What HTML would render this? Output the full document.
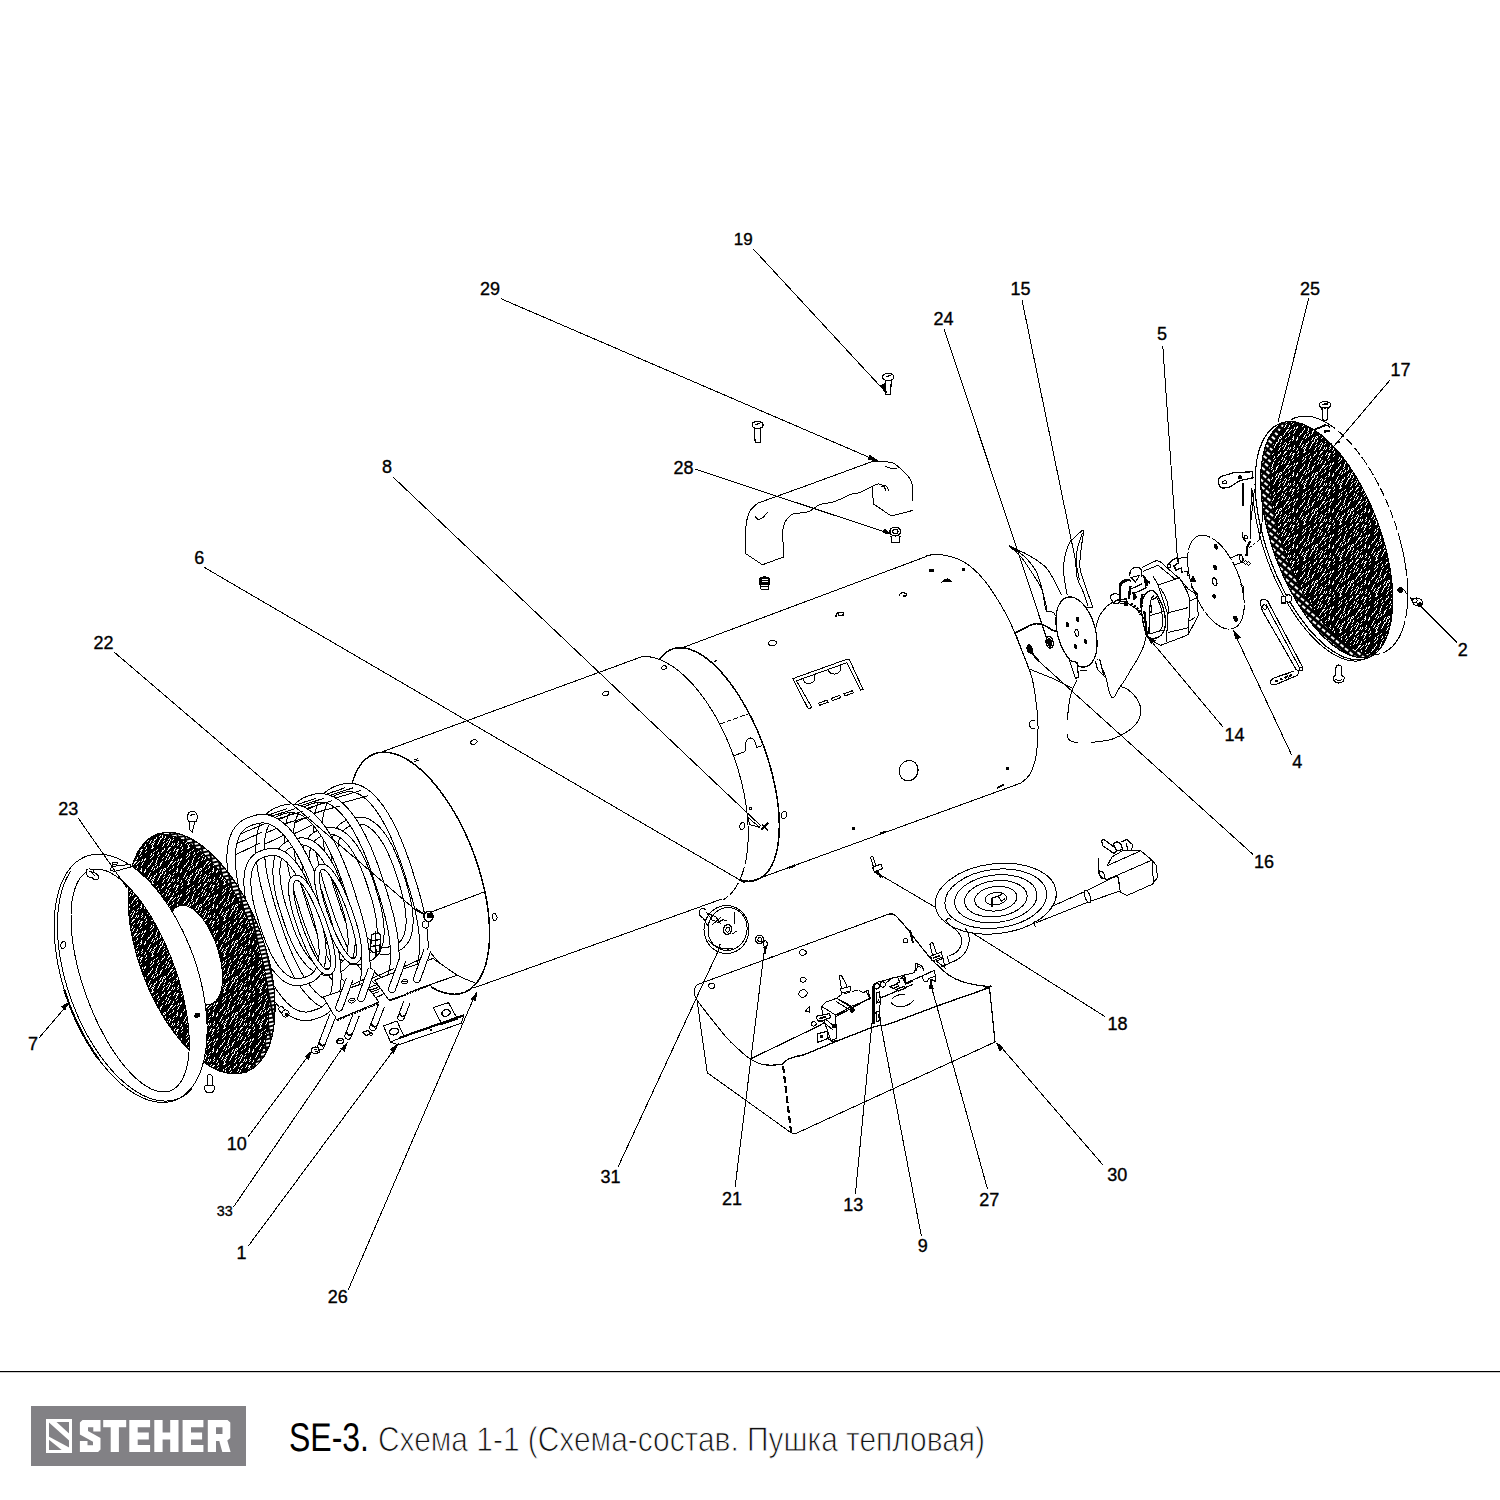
<!DOCTYPE html>
<html><head><meta charset="utf-8"><title>SE-3</title>
<style>
html,body{margin:0;padding:0;background:#fff;}
body{width:1500px;height:1500px;overflow:hidden;font-family:"Liberation Sans",sans-serif;}
svg{display:block;position:absolute;left:0;top:0;}
svg text{font-family:"Liberation Sans",sans-serif;}
</style></head><body>
<svg width="1500" height="1500" viewBox="0 0 1500 1500" shape-rendering="crispEdges">
<defs>

<pattern id="mesh" width="36" height="36" patternUnits="userSpaceOnUse"><rect width="36" height="36" fill="#000"/><g fill="#fff"><rect x="0" y="7" width="1" height="1"/><rect x="0" y="8" width="1" height="1"/><rect x="0" y="18" width="1" height="1"/><rect x="0" y="31" width="1" height="1"/><rect x="0" y="32" width="1" height="1"/><rect x="1" y="5" width="1" height="1"/><rect x="1" y="6" width="1" height="1"/><rect x="1" y="7" width="1" height="1"/><rect x="1" y="16" width="1" height="1"/><rect x="1" y="17" width="1" height="1"/><rect x="1" y="21" width="1" height="1"/><rect x="1" y="24" width="1" height="1"/><rect x="1" y="30" width="1" height="1"/><rect x="1" y="31" width="1" height="1"/><rect x="2" y="19" width="1" height="1"/><rect x="2" y="20" width="1" height="1"/><rect x="2" y="23" width="1" height="1"/><rect x="3" y="3" width="1" height="1"/><rect x="3" y="13" width="1" height="1"/><rect x="4" y="1" width="1" height="1"/><rect x="4" y="2" width="1" height="1"/><rect x="4" y="11" width="1" height="1"/><rect x="4" y="12" width="1" height="1"/><rect x="5" y="1" width="1" height="1"/><rect x="5" y="9" width="1" height="1"/><rect x="5" y="10" width="1" height="1"/><rect x="5" y="15" width="1" height="1"/><rect x="6" y="0" width="1" height="1"/><rect x="6" y="8" width="1" height="1"/><rect x="6" y="13" width="1" height="1"/><rect x="6" y="14" width="1" height="1"/><rect x="6" y="27" width="1" height="1"/><rect x="6" y="30" width="1" height="1"/><rect x="6" y="35" width="1" height="1"/><rect x="7" y="5" width="1" height="1"/><rect x="7" y="12" width="1" height="1"/><rect x="7" y="16" width="1" height="1"/><rect x="7" y="20" width="1" height="1"/><rect x="7" y="25" width="1" height="1"/><rect x="7" y="26" width="1" height="1"/><rect x="7" y="29" width="1" height="1"/><rect x="7" y="34" width="1" height="1"/><rect x="8" y="3" width="1" height="1"/><rect x="8" y="4" width="1" height="1"/><rect x="8" y="15" width="1" height="1"/><rect x="8" y="17" width="1" height="1"/><rect x="8" y="18" width="1" height="1"/><rect x="8" y="19" width="1" height="1"/><rect x="8" y="20" width="1" height="1"/><rect x="8" y="28" width="1" height="1"/><rect x="8" y="32" width="1" height="1"/><rect x="8" y="33" width="1" height="1"/><rect x="9" y="2" width="1" height="1"/><rect x="9" y="6" width="1" height="1"/><rect x="9" y="13" width="1" height="1"/><rect x="9" y="15" width="1" height="1"/><rect x="9" y="16" width="1" height="1"/><rect x="9" y="19" width="1" height="1"/><rect x="9" y="24" width="1" height="1"/><rect x="9" y="26" width="1" height="1"/><rect x="9" y="27" width="1" height="1"/><rect x="10" y="4" width="1" height="1"/><rect x="10" y="5" width="1" height="1"/><rect x="10" y="11" width="1" height="1"/><rect x="10" y="12" width="1" height="1"/><rect x="10" y="14" width="1" height="1"/><rect x="10" y="23" width="1" height="1"/><rect x="11" y="1" width="1" height="1"/><rect x="11" y="11" width="1" height="1"/><rect x="11" y="35" width="1" height="1"/><rect x="12" y="0" width="1" height="1"/><rect x="12" y="4" width="1" height="1"/><rect x="12" y="9" width="1" height="1"/><rect x="12" y="10" width="1" height="1"/><rect x="12" y="22" width="1" height="1"/><rect x="12" y="32" width="1" height="1"/><rect x="12" y="33" width="1" height="1"/><rect x="12" y="34" width="1" height="1"/><rect x="13" y="2" width="1" height="1"/><rect x="13" y="3" width="1" height="1"/><rect x="13" y="16" width="1" height="1"/><rect x="13" y="21" width="1" height="1"/><rect x="13" y="26" width="1" height="1"/><rect x="13" y="30" width="1" height="1"/><rect x="13" y="31" width="1" height="1"/><rect x="14" y="14" width="1" height="1"/><rect x="14" y="15" width="1" height="1"/><rect x="14" y="24" width="1" height="1"/><rect x="14" y="25" width="1" height="1"/><rect x="14" y="28" width="1" height="1"/><rect x="15" y="2" width="1" height="1"/><rect x="15" y="8" width="1" height="1"/><rect x="15" y="12" width="1" height="1"/><rect x="15" y="13" width="1" height="1"/><rect x="15" y="27" width="1" height="1"/><rect x="16" y="0" width="1" height="1"/><rect x="16" y="1" width="1" height="1"/><rect x="16" y="6" width="1" height="1"/><rect x="16" y="7" width="1" height="1"/><rect x="16" y="10" width="1" height="1"/><rect x="16" y="11" width="1" height="1"/><rect x="16" y="35" width="1" height="1"/><rect x="17" y="5" width="1" height="1"/><rect x="17" y="10" width="1" height="1"/><rect x="17" y="24" width="1" height="1"/><rect x="17" y="34" width="1" height="1"/><rect x="17" y="35" width="1" height="1"/><rect x="18" y="7" width="1" height="1"/><rect x="18" y="8" width="1" height="1"/><rect x="18" y="9" width="1" height="1"/><rect x="18" y="18" width="1" height="1"/><rect x="18" y="22" width="1" height="1"/><rect x="18" y="23" width="1" height="1"/><rect x="18" y="30" width="1" height="1"/><rect x="18" y="33" width="1" height="1"/><rect x="19" y="5" width="1" height="1"/><rect x="19" y="6" width="1" height="1"/><rect x="19" y="13" width="1" height="1"/><rect x="19" y="16" width="1" height="1"/><rect x="19" y="17" width="1" height="1"/><rect x="19" y="22" width="1" height="1"/><rect x="19" y="29" width="1" height="1"/><rect x="20" y="4" width="1" height="1"/><rect x="20" y="6" width="1" height="1"/><rect x="20" y="10" width="1" height="1"/><rect x="20" y="12" width="1" height="1"/><rect x="20" y="15" width="1" height="1"/><rect x="20" y="20" width="1" height="1"/><rect x="20" y="21" width="1" height="1"/><rect x="21" y="4" width="1" height="1"/><rect x="21" y="5" width="1" height="1"/><rect x="21" y="8" width="1" height="1"/><rect x="21" y="9" width="1" height="1"/><rect x="21" y="27" width="1" height="1"/><rect x="21" y="32" width="1" height="1"/><rect x="22" y="14" width="1" height="1"/><rect x="22" y="25" width="1" height="1"/><rect x="22" y="26" width="1" height="1"/><rect x="22" y="30" width="1" height="1"/><rect x="22" y="31" width="1" height="1"/><rect x="23" y="3" width="1" height="1"/><rect x="23" y="13" width="1" height="1"/><rect x="23" y="17" width="1" height="1"/><rect x="23" y="22" width="1" height="1"/><rect x="23" y="28" width="1" height="1"/><rect x="24" y="1" width="1" height="1"/><rect x="24" y="2" width="1" height="1"/><rect x="24" y="11" width="1" height="1"/><rect x="24" y="15" width="1" height="1"/><rect x="24" y="16" width="1" height="1"/><rect x="24" y="20" width="1" height="1"/><rect x="24" y="21" width="1" height="1"/><rect x="24" y="26" width="1" height="1"/><rect x="24" y="27" width="1" height="1"/><rect x="24" y="31" width="1" height="1"/><rect x="25" y="0" width="1" height="1"/><rect x="25" y="6" width="1" height="1"/><rect x="25" y="10" width="1" height="1"/><rect x="25" y="13" width="1" height="1"/><rect x="25" y="14" width="1" height="1"/><rect x="25" y="19" width="1" height="1"/><rect x="25" y="20" width="1" height="1"/><rect x="25" y="24" width="1" height="1"/><rect x="25" y="29" width="1" height="1"/><rect x="25" y="30" width="1" height="1"/><rect x="26" y="5" width="1" height="1"/><rect x="26" y="11" width="1" height="1"/><rect x="26" y="12" width="1" height="1"/><rect x="26" y="19" width="1" height="1"/><rect x="26" y="23" width="1" height="1"/><rect x="26" y="28" width="1" height="1"/><rect x="26" y="34" width="1" height="1"/><rect x="26" y="35" width="1" height="1"/><rect x="27" y="17" width="1" height="1"/><rect x="27" y="33" width="1" height="1"/><rect x="27" y="34" width="1" height="1"/><rect x="28" y="0" width="1" height="1"/><rect x="28" y="4" width="1" height="1"/><rect x="28" y="12" width="1" height="1"/><rect x="28" y="15" width="1" height="1"/><rect x="28" y="16" width="1" height="1"/><rect x="28" y="31" width="1" height="1"/><rect x="28" y="33" width="1" height="1"/><rect x="29" y="2" width="1" height="1"/><rect x="29" y="3" width="1" height="1"/><rect x="29" y="9" width="1" height="1"/><rect x="29" y="11" width="1" height="1"/><rect x="29" y="17" width="1" height="1"/><rect x="29" y="23" width="1" height="1"/><rect x="29" y="29" width="1" height="1"/><rect x="29" y="30" width="1" height="1"/><rect x="29" y="35" width="1" height="1"/><rect x="30" y="8" width="1" height="1"/><rect x="30" y="15" width="1" height="1"/><rect x="30" y="16" width="1" height="1"/><rect x="30" y="21" width="1" height="1"/><rect x="30" y="22" width="1" height="1"/><rect x="30" y="34" width="1" height="1"/><rect x="31" y="20" width="1" height="1"/><rect x="31" y="26" width="1" height="1"/><rect x="31" y="33" width="1" height="1"/><rect x="32" y="6" width="1" height="1"/><rect x="32" y="8" width="1" height="1"/><rect x="32" y="22" width="1" height="1"/><rect x="32" y="24" width="1" height="1"/><rect x="32" y="25" width="1" height="1"/><rect x="32" y="28" width="1" height="1"/><rect x="33" y="1" width="1" height="1"/><rect x="33" y="4" width="1" height="1"/><rect x="33" y="5" width="1" height="1"/><rect x="33" y="6" width="1" height="1"/><rect x="33" y="7" width="1" height="1"/><rect x="33" y="15" width="1" height="1"/><rect x="33" y="17" width="1" height="1"/><rect x="33" y="21" width="1" height="1"/><rect x="33" y="22" width="1" height="1"/><rect x="33" y="23" width="1" height="1"/><rect x="33" y="27" width="1" height="1"/><rect x="33" y="33" width="1" height="1"/><rect x="34" y="0" width="1" height="1"/><rect x="34" y="13" width="1" height="1"/><rect x="34" y="14" width="1" height="1"/><rect x="34" y="16" width="1" height="1"/><rect x="34" y="21" width="1" height="1"/><rect x="34" y="31" width="1" height="1"/><rect x="34" y="32" width="1" height="1"/><rect x="34" y="35" width="1" height="1"/><rect x="35" y="34" width="1" height="1"/></g></pattern>
<pattern id="rim" width="7" height="4" patternUnits="userSpaceOnUse" patternTransform="rotate(-12)">
  <rect width="7" height="4" fill="#000"/>
  <rect x="1" y="1" width="5" height="2" fill="#fff"/>
</pattern>
<pattern id="rim2" width="6" height="5" patternUnits="userSpaceOnUse" patternTransform="rotate(40)">
  <rect width="6" height="5" fill="#000"/>
  <rect x="1" y="1.2" width="3.8" height="2.2" fill="#fff"/>
</pattern>
<pattern id="hatch" width="4" height="4" patternUnits="userSpaceOnUse" patternTransform="rotate(-40)">
  <rect width="4" height="4" fill="#fff"/>
  <rect x="0" y="0" width="4" height="2" fill="#000"/>
</pattern>

</defs>
<rect x="0" y="0" width="1500" height="1500" fill="#fff"/>
<rect x="0" y="1371" width="1500" height="1" fill="#000"/>
<rect x="0" y="1372" width="1500" height="1" fill="#cfcfcf"/>
<rect x="31" y="1406" width="215" height="60" fill="#828185"/>
<rect x="46" y="1419.3" width="25.8" height="33.6" fill="#fff"/>
<rect x="48.7" y="1422" width="20.4" height="28.2" fill="#828185"/>
<clipPath id="icl"><rect x="48.7" y="1422" width="20.4" height="28.2"/></clipPath>
<g clip-path="url(#icl)" shape-rendering="geometricPrecision">
<polygon points="48.7,1422 56.5,1422 69.1,1433.5 69.1,1440.5 48.7,1422.2" fill="#fff"/>
<polygon points="48.7,1436.5 48.7,1439.5 62,1450.2 69.1,1450.2 69.1,1447.5 " fill="#fff"/>
</g>
<g shape-rendering="geometricPrecision" fill="#fff">
<polygon points="82.5,1420 100.5,1420 100.5,1431.5 93.3,1431.5 93.3,1427.3 88,1427.3 88,1431 100.5,1438 100.5,1449.5 98,1452 79.9,1452 79.9,1441 87.5,1441 87.5,1445.2 93,1445.2 93,1441.8 79.9,1434.5 79.9,1422.5"/>
<polygon points="103.2,1420 126.2,1420 126.2,1427.2 118.9,1427.2 118.9,1452 110.7,1452 110.7,1427.2 103.2,1427.2"/>
<polygon points="129.3,1420 150.1,1420 150.1,1427.2 137.7,1427.2 137.7,1432.5 148.8,1432.5 148.8,1439.5 137.7,1439.5 137.7,1445 150.1,1445 150.1,1452 129.3,1452"/>
<polygon points="154.3,1420 162.6,1420 162.6,1432.5 170.2,1432.5 170.2,1420 178.5,1420 178.5,1452 170.2,1452 170.2,1439.6 162.6,1439.6 162.6,1452 154.3,1452"/>
<polygon points="182.6,1420 203.4,1420 203.4,1427.2 191,1427.2 191,1432.5 202.1,1432.5 202.1,1439.5 191,1439.5 191,1445 203.4,1445 203.4,1452 182.6,1452"/>
<path fill-rule="evenodd" d="M207.8 1420 L227.5 1420 L230.3 1422.5 L230.3 1438 L227.3 1440.6 L230.6 1452 L222.3 1452 L219.3 1441 L216 1441 L216 1452 L207.8 1452 Z M216 1427.2 L222.5 1427.2 L222.5 1434 L216 1434 Z"/>
</g>
<g shape-rendering="geometricPrecision" text-rendering="geometricPrecision">
<text x="289" y="1451" font-size="40" textLength="80" lengthAdjust="spacingAndGlyphs" fill="#000">SE-3.</text>
<text x="378" y="1451" font-size="34.5" textLength="607" lengthAdjust="spacingAndGlyphs" fill="#111" stroke="#fff" stroke-width="0.9">Схема 1-1 (Схема-состав. Пушка тепловая)</text>
</g>
<line x1="380.0" y1="752.6" x2="641.0" y2="657.0" stroke="#000" stroke-width="1"/>
<line x1="473.5" y1="988.0" x2="722.5" y2="898.8" stroke="#000" stroke-width="1"/>
<path d="M640.7 656.7 L643.7 656.5 L646.8 656.6 L649.9 656.9 L653.0 657.5 L656.3 658.4 L659.5 659.5 L662.8 660.9 L666.1 662.6 L669.5 664.5 L672.8 666.6 L676.2 669.0 L679.6 671.7 L682.9 674.5 L686.3 677.7 L689.6 681.0 L692.9 684.5 L696.1 688.3 L699.3 692.2 L702.5 696.4 L705.6 700.7 L708.6 705.2 L711.6 709.8 L714.5 714.7 L717.3 719.6 L720.0 724.7 L722.6 729.9 L725.1 735.2 L727.5 740.6 L729.8 746.1 L732.0 751.7 L734.1 757.3 L736.0 763.0 L737.8 768.7 L739.5 774.5 L741.0 780.2 L742.4 786.0 L743.7 791.7 L744.8 797.5 L745.7 803.1 L746.5 808.8 L747.2 814.3 L747.7 819.8 L748.0 825.3 L748.2 830.6 L748.2 835.8 L748.1 840.9 L747.8 845.8 L747.3 850.6" fill="none" stroke="#000" stroke-width="1" />
<path d="M747.3 850.6 L747.2 852.1 L747.0 853.6 L746.8 855.0 L746.6 856.4 L746.3 857.9 L746.1 859.2 L745.8 860.6 L745.6 862.0 L745.3 863.3 L745.0 864.7 L744.6 866.0 L744.3 867.3 L744.0 868.5 L743.6 869.8 L743.2 871.0 L742.8 872.2 L742.4 873.4 L742.0 874.6 L741.6 875.8 L741.1 876.9 L740.7 878.0 L740.2 879.1 L739.7 880.2 L739.2 881.2 L738.7 882.3 L738.2 883.3 L737.6 884.3 L737.1 885.2 L736.5 886.2 L735.9 887.1 L735.3 888.0 L734.7 888.9 L734.1 889.7 L733.5 890.5 L732.8 891.4 L732.2 892.1 L731.5 892.9 L730.8 893.6 L730.1 894.3 L729.4 895.0 L728.7 895.7 L728.0 896.3 L727.3 896.9 L726.5 897.5 L725.8 898.1 L725.0 898.6 L724.2 899.2 L723.4 899.6" fill="none" stroke="#000" stroke-width="1" stroke-dasharray="14 3"/>
<path d="M350.8 788.7 L352.7 781.3 L355.1 774.6 L358.0 768.7 L361.3 763.7 L365.2 759.5 L369.5 756.2 L374.1 753.9 L379.2 752.5 L384.5 752.1 L390.1 752.7 L396.0 754.2 L402.0 756.7 L408.2 760.1 L414.5 764.4 L420.8 769.6 L427.1 775.6 L433.3 782.4 L439.4 789.9 L445.3 798.1 L451.1 806.9 L456.6 816.2 L461.8 825.9 L466.6 836.1 L471.1 846.5 L475.1 857.2 L478.7 868.0 L481.8 878.8 L484.5 889.6 L486.6 900.2 L488.1 910.7 L489.1 920.8 L489.6 930.6 L489.5 939.9 L488.8 948.6 L487.5 956.8 L485.8 964.3 L483.5 971.0 L480.6 977.0 L477.3 982.2 L473.5 986.5 L469.3 989.8 L464.7 992.3 L459.7 993.8 L454.4 994.3 L448.8 993.8 L442.9 992.4 L436.9 990.1 L430.8 986.8" fill="none" stroke="#000" stroke-width="1.5" />
<path d="M429.3 951.3 C431.2 953.4 436.3 960.0 441.0 964.0 C445.7 968.0 451.7 972.2 457.3 975.3 C462.9 978.4 471.8 981.5 474.7 982.7" fill="none" stroke="#000" stroke-width="1" />
<line x1="426.0" y1="914.0" x2="484.0" y2="892.0" stroke="#000" stroke-width="1"/>
<path d="M476.9 740.9 L477.0 741.2 L477.0 741.4 L477.0 741.7 L476.9 742.1 L476.7 742.4 L476.5 742.7 L476.3 743.0 L476.0 743.2 L475.7 743.5 L475.3 743.7 L475.0 743.9 L474.6 744.1 L474.1 744.2 L473.7 744.3 L473.3 744.3 L472.9 744.4 L472.5 744.3 L472.1 744.3 L471.8 744.2 L471.5 744.0 L471.2 743.8 L471.0 743.6 L470.8 743.4 L470.7 743.1 L470.6 742.8 L470.6 742.6 L470.6 742.3 L470.7 741.9 L470.9 741.6 L471.1 741.3 L471.3 741.0 L471.6 740.8 L471.9 740.5 L472.3 740.3 L472.6 740.1 L473.0 739.9 L473.5 739.8 L473.9 739.7 L474.3 739.7 L474.7 739.6 L475.1 739.7 L475.5 739.7 L475.8 739.8 L476.1 740.0 L476.4 740.2 L476.6 740.4 L476.8 740.6 L476.9 740.9Z" fill="#fff" stroke="#000" stroke-width="1" />
<path d="M608.9 692.4 L609.0 692.7 L609.0 692.9 L609.0 693.2 L608.9 693.6 L608.7 693.9 L608.5 694.2 L608.3 694.5 L608.0 694.7 L607.7 695.0 L607.3 695.2 L607.0 695.4 L606.6 695.6 L606.1 695.7 L605.7 695.8 L605.3 695.8 L604.9 695.9 L604.5 695.8 L604.1 695.8 L603.8 695.7 L603.5 695.5 L603.2 695.3 L603.0 695.1 L602.8 694.9 L602.7 694.6 L602.6 694.3 L602.6 694.1 L602.6 693.8 L602.7 693.4 L602.9 693.1 L603.1 692.8 L603.3 692.5 L603.6 692.3 L603.9 692.0 L604.3 691.8 L604.6 691.6 L605.0 691.4 L605.5 691.3 L605.9 691.2 L606.3 691.2 L606.7 691.1 L607.1 691.2 L607.5 691.2 L607.8 691.3 L608.1 691.5 L608.4 691.7 L608.6 691.9 L608.8 692.1 L608.9 692.4Z" fill="#fff" stroke="#000" stroke-width="1" />
<path d="M666.4 666.8 L666.5 667.0 L666.5 667.3 L666.5 667.5 L666.4 667.8 L666.3 668.0 L666.2 668.3 L666.0 668.5 L665.8 668.7 L665.5 668.9 L665.2 669.1 L664.9 669.3 L664.6 669.4 L664.3 669.5 L664.0 669.6 L663.6 669.6 L663.3 669.6 L663.0 669.6 L662.7 669.5 L662.4 669.4 L662.2 669.3 L662.0 669.2 L661.8 669.0 L661.7 668.8 L661.6 668.6 L661.5 668.4 L661.5 668.1 L661.5 667.9 L661.6 667.6 L661.7 667.4 L661.8 667.1 L662.0 666.9 L662.2 666.7 L662.5 666.5 L662.8 666.3 L663.1 666.1 L663.4 666.0 L663.7 665.9 L664.0 665.8 L664.4 665.8 L664.7 665.8 L665.0 665.8 L665.3 665.9 L665.6 666.0 L665.8 666.1 L666.0 666.2 L666.2 666.4 L666.3 666.6 L666.4 666.8Z" fill="#fff" stroke="#000" stroke-width="1" />
<path d="M496.8 916.4 L496.9 916.8 L497.0 917.3 L497.0 917.8 L497.0 918.2 L496.9 918.6 L496.8 919.0 L496.7 919.4 L496.5 919.7 L496.2 920.0 L496.0 920.2 L495.7 920.4 L495.4 920.5 L495.1 920.5 L494.8 920.5 L494.5 920.5 L494.1 920.3 L493.8 920.1 L493.5 919.9 L493.2 919.6 L493.0 919.3 L492.7 918.9 L492.5 918.5 L492.3 918.1 L492.2 917.6 L492.1 917.2 L492.0 916.7 L492.0 916.2 L492.0 915.8 L492.1 915.4 L492.2 915.0 L492.3 914.6 L492.5 914.3 L492.8 914.0 L493.0 913.8 L493.3 913.6 L493.6 913.5 L493.9 913.5 L494.2 913.5 L494.5 913.5 L494.9 913.7 L495.2 913.9 L495.5 914.1 L495.8 914.4 L496.0 914.7 L496.3 915.1 L496.5 915.5 L496.7 915.9 L496.8 916.4Z" fill="#fff" stroke="#000" stroke-width="1" />
<path d="M414 760 L418 758.5 M414.5 761.5 L418.5 760" fill="none" stroke="#000" stroke-width="1" />
<path d="M714 661.5 L717 660.5" fill="none" stroke="#000" stroke-width="1.5" />
<path d="M659.7 659.4 L662.6 655.7 L665.8 652.7 L669.3 650.4 L673.1 648.8 L677.1 647.9 L681.3 647.7 L685.8 648.2 L690.4 649.5 L695.2 651.4 L700.1 654.0 L705.1 657.3 L710.1 661.2 L715.2 665.8 L720.2 671.0 L725.3 676.8 L730.2 683.1 L735.1 689.8 L739.8 697.1 L744.4 704.8 L748.8 712.8 L753.0 721.1 L757.0 729.7 L760.7 738.5 L764.1 747.5 L767.2 756.6 L770.0 765.7 L772.4 774.8 L774.5 783.9 L776.3 792.8 L777.6 801.6 L778.6 810.1 L779.2 818.4 L779.3 826.3 L779.1 833.9 L778.5 841.0 L777.5 847.6 L776.1 853.8 L774.4 859.4 L772.3 864.4 L769.8 868.9 L767.0 872.6 L763.8 875.8 L760.4 878.2 L756.7 879.9 L752.7 881.0 L748.5 881.3 L744.1 880.9 L739.5 879.8" fill="none" stroke="#000" stroke-width="1.5" />
<line x1="679.0" y1="649.0" x2="927.0" y2="556.2" stroke="#000" stroke-width="1"/>
<line x1="749.0" y1="882.0" x2="1021.0" y2="783.0" stroke="#000" stroke-width="1"/>
<path d="M926.0 556.0 C928.3 555.7 933.7 553.4 940.0 554.4 C946.3 555.4 956.7 557.7 964.0 562.0 C971.3 566.3 977.0 571.3 984.0 580.0 C991.0 588.7 1000.0 603.0 1006.0 614.0 C1012.0 625.0 1015.7 635.3 1020.0 646.0 C1024.3 656.7 1029.2 667.3 1032.0 678.0 C1034.8 688.7 1036.0 701.3 1037.0 710.0 C1038.0 718.7 1038.2 722.3 1038.0 730.0 C1037.8 737.7 1037.3 748.7 1036.0 756.0 C1034.7 763.3 1032.5 769.5 1030.0 774.0 C1027.5 778.5 1022.5 781.5 1021.0 783.0" fill="none" stroke="#000" stroke-width="1" />
<path d="M720 724 L748 714" fill="none" stroke="#000" stroke-width="1" stroke-dasharray="5 2"/>
<path d="M733 756 L745 751.7 L745.3 745.5 Q746 738.5 750.5 738 Q755.5 738.5 756.5 747.6 L762 745.6" fill="none" stroke="#000" stroke-width="1" />
<path d="M786.4 816.1 L786.1 816.5 L785.9 817.0 L785.6 817.3 L785.2 817.7 L784.9 818.0 L784.5 818.2 L784.2 818.4 L783.8 818.5 L783.4 818.6 L783.1 818.6 L782.7 818.6 L782.4 818.4 L782.1 818.3 L781.8 818.0 L781.6 817.8 L781.4 817.4 L781.3 817.1 L781.2 816.7 L781.2 816.2 L781.2 815.8 L781.2 815.3 L781.3 814.8 L781.5 814.4 L781.6 813.9 L781.9 813.5 L782.1 813.0 L782.4 812.7 L782.8 812.3 L783.1 812.0 L783.5 811.8 L783.8 811.6 L784.2 811.5 L784.6 811.4 L784.9 811.4 L785.3 811.4 L785.6 811.6 L785.9 811.7 L786.2 812.0 L786.4 812.2 L786.6 812.6 L786.7 812.9 L786.8 813.3 L786.8 813.8 L786.8 814.2 L786.8 814.7 L786.7 815.2 L786.5 815.6 L786.4 816.1Z" fill="#fff" stroke="#000" stroke-width="1" />
<path d="M744.7 826.4 L744.6 826.9 L744.4 827.3 L744.2 827.7 L744.0 828.1 L743.8 828.5 L743.5 828.8 L743.2 829.1 L742.9 829.3 L742.6 829.4 L742.3 829.5 L742.0 829.6 L741.7 829.5 L741.4 829.5 L741.1 829.3 L740.8 829.1 L740.6 828.9 L740.4 828.6 L740.2 828.2 L740.0 827.8 L739.9 827.4 L739.9 827.0 L739.9 826.5 L739.9 826.0 L739.9 825.6 L740.0 825.1 L740.2 824.7 L740.4 824.3 L740.6 823.9 L740.8 823.5 L741.1 823.2 L741.4 822.9 L741.7 822.7 L742.0 822.6 L742.3 822.5 L742.6 822.4 L742.9 822.5 L743.2 822.5 L743.5 822.7 L743.8 822.9 L744.0 823.1 L744.2 823.4 L744.4 823.8 L744.6 824.2 L744.7 824.6 L744.7 825.0 L744.7 825.5 L744.7 826.0 L744.7 826.4Z" fill="#fff" stroke="#000" stroke-width="1" />
<rect x="749" y="807" width="2" height="2" fill="none" stroke="#000" stroke-width="1"/>
<path d="M748 817 L749.5 824.5 L760 827.5 L752 821 Z" fill="none" stroke="#000" stroke-width="1" />
<path d="M761 830 L768 823 M762 825 L768 830" fill="none" stroke="#000" stroke-width="1.6" />
<path d="M776.4 642.4 L776.4 642.8 L776.3 643.1 L776.2 643.5 L776.0 643.8 L775.8 644.1 L775.5 644.4 L775.1 644.7 L774.7 645.0 L774.3 645.2 L773.8 645.3 L773.3 645.5 L772.8 645.6 L772.2 645.6 L771.7 645.6 L771.2 645.6 L770.7 645.5 L770.3 645.4 L769.9 645.2 L769.5 645.0 L769.2 644.8 L768.9 644.5 L768.7 644.2 L768.5 643.9 L768.4 643.6 L768.4 643.2 L768.5 642.9 L768.6 642.5 L768.8 642.2 L769.0 641.9 L769.3 641.6 L769.7 641.3 L770.1 641.0 L770.5 640.8 L771.0 640.7 L771.5 640.5 L772.0 640.4 L772.6 640.4 L773.1 640.4 L773.6 640.4 L774.1 640.5 L774.5 640.6 L774.9 640.8 L775.3 641.0 L775.6 641.2 L775.9 641.5 L776.1 641.8 L776.3 642.1 L776.4 642.4Z" fill="#fff" stroke="#000" stroke-width="1" />
<path d="M836 616.5 Q836 612.5 840 612.5 Q844 612.8 843.5 616.5" fill="none" stroke="#000" stroke-width="1.3" />
<path d="M899.5 596.5 Q899 592.5 903.5 592.8 Q907 593 906.5 596.5 M903 596 L906 596" fill="none" stroke="#000" stroke-width="1.3" />
<rect x="929" y="569" width="5" height="3" fill="#000"/>
<rect x="962" y="568" width="3" height="3" fill="#000"/>
<path d="M942.5 582 Q947 576 951.5 581.5 Z" fill="#000" stroke="#000" stroke-width="1" />
<path d="M843.3 613.1 L843.4 613.4 L843.4 613.6 L843.4 613.9 L843.3 614.1 L843.2 614.4 L843.1 614.6 L842.9 614.8 L842.7 615.0 L842.5 615.2 L842.2 615.4 L841.9 615.6 L841.6 615.7 L841.3 615.8 L841.0 615.9 L840.7 615.9 L840.4 615.9 L840.1 615.9 L839.8 615.8 L839.5 615.7 L839.3 615.6 L839.1 615.4 L838.9 615.3 L838.8 615.1 L838.7 614.9 L838.6 614.6 L838.6 614.4 L838.6 614.1 L838.7 613.9 L838.8 613.6 L838.9 613.4 L839.1 613.2 L839.3 613.0 L839.5 612.8 L839.8 612.6 L840.1 612.4 L840.4 612.3 L840.7 612.2 L841.0 612.1 L841.3 612.1 L841.6 612.1 L841.9 612.1 L842.2 612.2 L842.5 612.3 L842.7 612.4 L842.9 612.6 L843.1 612.7 L843.2 612.9 L843.3 613.1Z" fill="#fff" stroke="#000" stroke-width="1" />
<path d="M917.3 773.8 L916.8 775.0 L916.1 776.2 L915.3 777.2 L914.4 778.1 L913.4 779.0 L912.3 779.6 L911.2 780.1 L909.9 780.5 L908.7 780.7 L907.5 780.7 L906.3 780.5 L905.1 780.2 L904.0 779.7 L903.0 779.0 L902.0 778.2 L901.2 777.3 L900.5 776.3 L900.0 775.1 L899.5 773.9 L899.3 772.6 L899.2 771.3 L899.3 770.0 L899.5 768.7 L899.9 767.4 L900.4 766.2 L901.1 765.0 L901.9 764.0 L902.8 763.1 L903.8 762.2 L904.9 761.6 L906.0 761.1 L907.3 760.7 L908.5 760.5 L909.7 760.5 L910.9 760.7 L912.1 761.0 L913.2 761.5 L914.2 762.2 L915.2 763.0 L916.0 763.9 L916.7 764.9 L917.2 766.1 L917.7 767.3 L917.9 768.6 L918.0 769.9 L917.9 771.2 L917.7 772.5 L917.3 773.8Z" fill="none" stroke="#000" stroke-width="1.2" />
<path d="M1035.5 720.5 Q1030 719 1029.5 724.5 Q1030 729.5 1035 728.5" fill="none" stroke="#000" stroke-width="1" />
<rect x="1006" y="766.5" width="3" height="3" fill="#000"/>
<path d="M997 788 L1004 784.5" fill="none" stroke="#000" stroke-width="2.2" />
<rect x="852" y="827" width="2.5" height="2.5" fill="#000"/>
<path d="M880 833.8 L886 831.6" fill="none" stroke="#000" stroke-width="2.2" />
<path d="M789 867.7 L795 865.5" fill="none" stroke="#000" stroke-width="2.2" />
<path d="M792.7 678.7 L846.7 659.3 Q849 658.5 850 661 L863 689.3 L860.5 690.3 L847 662.7 L796.5 680.8 L811.5 706.8 L810 709 L807.8 708 Z" fill="none" stroke="#000" stroke-width="1" />
<path d="M799.5 680 L803 678.8 Q804.5 684.5 810.5 683.3 Q816.5 681.5 814 674.5 L817.5 673.5" fill="none" stroke="#000" stroke-width="1" />
<path d="M828 670 Q830.5 675 836.5 673.8 Q842 672 840 664.5" fill="none" stroke="#000" stroke-width="1" />
<rect x="818.8" y="701.5" width="9" height="2.4" fill="none" stroke="#000" stroke-width="1" transform="rotate(-20 823.3 702.7)"/>
<rect x="831.5" y="696.8" width="9" height="2.4" fill="none" stroke="#000" stroke-width="1" transform="rotate(-20 836.0 698.0)"/>
<rect x="844.2" y="692.1" width="9" height="2.4" fill="none" stroke="#000" stroke-width="1" transform="rotate(-20 848.7 693.3)"/>
<path d="M400.5 876.5 L403.4 885.6 L405.3 892.3 L406.8 898.4 L407.9 904.0 L408.8 909.2 L409.3 914.1 L409.6 918.7 L409.6 923.1 L409.3 927.1 L408.8 930.8 L407.9 934.2 L406.8 937.3 L405.5 940.0 L403.8 942.5 L401.8 944.6 L399.5 946.5 L396.7 948.0 L392.7 949.5 L388.6 950.6 L385.4 951.0 L382.5 950.9 L379.6 950.4 L376.8 949.4 L374.1 947.9 L371.4 946.1 L368.7 943.8 L366.1 941.1 L363.5 938.0 L360.9 934.5 L358.5 930.7 L356.0 926.4 L353.6 921.6 L351.3 916.4 L348.9 910.7 L346.5 904.1 L343.5 895.1 L340.6 886.0 L338.7 879.3 L337.2 873.2 L336.1 867.6 L335.2 862.4 L334.7 857.5 L334.4 852.9 L334.4 848.5 L334.7 844.5 L335.2 840.8 L336.1 837.4 L337.2 834.3 L338.5 831.6 L340.2 829.1 L342.2 827.0 L344.5 825.1 L347.3 823.6 L351.3 822.1 L355.4 821.0 L358.6 820.6 L361.5 820.7 L364.4 821.2 L367.2 822.2 L369.9 823.7 L372.6 825.5 L375.3 827.8 L377.9 830.5 L380.5 833.6 L383.1 837.1 L385.5 840.9 L388.0 845.2 L390.4 850.0 L392.7 855.2 L395.1 860.9 L397.5 867.5 L400.5 876.5Z" fill="none" stroke="#000" stroke-width="8" stroke-linejoin="round"/>
<path d="M400.5 876.5 L403.4 885.6 L405.3 892.3 L406.8 898.4 L407.9 904.0 L408.8 909.2 L409.3 914.1 L409.6 918.7 L409.6 923.1 L409.3 927.1 L408.8 930.8 L407.9 934.2 L406.8 937.3 L405.5 940.0 L403.8 942.5 L401.8 944.6 L399.5 946.5 L396.7 948.0 L392.7 949.5 L388.6 950.6 L385.4 951.0 L382.5 950.9 L379.6 950.4 L376.8 949.4 L374.1 947.9 L371.4 946.1 L368.7 943.8 L366.1 941.1 L363.5 938.0 L360.9 934.5 L358.5 930.7 L356.0 926.4 L353.6 921.6 L351.3 916.4 L348.9 910.7 L346.5 904.1 L343.5 895.1 L340.6 886.0 L338.7 879.3 L337.2 873.2 L336.1 867.6 L335.2 862.4 L334.7 857.5 L334.4 852.9 L334.4 848.5 L334.7 844.5 L335.2 840.8 L336.1 837.4 L337.2 834.3 L338.5 831.6 L340.2 829.1 L342.2 827.0 L344.5 825.1 L347.3 823.6 L351.3 822.1 L355.4 821.0 L358.6 820.6 L361.5 820.7 L364.4 821.2 L367.2 822.2 L369.9 823.7 L372.6 825.5 L375.3 827.8 L377.9 830.5 L380.5 833.6 L383.1 837.1 L385.5 840.9 L388.0 845.2 L390.4 850.0 L392.7 855.2 L395.1 860.9 L397.5 867.5 L400.5 876.5Z" fill="none" stroke="#fff" stroke-width="6" stroke-linejoin="round"/>
<path d="M409.0 873.9 L413.4 887.8 L416.3 898.0 L418.7 907.2 L420.6 915.7 L422.0 923.6 L423.0 931.0 L423.6 937.9 L423.9 944.4 L423.7 950.5 L423.2 956.0 L422.3 961.1 L420.9 965.7 L419.2 969.8 L417.1 973.4 L414.6 976.5 L411.5 979.1 L407.8 981.3 L402.5 983.3 L397.0 984.8 L392.8 985.2 L388.8 984.8 L384.9 983.8 L381.0 982.2 L377.2 979.9 L373.5 976.9 L369.8 973.4 L366.1 969.2 L362.4 964.4 L358.8 959.0 L355.2 953.0 L351.7 946.4 L348.2 939.2 L344.7 931.2 L341.2 922.4 L337.5 912.4 L333.0 898.7 L328.6 884.8 L325.7 874.6 L323.3 865.4 L321.4 856.9 L320.0 849.0 L319.0 841.6 L318.4 834.7 L318.1 828.2 L318.3 822.1 L318.8 816.6 L319.7 811.5 L321.1 806.9 L322.8 802.8 L324.9 799.2 L327.4 796.1 L330.5 793.5 L334.2 791.3 L339.5 789.3 L345.0 787.8 L349.2 787.4 L353.2 787.8 L357.1 788.8 L361.0 790.4 L364.8 792.7 L368.5 795.7 L372.2 799.2 L375.9 803.4 L379.6 808.2 L383.2 813.6 L386.8 819.6 L390.3 826.2 L393.8 833.4 L397.3 841.4 L400.8 850.2 L404.5 860.2 L409.0 873.9Z" fill="none" stroke="#000" stroke-width="9.5" stroke-linejoin="round"/>
<path d="M409.0 873.9 L413.4 887.8 L416.3 898.0 L418.7 907.2 L420.6 915.7 L422.0 923.6 L423.0 931.0 L423.6 937.9 L423.9 944.4 L423.7 950.5 L423.2 956.0 L422.3 961.1 L420.9 965.7 L419.2 969.8 L417.1 973.4 L414.6 976.5 L411.5 979.1 L407.8 981.3 L402.5 983.3 L397.0 984.8 L392.8 985.2 L388.8 984.8 L384.9 983.8 L381.0 982.2 L377.2 979.9 L373.5 976.9 L369.8 973.4 L366.1 969.2 L362.4 964.4 L358.8 959.0 L355.2 953.0 L351.7 946.4 L348.2 939.2 L344.7 931.2 L341.2 922.4 L337.5 912.4 L333.0 898.7 L328.6 884.8 L325.7 874.6 L323.3 865.4 L321.4 856.9 L320.0 849.0 L319.0 841.6 L318.4 834.7 L318.1 828.2 L318.3 822.1 L318.8 816.6 L319.7 811.5 L321.1 806.9 L322.8 802.8 L324.9 799.2 L327.4 796.1 L330.5 793.5 L334.2 791.3 L339.5 789.3 L345.0 787.8 L349.2 787.4 L353.2 787.8 L357.1 788.8 L361.0 790.4 L364.8 792.7 L368.5 795.7 L372.2 799.2 L375.9 803.4 L379.6 808.2 L383.2 813.6 L386.8 819.6 L390.3 826.2 L393.8 833.4 L397.3 841.4 L400.8 850.2 L404.5 860.2 L409.0 873.9Z" fill="none" stroke="#fff" stroke-width="7.5" stroke-linejoin="round"/>
<line x1="289.1" y1="836.1" x2="318.3" y2="822.1" stroke="#000" stroke-width="1"/>
<line x1="290.1" y1="824.9" x2="319.7" y2="811.5" stroke="#000" stroke-width="1"/>
<line x1="292.7" y1="815.6" x2="322.8" y2="802.8" stroke="#000" stroke-width="1"/>
<line x1="296.9" y1="808.3" x2="327.4" y2="796.1" stroke="#000" stroke-width="1"/>
<line x1="302.9" y1="803.0" x2="334.2" y2="791.3" stroke="#000" stroke-width="1"/>
<line x1="313.1" y1="798.9" x2="345.0" y2="787.8" stroke="#000" stroke-width="1"/>
<line x1="321.9" y1="797.9" x2="353.2" y2="787.8" stroke="#000" stroke-width="1"/>
<line x1="329.7" y1="799.8" x2="361.0" y2="790.4" stroke="#000" stroke-width="1"/>
<line x1="337.3" y1="804.2" x2="368.5" y2="795.7" stroke="#000" stroke-width="1"/>
<line x1="393.3" y1="971.5" x2="422.9" y2="958.1" stroke="#000" stroke-width="1"/>
<line x1="389.8" y1="980.9" x2="420.0" y2="968.2" stroke="#000" stroke-width="1"/>
<line x1="384.4" y1="988.0" x2="415.1" y2="975.9" stroke="#000" stroke-width="1"/>
<line x1="376.1" y1="992.8" x2="407.8" y2="981.3" stroke="#000" stroke-width="1"/>
<line x1="364.6" y1="995.6" x2="396.1" y2="984.9" stroke="#000" stroke-width="1"/>
<line x1="355.9" y1="994.2" x2="387.2" y2="984.5" stroke="#000" stroke-width="1"/>
<path d="M371.5 886.9 L374.4 896.0 L376.3 902.7 L377.8 908.8 L378.9 914.4 L379.8 919.6 L380.3 924.5 L380.6 929.1 L380.6 933.5 L380.3 937.5 L379.8 941.2 L378.9 944.6 L377.8 947.7 L376.5 950.4 L374.8 952.9 L372.8 955.0 L370.5 956.9 L367.7 958.4 L363.7 959.9 L359.6 961.0 L356.4 961.4 L353.5 961.3 L350.6 960.8 L347.8 959.8 L345.1 958.3 L342.4 956.5 L339.7 954.2 L337.1 951.5 L334.5 948.4 L331.9 944.9 L329.5 941.1 L327.0 936.8 L324.6 932.0 L322.3 926.8 L319.9 921.1 L317.5 914.5 L314.5 905.5 L311.6 896.4 L309.7 889.7 L308.2 883.6 L307.1 878.0 L306.2 872.8 L305.7 867.9 L305.4 863.3 L305.4 858.9 L305.7 854.9 L306.2 851.2 L307.1 847.8 L308.2 844.7 L309.5 842.0 L311.2 839.5 L313.2 837.4 L315.5 835.5 L318.3 834.0 L322.3 832.5 L326.4 831.4 L329.6 831.0 L332.5 831.1 L335.4 831.6 L338.2 832.6 L340.9 834.1 L343.6 835.9 L346.3 838.2 L348.9 840.9 L351.5 844.0 L354.1 847.5 L356.5 851.3 L359.0 855.6 L361.4 860.4 L363.7 865.6 L366.1 871.3 L368.5 877.9 L371.5 886.9Z" fill="none" stroke="#000" stroke-width="8" stroke-linejoin="round"/>
<path d="M371.5 886.9 L374.4 896.0 L376.3 902.7 L377.8 908.8 L378.9 914.4 L379.8 919.6 L380.3 924.5 L380.6 929.1 L380.6 933.5 L380.3 937.5 L379.8 941.2 L378.9 944.6 L377.8 947.7 L376.5 950.4 L374.8 952.9 L372.8 955.0 L370.5 956.9 L367.7 958.4 L363.7 959.9 L359.6 961.0 L356.4 961.4 L353.5 961.3 L350.6 960.8 L347.8 959.8 L345.1 958.3 L342.4 956.5 L339.7 954.2 L337.1 951.5 L334.5 948.4 L331.9 944.9 L329.5 941.1 L327.0 936.8 L324.6 932.0 L322.3 926.8 L319.9 921.1 L317.5 914.5 L314.5 905.5 L311.6 896.4 L309.7 889.7 L308.2 883.6 L307.1 878.0 L306.2 872.8 L305.7 867.9 L305.4 863.3 L305.4 858.9 L305.7 854.9 L306.2 851.2 L307.1 847.8 L308.2 844.7 L309.5 842.0 L311.2 839.5 L313.2 837.4 L315.5 835.5 L318.3 834.0 L322.3 832.5 L326.4 831.4 L329.6 831.0 L332.5 831.1 L335.4 831.6 L338.2 832.6 L340.9 834.1 L343.6 835.9 L346.3 838.2 L348.9 840.9 L351.5 844.0 L354.1 847.5 L356.5 851.3 L359.0 855.6 L361.4 860.4 L363.7 865.6 L366.1 871.3 L368.5 877.9 L371.5 886.9Z" fill="none" stroke="#fff" stroke-width="6" stroke-linejoin="round"/>
<path d="M380.0 884.3 L384.4 898.2 L387.3 908.4 L389.7 917.6 L391.6 926.1 L393.0 934.0 L394.0 941.4 L394.6 948.3 L394.9 954.8 L394.7 960.9 L394.2 966.4 L393.3 971.5 L391.9 976.1 L390.2 980.2 L388.1 983.8 L385.6 986.9 L382.5 989.5 L378.8 991.7 L373.5 993.7 L368.0 995.2 L363.8 995.6 L359.8 995.2 L355.9 994.2 L352.0 992.6 L348.2 990.3 L344.5 987.3 L340.8 983.8 L337.1 979.6 L333.4 974.8 L329.8 969.4 L326.2 963.4 L322.7 956.8 L319.2 949.6 L315.7 941.6 L312.2 932.8 L308.5 922.8 L304.0 909.1 L299.6 895.2 L296.7 885.0 L294.3 875.8 L292.4 867.3 L291.0 859.4 L290.0 852.0 L289.4 845.1 L289.1 838.6 L289.3 832.5 L289.8 827.0 L290.7 821.9 L292.1 817.3 L293.8 813.2 L295.9 809.6 L298.4 806.5 L301.5 803.9 L305.2 801.7 L310.5 799.7 L316.0 798.2 L320.2 797.8 L324.2 798.2 L328.1 799.2 L332.0 800.8 L335.8 803.1 L339.5 806.1 L343.2 809.6 L346.9 813.8 L350.6 818.6 L354.2 824.0 L357.8 830.0 L361.3 836.6 L364.8 843.8 L368.3 851.8 L371.8 860.6 L375.5 870.6 L380.0 884.3Z" fill="none" stroke="#000" stroke-width="9.5" stroke-linejoin="round"/>
<path d="M380.0 884.3 L384.4 898.2 L387.3 908.4 L389.7 917.6 L391.6 926.1 L393.0 934.0 L394.0 941.4 L394.6 948.3 L394.9 954.8 L394.7 960.9 L394.2 966.4 L393.3 971.5 L391.9 976.1 L390.2 980.2 L388.1 983.8 L385.6 986.9 L382.5 989.5 L378.8 991.7 L373.5 993.7 L368.0 995.2 L363.8 995.6 L359.8 995.2 L355.9 994.2 L352.0 992.6 L348.2 990.3 L344.5 987.3 L340.8 983.8 L337.1 979.6 L333.4 974.8 L329.8 969.4 L326.2 963.4 L322.7 956.8 L319.2 949.6 L315.7 941.6 L312.2 932.8 L308.5 922.8 L304.0 909.1 L299.6 895.2 L296.7 885.0 L294.3 875.8 L292.4 867.3 L291.0 859.4 L290.0 852.0 L289.4 845.1 L289.1 838.6 L289.3 832.5 L289.8 827.0 L290.7 821.9 L292.1 817.3 L293.8 813.2 L295.9 809.6 L298.4 806.5 L301.5 803.9 L305.2 801.7 L310.5 799.7 L316.0 798.2 L320.2 797.8 L324.2 798.2 L328.1 799.2 L332.0 800.8 L335.8 803.1 L339.5 806.1 L343.2 809.6 L346.9 813.8 L350.6 818.6 L354.2 824.0 L357.8 830.0 L361.3 836.6 L364.8 843.8 L368.3 851.8 L371.8 860.6 L375.5 870.6 L380.0 884.3Z" fill="none" stroke="#fff" stroke-width="7.5" stroke-linejoin="round"/>
<line x1="260.1" y1="846.5" x2="289.3" y2="832.5" stroke="#000" stroke-width="1"/>
<line x1="261.1" y1="835.3" x2="290.7" y2="821.9" stroke="#000" stroke-width="1"/>
<line x1="263.7" y1="826.0" x2="293.8" y2="813.2" stroke="#000" stroke-width="1"/>
<line x1="267.9" y1="818.7" x2="298.4" y2="806.5" stroke="#000" stroke-width="1"/>
<line x1="273.9" y1="813.4" x2="305.2" y2="801.7" stroke="#000" stroke-width="1"/>
<line x1="284.1" y1="809.3" x2="316.0" y2="798.2" stroke="#000" stroke-width="1"/>
<line x1="292.9" y1="808.3" x2="324.2" y2="798.2" stroke="#000" stroke-width="1"/>
<line x1="300.7" y1="810.2" x2="332.0" y2="800.8" stroke="#000" stroke-width="1"/>
<line x1="308.3" y1="814.6" x2="339.5" y2="806.1" stroke="#000" stroke-width="1"/>
<line x1="364.3" y1="981.9" x2="393.9" y2="968.5" stroke="#000" stroke-width="1"/>
<line x1="360.8" y1="991.3" x2="391.0" y2="978.6" stroke="#000" stroke-width="1"/>
<line x1="355.4" y1="998.4" x2="386.1" y2="986.3" stroke="#000" stroke-width="1"/>
<line x1="347.1" y1="1003.2" x2="378.8" y2="991.7" stroke="#000" stroke-width="1"/>
<line x1="335.6" y1="1006.0" x2="367.1" y2="995.3" stroke="#000" stroke-width="1"/>
<line x1="326.9" y1="1004.6" x2="358.2" y2="994.9" stroke="#000" stroke-width="1"/>
<path d="M342.5 897.3 L345.4 906.4 L347.3 913.1 L348.8 919.2 L349.9 924.8 L350.8 930.0 L351.3 934.9 L351.6 939.5 L351.6 943.9 L351.3 947.9 L350.8 951.6 L349.9 955.0 L348.8 958.1 L347.5 960.8 L345.8 963.3 L343.8 965.4 L341.5 967.3 L338.7 968.8 L334.7 970.3 L330.6 971.4 L327.4 971.8 L324.5 971.7 L321.6 971.2 L318.8 970.2 L316.1 968.7 L313.4 966.9 L310.7 964.6 L308.1 961.9 L305.5 958.8 L302.9 955.3 L300.5 951.5 L298.0 947.2 L295.6 942.4 L293.3 937.2 L290.9 931.5 L288.5 924.9 L285.5 915.9 L282.6 906.8 L280.7 900.1 L279.2 894.0 L278.1 888.4 L277.2 883.2 L276.7 878.3 L276.4 873.7 L276.4 869.3 L276.7 865.3 L277.2 861.6 L278.1 858.2 L279.2 855.1 L280.5 852.4 L282.2 849.9 L284.2 847.8 L286.5 845.9 L289.3 844.4 L293.3 842.9 L297.4 841.8 L300.6 841.4 L303.5 841.5 L306.4 842.0 L309.2 843.0 L311.9 844.5 L314.6 846.3 L317.3 848.6 L319.9 851.3 L322.5 854.4 L325.1 857.9 L327.5 861.7 L330.0 866.0 L332.4 870.8 L334.7 876.0 L337.1 881.7 L339.5 888.3 L342.5 897.3Z" fill="none" stroke="#000" stroke-width="8" stroke-linejoin="round"/>
<path d="M342.5 897.3 L345.4 906.4 L347.3 913.1 L348.8 919.2 L349.9 924.8 L350.8 930.0 L351.3 934.9 L351.6 939.5 L351.6 943.9 L351.3 947.9 L350.8 951.6 L349.9 955.0 L348.8 958.1 L347.5 960.8 L345.8 963.3 L343.8 965.4 L341.5 967.3 L338.7 968.8 L334.7 970.3 L330.6 971.4 L327.4 971.8 L324.5 971.7 L321.6 971.2 L318.8 970.2 L316.1 968.7 L313.4 966.9 L310.7 964.6 L308.1 961.9 L305.5 958.8 L302.9 955.3 L300.5 951.5 L298.0 947.2 L295.6 942.4 L293.3 937.2 L290.9 931.5 L288.5 924.9 L285.5 915.9 L282.6 906.8 L280.7 900.1 L279.2 894.0 L278.1 888.4 L277.2 883.2 L276.7 878.3 L276.4 873.7 L276.4 869.3 L276.7 865.3 L277.2 861.6 L278.1 858.2 L279.2 855.1 L280.5 852.4 L282.2 849.9 L284.2 847.8 L286.5 845.9 L289.3 844.4 L293.3 842.9 L297.4 841.8 L300.6 841.4 L303.5 841.5 L306.4 842.0 L309.2 843.0 L311.9 844.5 L314.6 846.3 L317.3 848.6 L319.9 851.3 L322.5 854.4 L325.1 857.9 L327.5 861.7 L330.0 866.0 L332.4 870.8 L334.7 876.0 L337.1 881.7 L339.5 888.3 L342.5 897.3Z" fill="none" stroke="#fff" stroke-width="6" stroke-linejoin="round"/>
<path d="M351.0 894.7 L355.4 908.6 L358.3 918.8 L360.7 928.0 L362.6 936.5 L364.0 944.4 L365.0 951.8 L365.6 958.7 L365.9 965.2 L365.7 971.3 L365.2 976.8 L364.3 981.9 L362.9 986.5 L361.2 990.6 L359.1 994.2 L356.6 997.3 L353.5 999.9 L349.8 1002.1 L344.5 1004.1 L339.0 1005.6 L334.8 1006.0 L330.8 1005.6 L326.9 1004.6 L323.0 1003.0 L319.2 1000.7 L315.5 997.7 L311.8 994.2 L308.1 990.0 L304.4 985.2 L300.8 979.8 L297.2 973.8 L293.7 967.2 L290.2 960.0 L286.7 952.0 L283.2 943.2 L279.5 933.2 L275.0 919.5 L270.6 905.6 L267.7 895.4 L265.3 886.2 L263.4 877.7 L262.0 869.8 L261.0 862.4 L260.4 855.5 L260.1 849.0 L260.3 842.9 L260.8 837.4 L261.7 832.3 L263.1 827.7 L264.8 823.6 L266.9 820.0 L269.4 816.9 L272.5 814.3 L276.2 812.1 L281.5 810.1 L287.0 808.6 L291.2 808.2 L295.2 808.6 L299.1 809.6 L303.0 811.2 L306.8 813.5 L310.5 816.5 L314.2 820.0 L317.9 824.2 L321.6 829.0 L325.2 834.4 L328.8 840.4 L332.3 847.0 L335.8 854.2 L339.3 862.2 L342.8 871.0 L346.5 881.0 L351.0 894.7Z" fill="none" stroke="#000" stroke-width="9.5" stroke-linejoin="round"/>
<path d="M351.0 894.7 L355.4 908.6 L358.3 918.8 L360.7 928.0 L362.6 936.5 L364.0 944.4 L365.0 951.8 L365.6 958.7 L365.9 965.2 L365.7 971.3 L365.2 976.8 L364.3 981.9 L362.9 986.5 L361.2 990.6 L359.1 994.2 L356.6 997.3 L353.5 999.9 L349.8 1002.1 L344.5 1004.1 L339.0 1005.6 L334.8 1006.0 L330.8 1005.6 L326.9 1004.6 L323.0 1003.0 L319.2 1000.7 L315.5 997.7 L311.8 994.2 L308.1 990.0 L304.4 985.2 L300.8 979.8 L297.2 973.8 L293.7 967.2 L290.2 960.0 L286.7 952.0 L283.2 943.2 L279.5 933.2 L275.0 919.5 L270.6 905.6 L267.7 895.4 L265.3 886.2 L263.4 877.7 L262.0 869.8 L261.0 862.4 L260.4 855.5 L260.1 849.0 L260.3 842.9 L260.8 837.4 L261.7 832.3 L263.1 827.7 L264.8 823.6 L266.9 820.0 L269.4 816.9 L272.5 814.3 L276.2 812.1 L281.5 810.1 L287.0 808.6 L291.2 808.2 L295.2 808.6 L299.1 809.6 L303.0 811.2 L306.8 813.5 L310.5 816.5 L314.2 820.0 L317.9 824.2 L321.6 829.0 L325.2 834.4 L328.8 840.4 L332.3 847.0 L335.8 854.2 L339.3 862.2 L342.8 871.0 L346.5 881.0 L351.0 894.7Z" fill="none" stroke="#fff" stroke-width="7.5" stroke-linejoin="round"/>
<line x1="231.1" y1="856.9" x2="260.3" y2="842.9" stroke="#000" stroke-width="1"/>
<line x1="232.1" y1="845.7" x2="261.7" y2="832.3" stroke="#000" stroke-width="1"/>
<line x1="234.7" y1="836.4" x2="264.8" y2="823.6" stroke="#000" stroke-width="1"/>
<line x1="238.9" y1="829.1" x2="269.4" y2="816.9" stroke="#000" stroke-width="1"/>
<line x1="244.9" y1="823.8" x2="276.2" y2="812.1" stroke="#000" stroke-width="1"/>
<line x1="255.1" y1="819.7" x2="287.0" y2="808.6" stroke="#000" stroke-width="1"/>
<line x1="263.9" y1="818.7" x2="295.2" y2="808.6" stroke="#000" stroke-width="1"/>
<line x1="271.7" y1="820.6" x2="303.0" y2="811.2" stroke="#000" stroke-width="1"/>
<line x1="279.3" y1="825.0" x2="310.5" y2="816.5" stroke="#000" stroke-width="1"/>
<line x1="335.3" y1="992.3" x2="364.9" y2="978.9" stroke="#000" stroke-width="1"/>
<line x1="331.8" y1="1001.7" x2="362.0" y2="989.0" stroke="#000" stroke-width="1"/>
<line x1="326.4" y1="1008.8" x2="357.1" y2="996.7" stroke="#000" stroke-width="1"/>
<line x1="318.1" y1="1013.6" x2="349.8" y2="1002.1" stroke="#000" stroke-width="1"/>
<line x1="306.6" y1="1016.4" x2="338.1" y2="1005.7" stroke="#000" stroke-width="1"/>
<line x1="297.9" y1="1015.0" x2="329.2" y2="1005.3" stroke="#000" stroke-width="1"/>
<path d="M313.5 907.7 L316.4 916.8 L318.3 923.5 L319.8 929.6 L320.9 935.2 L321.8 940.4 L322.3 945.3 L322.6 949.9 L322.6 954.3 L322.3 958.3 L321.8 962.0 L320.9 965.4 L319.8 968.5 L318.5 971.2 L316.8 973.7 L314.8 975.8 L312.5 977.7 L309.7 979.2 L305.7 980.7 L301.6 981.8 L298.4 982.2 L295.5 982.1 L292.6 981.6 L289.8 980.6 L287.1 979.1 L284.4 977.3 L281.7 975.0 L279.1 972.3 L276.5 969.2 L273.9 965.7 L271.5 961.9 L269.0 957.6 L266.6 952.8 L264.3 947.6 L261.9 941.9 L259.5 935.3 L256.5 926.3 L253.6 917.2 L251.7 910.5 L250.2 904.4 L249.1 898.8 L248.2 893.6 L247.7 888.7 L247.4 884.1 L247.4 879.7 L247.7 875.7 L248.2 872.0 L249.1 868.6 L250.2 865.5 L251.5 862.8 L253.2 860.3 L255.2 858.2 L257.5 856.3 L260.3 854.8 L264.3 853.3 L268.4 852.2 L271.6 851.8 L274.5 851.9 L277.4 852.4 L280.2 853.4 L282.9 854.9 L285.6 856.7 L288.3 859.0 L290.9 861.7 L293.5 864.8 L296.1 868.3 L298.5 872.1 L301.0 876.4 L303.4 881.2 L305.7 886.4 L308.1 892.1 L310.5 898.7 L313.5 907.7Z" fill="none" stroke="#000" stroke-width="8" stroke-linejoin="round"/>
<path d="M313.5 907.7 L316.4 916.8 L318.3 923.5 L319.8 929.6 L320.9 935.2 L321.8 940.4 L322.3 945.3 L322.6 949.9 L322.6 954.3 L322.3 958.3 L321.8 962.0 L320.9 965.4 L319.8 968.5 L318.5 971.2 L316.8 973.7 L314.8 975.8 L312.5 977.7 L309.7 979.2 L305.7 980.7 L301.6 981.8 L298.4 982.2 L295.5 982.1 L292.6 981.6 L289.8 980.6 L287.1 979.1 L284.4 977.3 L281.7 975.0 L279.1 972.3 L276.5 969.2 L273.9 965.7 L271.5 961.9 L269.0 957.6 L266.6 952.8 L264.3 947.6 L261.9 941.9 L259.5 935.3 L256.5 926.3 L253.6 917.2 L251.7 910.5 L250.2 904.4 L249.1 898.8 L248.2 893.6 L247.7 888.7 L247.4 884.1 L247.4 879.7 L247.7 875.7 L248.2 872.0 L249.1 868.6 L250.2 865.5 L251.5 862.8 L253.2 860.3 L255.2 858.2 L257.5 856.3 L260.3 854.8 L264.3 853.3 L268.4 852.2 L271.6 851.8 L274.5 851.9 L277.4 852.4 L280.2 853.4 L282.9 854.9 L285.6 856.7 L288.3 859.0 L290.9 861.7 L293.5 864.8 L296.1 868.3 L298.5 872.1 L301.0 876.4 L303.4 881.2 L305.7 886.4 L308.1 892.1 L310.5 898.7 L313.5 907.7Z" fill="none" stroke="#fff" stroke-width="6" stroke-linejoin="round"/>
<path d="M322.0 905.1 L326.4 919.0 L329.3 929.2 L331.7 938.4 L333.6 946.9 L335.0 954.8 L336.0 962.2 L336.6 969.1 L336.9 975.6 L336.7 981.7 L336.2 987.2 L335.3 992.3 L333.9 996.9 L332.2 1001.0 L330.1 1004.6 L327.6 1007.7 L324.5 1010.3 L320.8 1012.5 L315.5 1014.5 L310.0 1016.0 L305.8 1016.4 L301.8 1016.0 L297.9 1015.0 L294.0 1013.4 L290.2 1011.1 L286.5 1008.1 L282.8 1004.6 L279.1 1000.4 L275.4 995.6 L271.8 990.2 L268.2 984.2 L264.7 977.6 L261.2 970.4 L257.7 962.4 L254.2 953.6 L250.5 943.6 L246.0 929.9 L241.6 916.0 L238.7 905.8 L236.3 896.6 L234.4 888.1 L233.0 880.2 L232.0 872.8 L231.4 865.9 L231.1 859.4 L231.3 853.3 L231.8 847.8 L232.7 842.7 L234.1 838.1 L235.8 834.0 L237.9 830.4 L240.4 827.3 L243.5 824.7 L247.2 822.5 L252.5 820.5 L258.0 819.0 L262.2 818.6 L266.2 819.0 L270.1 820.0 L274.0 821.6 L277.8 823.9 L281.5 826.9 L285.2 830.4 L288.9 834.6 L292.6 839.4 L296.2 844.8 L299.8 850.8 L303.3 857.4 L306.8 864.6 L310.3 872.6 L313.8 881.4 L317.5 891.4 L322.0 905.1Z" fill="none" stroke="#000" stroke-width="9.5" stroke-linejoin="round"/>
<path d="M322.0 905.1 L326.4 919.0 L329.3 929.2 L331.7 938.4 L333.6 946.9 L335.0 954.8 L336.0 962.2 L336.6 969.1 L336.9 975.6 L336.7 981.7 L336.2 987.2 L335.3 992.3 L333.9 996.9 L332.2 1001.0 L330.1 1004.6 L327.6 1007.7 L324.5 1010.3 L320.8 1012.5 L315.5 1014.5 L310.0 1016.0 L305.8 1016.4 L301.8 1016.0 L297.9 1015.0 L294.0 1013.4 L290.2 1011.1 L286.5 1008.1 L282.8 1004.6 L279.1 1000.4 L275.4 995.6 L271.8 990.2 L268.2 984.2 L264.7 977.6 L261.2 970.4 L257.7 962.4 L254.2 953.6 L250.5 943.6 L246.0 929.9 L241.6 916.0 L238.7 905.8 L236.3 896.6 L234.4 888.1 L233.0 880.2 L232.0 872.8 L231.4 865.9 L231.1 859.4 L231.3 853.3 L231.8 847.8 L232.7 842.7 L234.1 838.1 L235.8 834.0 L237.9 830.4 L240.4 827.3 L243.5 824.7 L247.2 822.5 L252.5 820.5 L258.0 819.0 L262.2 818.6 L266.2 819.0 L270.1 820.0 L274.0 821.6 L277.8 823.9 L281.5 826.9 L285.2 830.4 L288.9 834.6 L292.6 839.4 L296.2 844.8 L299.8 850.8 L303.3 857.4 L306.8 864.6 L310.3 872.6 L313.8 881.4 L317.5 891.4 L322.0 905.1Z" fill="none" stroke="#fff" stroke-width="7.5" stroke-linejoin="round"/>
<path d="M349.3 909.9 L351.1 915.0 L352.6 919.5 L353.9 923.8 L355.1 927.8 L356.1 931.7 L357.0 935.4 L357.7 938.9 L358.3 942.2 L358.7 945.3 L359.0 948.1 L359.1 950.7 L359.0 953.0 L358.8 955.1 L358.4 956.9 L357.9 958.3 L357.2 959.5 L356.3 960.4 L355.1 961.0 L353.8 961.3 L352.6 961.2 L351.3 960.7 L349.9 959.9 L348.5 958.8 L347.0 957.4 L345.5 955.7 L343.9 953.6 L342.3 951.3 L340.6 948.7 L338.9 945.8 L337.2 942.6 L335.5 939.2 L333.8 935.6 L332.1 931.7 L330.4 927.6 L328.6 923.2 L326.7 918.1 L324.9 913.0 L323.4 908.5 L322.1 904.2 L320.9 900.2 L319.9 896.3 L319.0 892.6 L318.3 889.1 L317.7 885.8 L317.3 882.7 L317.0 879.9 L316.9 877.3 L317.0 875.0 L317.2 872.9 L317.6 871.1 L318.1 869.7 L318.8 868.5 L319.7 867.6 L320.9 867.0 L322.2 866.7 L323.4 866.8 L324.7 867.3 L326.1 868.1 L327.5 869.2 L329.0 870.6 L330.5 872.3 L332.1 874.4 L333.7 876.7 L335.4 879.3 L337.1 882.2 L338.8 885.4 L340.5 888.8 L342.2 892.4 L343.9 896.3 L345.6 900.4 L347.4 904.8 L349.3 909.9Z" fill="none" stroke="#000" stroke-width="6" stroke-linejoin="round"/>
<path d="M349.3 909.9 L351.1 915.0 L352.6 919.5 L353.9 923.8 L355.1 927.8 L356.1 931.7 L357.0 935.4 L357.7 938.9 L358.3 942.2 L358.7 945.3 L359.0 948.1 L359.1 950.7 L359.0 953.0 L358.8 955.1 L358.4 956.9 L357.9 958.3 L357.2 959.5 L356.3 960.4 L355.1 961.0 L353.8 961.3 L352.6 961.2 L351.3 960.7 L349.9 959.9 L348.5 958.8 L347.0 957.4 L345.5 955.7 L343.9 953.6 L342.3 951.3 L340.6 948.7 L338.9 945.8 L337.2 942.6 L335.5 939.2 L333.8 935.6 L332.1 931.7 L330.4 927.6 L328.6 923.2 L326.7 918.1 L324.9 913.0 L323.4 908.5 L322.1 904.2 L320.9 900.2 L319.9 896.3 L319.0 892.6 L318.3 889.1 L317.7 885.8 L317.3 882.7 L317.0 879.9 L316.9 877.3 L317.0 875.0 L317.2 872.9 L317.6 871.1 L318.1 869.7 L318.8 868.5 L319.7 867.6 L320.9 867.0 L322.2 866.7 L323.4 866.8 L324.7 867.3 L326.1 868.1 L327.5 869.2 L329.0 870.6 L330.5 872.3 L332.1 874.4 L333.7 876.7 L335.4 879.3 L337.1 882.2 L338.8 885.4 L340.5 888.8 L342.2 892.4 L343.9 896.3 L345.6 900.4 L347.4 904.8 L349.3 909.9Z" fill="none" stroke="#fff" stroke-width="4" stroke-linejoin="round"/>
<path d="M323.3 920.9 L325.1 926.0 L326.6 930.5 L327.9 934.8 L329.1 938.8 L330.1 942.7 L331.0 946.4 L331.7 949.9 L332.3 953.2 L332.7 956.3 L333.0 959.1 L333.1 961.7 L333.0 964.0 L332.8 966.1 L332.4 967.9 L331.9 969.3 L331.2 970.5 L330.3 971.4 L329.1 972.0 L327.8 972.3 L326.6 972.2 L325.3 971.7 L323.9 970.9 L322.5 969.8 L321.0 968.4 L319.5 966.7 L317.9 964.6 L316.3 962.3 L314.6 959.7 L312.9 956.8 L311.2 953.6 L309.5 950.2 L307.8 946.6 L306.1 942.7 L304.4 938.6 L302.6 934.2 L300.7 929.1 L298.9 924.0 L297.4 919.5 L296.1 915.2 L294.9 911.2 L293.9 907.3 L293.0 903.6 L292.3 900.1 L291.7 896.8 L291.3 893.7 L291.0 890.9 L290.9 888.3 L291.0 886.0 L291.2 883.9 L291.6 882.1 L292.1 880.7 L292.8 879.5 L293.7 878.6 L294.9 878.0 L296.2 877.7 L297.4 877.8 L298.7 878.3 L300.1 879.1 L301.5 880.2 L303.0 881.6 L304.5 883.3 L306.1 885.4 L307.7 887.7 L309.4 890.3 L311.1 893.2 L312.8 896.4 L314.5 899.8 L316.2 903.4 L317.9 907.3 L319.6 911.4 L321.4 915.8 L323.3 920.9Z" fill="none" stroke="#000" stroke-width="6" stroke-linejoin="round"/>
<path d="M323.3 920.9 L325.1 926.0 L326.6 930.5 L327.9 934.8 L329.1 938.8 L330.1 942.7 L331.0 946.4 L331.7 949.9 L332.3 953.2 L332.7 956.3 L333.0 959.1 L333.1 961.7 L333.0 964.0 L332.8 966.1 L332.4 967.9 L331.9 969.3 L331.2 970.5 L330.3 971.4 L329.1 972.0 L327.8 972.3 L326.6 972.2 L325.3 971.7 L323.9 970.9 L322.5 969.8 L321.0 968.4 L319.5 966.7 L317.9 964.6 L316.3 962.3 L314.6 959.7 L312.9 956.8 L311.2 953.6 L309.5 950.2 L307.8 946.6 L306.1 942.7 L304.4 938.6 L302.6 934.2 L300.7 929.1 L298.9 924.0 L297.4 919.5 L296.1 915.2 L294.9 911.2 L293.9 907.3 L293.0 903.6 L292.3 900.1 L291.7 896.8 L291.3 893.7 L291.0 890.9 L290.9 888.3 L291.0 886.0 L291.2 883.9 L291.6 882.1 L292.1 880.7 L292.8 879.5 L293.7 878.6 L294.9 878.0 L296.2 877.7 L297.4 877.8 L298.7 878.3 L300.1 879.1 L301.5 880.2 L303.0 881.6 L304.5 883.3 L306.1 885.4 L307.7 887.7 L309.4 890.3 L311.1 893.2 L312.8 896.4 L314.5 899.8 L316.2 903.4 L317.9 907.3 L319.6 911.4 L321.4 915.8 L323.3 920.9Z" fill="none" stroke="#fff" stroke-width="4" stroke-linejoin="round"/>
<path d="M371.5 934.5 L378 933 Q380.5 933.5 380.5 936.5 L380 951 L373 952.5 Q370.5 951.5 370.5 949 Z" fill="#fff" stroke="#000" stroke-width="1.3" />
<path d="M371.5 941 L380 939.5 M375.5 931 L376 956 M371.5 946.5 L380 945" fill="none" stroke="#000" stroke-width="1.3" />
<path d="M433.0 916.5 L433.0 917.2 L432.8 917.8 L432.7 918.4 L432.4 919.0 L432.1 919.5 L431.7 920.0 L431.2 920.5 L430.8 920.8 L430.2 921.1 L429.7 921.3 L429.1 921.5 L428.5 921.5 L427.9 921.5 L427.3 921.3 L426.8 921.1 L426.2 920.8 L425.8 920.5 L425.3 920.0 L424.9 919.5 L424.6 919.0 L424.3 918.4 L424.2 917.8 L424.0 917.2 L424.0 916.5 L424.0 915.8 L424.2 915.2 L424.3 914.6 L424.6 914.0 L424.9 913.5 L425.3 913.0 L425.8 912.5 L426.2 912.2 L426.8 911.9 L427.3 911.7 L427.9 911.5 L428.5 911.5 L429.1 911.5 L429.7 911.7 L430.2 911.9 L430.8 912.2 L431.2 912.5 L431.7 913.0 L432.1 913.5 L432.4 914.0 L432.7 914.6 L432.8 915.2 L433.0 915.8 L433.0 916.5Z" fill="#fff" stroke="#000" stroke-width="1.3" />
<path d="M431.7 915.5 L431.7 915.8 L431.6 916.1 L431.5 916.4 L431.4 916.7 L431.2 917.0 L431.1 917.2 L430.8 917.4 L430.6 917.6 L430.3 917.7 L430.1 917.8 L429.8 917.9 L429.5 917.9 L429.2 917.9 L428.9 917.8 L428.7 917.7 L428.4 917.6 L428.2 917.4 L427.9 917.2 L427.8 917.0 L427.6 916.7 L427.5 916.4 L427.4 916.1 L427.3 915.8 L427.3 915.5 L427.3 915.2 L427.4 914.9 L427.5 914.6 L427.6 914.3 L427.8 914.0 L427.9 913.8 L428.2 913.6 L428.4 913.4 L428.7 913.3 L428.9 913.2 L429.2 913.1 L429.5 913.1 L429.8 913.1 L430.1 913.2 L430.3 913.3 L430.6 913.4 L430.8 913.6 L431.1 913.8 L431.2 914.0 L431.4 914.3 L431.5 914.6 L431.6 914.9 L431.7 915.2 L431.7 915.5Z" fill="#000" stroke="#000" stroke-width="1" />
<path d="M428.7 924.5 L428.7 925.0 L428.6 925.4 L428.5 925.9 L428.3 926.3 L428.0 926.7 L427.8 927.0 L427.4 927.4 L427.1 927.6 L426.7 927.8 L426.3 928.0 L425.9 928.1 L425.5 928.1 L425.1 928.1 L424.7 928.0 L424.3 927.8 L423.9 927.6 L423.6 927.4 L423.2 927.0 L423.0 926.7 L422.7 926.3 L422.5 925.9 L422.4 925.4 L422.3 925.0 L422.3 924.5 L422.3 924.0 L422.4 923.6 L422.5 923.1 L422.7 922.7 L423.0 922.3 L423.2 922.0 L423.6 921.6 L423.9 921.4 L424.3 921.2 L424.7 921.0 L425.1 920.9 L425.5 920.9 L425.9 920.9 L426.3 921.0 L426.7 921.2 L427.1 921.4 L427.4 921.6 L427.8 922.0 L428.0 922.3 L428.3 922.7 L428.5 923.1 L428.6 923.6 L428.7 924.0 L428.7 924.5Z" fill="#fff" stroke="#000" stroke-width="1" />
<path d="M416 909 L420 912 L424 914" fill="none" stroke="#000" stroke-width="2" />
<path d="M323.3 997 L364.3 983 L379 1002 L336.5 1019.7 Z" fill="#fff" stroke="#000" stroke-width="1" />
<path d="M337 1020 L379 1003" fill="none" stroke="#000" stroke-width="2.2" stroke-dasharray="2 1"/>
<path d="M374.6 980.1 L402 969.5 L433 958.5 L457.3 975.3 L430.3 984.5 L389.3 1000.7 Z" fill="#fff" stroke="#000" stroke-width="1" />
<path d="M389.8 1000.5 L430.3 984.8" fill="none" stroke="#000" stroke-width="2.2" stroke-dasharray="2 1"/>
<path d="M355.1 1000.1 L355.1 1000.4 L355.0 1000.7 L355.0 1001.1 L354.8 1001.4 L354.6 1001.6 L354.4 1001.9 L354.1 1002.2 L353.8 1002.4 L353.5 1002.6 L353.1 1002.7 L352.7 1002.9 L352.3 1003.0 L351.9 1003.0 L351.5 1003.0 L351.1 1003.0 L350.7 1002.9 L350.3 1002.8 L350.0 1002.7 L349.6 1002.5 L349.4 1002.3 L349.1 1002.1 L349.0 1001.8 L348.8 1001.5 L348.7 1001.3 L348.7 1001.0 L348.8 1000.7 L348.8 1000.3 L349.0 1000.0 L349.2 999.8 L349.4 999.5 L349.7 999.2 L350.0 999.0 L350.3 998.8 L350.7 998.7 L351.1 998.5 L351.5 998.4 L351.9 998.4 L352.3 998.4 L352.7 998.4 L353.1 998.5 L353.5 998.6 L353.8 998.7 L354.2 998.9 L354.4 999.1 L354.7 999.3 L354.8 999.6 L355.0 999.9 L355.1 1000.1Z" fill="#fff" stroke="#000" stroke-width="1" />
<path d="M407.7 981.1 L407.7 981.4 L407.7 981.7 L407.6 981.9 L407.4 982.2 L407.3 982.5 L407.1 982.8 L406.8 983.0 L406.5 983.2 L406.2 983.4 L405.8 983.6 L405.5 983.7 L405.1 983.8 L404.7 983.8 L404.3 983.8 L403.9 983.8 L403.6 983.7 L403.2 983.6 L402.9 983.5 L402.6 983.3 L402.3 983.1 L402.1 982.9 L401.9 982.7 L401.8 982.4 L401.7 982.1 L401.7 981.8 L401.7 981.5 L401.8 981.3 L402.0 981.0 L402.1 980.7 L402.3 980.4 L402.6 980.2 L402.9 980.0 L403.2 979.8 L403.6 979.6 L403.9 979.5 L404.3 979.4 L404.7 979.4 L405.1 979.4 L405.5 979.4 L405.8 979.5 L406.2 979.6 L406.5 979.7 L406.8 979.9 L407.1 980.1 L407.3 980.3 L407.5 980.5 L407.6 980.8 L407.7 981.1Z" fill="#fff" stroke="#000" stroke-width="1" />
<path d="M349.5 1000.3 L354.3 1000.3 M402.4 981.2 L407 981.2" fill="none" stroke="#000" stroke-width="1" />
<path d="M352.9 980.0 L342.7 1008.2 Q341.3 1012.1 338.0 1010.9 Q334.7 1009.7 336.1 1005.8 L346.4 977.6" fill="#fff" stroke="#000" stroke-width="1" />
<path d="M374.9 970.5 L364.7 998.7 Q363.3 1002.6 360.0 1001.4 Q356.7 1000.2 358.1 996.3 L368.4 968.1" fill="#fff" stroke="#000" stroke-width="1" />
<path d="M405.7 961.5 L395.5 989.7 Q394.1 993.6 390.8 992.4 Q387.5 991.2 388.9 987.3 L399.2 959.1" fill="#fff" stroke="#000" stroke-width="1" />
<path d="M430.6 951.5 L420.4 979.7 Q419.0 983.6 415.7 982.4 Q412.4 981.2 413.8 977.3 L424.1 949.1" fill="#fff" stroke="#000" stroke-width="1" />
<path d="M335.9 1016.4 L324.0 1047.2 Q322.6 1050.8 319.6 1049.6 Q316.6 1048.5 318.0 1044.8 L329.8 1014.0" fill="#fff" stroke="#000" stroke-width="1" />
<path d="M325.1 1044.4 Q321.2 1048.0 319.0 1042.0" fill="none" stroke="#000" stroke-width="1.8" />
<path d="M359.2 1016.1 L351.3 1036.7 Q349.9 1040.3 346.9 1039.1 Q343.9 1038.0 345.3 1034.3 L353.1 1013.8" fill="#fff" stroke="#000" stroke-width="1" />
<path d="M352.4 1033.9 Q348.5 1037.5 346.3 1031.5" fill="none" stroke="#000" stroke-width="1.8" />
<path d="M384.5 1006.7 L376.2 1028.2 Q374.8 1031.8 371.8 1030.6 Q368.8 1029.5 370.2 1025.8 L378.4 1004.4" fill="#fff" stroke="#000" stroke-width="1" />
<path d="M377.3 1025.4 Q373.4 1029.0 371.2 1023.0" fill="none" stroke="#000" stroke-width="1.8" />
<path d="M410.1 1003.0 L404.3 1018.0 Q402.9 1021.6 399.9 1020.4 Q396.9 1019.3 398.3 1015.6 L404.0 1000.7" fill="#fff" stroke="#000" stroke-width="1" />
<path d="M405.4 1015.2 Q401.5 1018.8 399.3 1012.8" fill="none" stroke="#000" stroke-width="1.8" />
<path d="M311.5 1049 Q314.5 1045.5 318.5 1048 L319.5 1052 Q315 1054.5 312 1052.5 Z" fill="#fff" stroke="#000" stroke-width="1.2" />
<path d="M314 1050 L317.5 1049.5 M315 1052 L318 1051" fill="none" stroke="#000" stroke-width="1" />
<path d="M343.5 1040.3 L343.5 1040.7 L343.5 1041.0 L343.5 1041.3 L343.4 1041.7 L343.2 1042.0 L343.0 1042.4 L342.7 1042.7 L342.4 1042.9 L342.1 1043.2 L341.7 1043.4 L341.3 1043.6 L340.9 1043.7 L340.4 1043.8 L340.0 1043.9 L339.6 1043.9 L339.1 1043.8 L338.7 1043.7 L338.4 1043.6 L338.0 1043.4 L337.7 1043.2 L337.4 1043.0 L337.2 1042.7 L337.0 1042.4 L336.9 1042.1 L336.9 1041.7 L336.9 1041.4 L336.9 1041.1 L337.0 1040.7 L337.2 1040.4 L337.4 1040.0 L337.7 1039.7 L338.0 1039.5 L338.3 1039.2 L338.7 1039.0 L339.1 1038.8 L339.5 1038.7 L340.0 1038.6 L340.4 1038.5 L340.8 1038.5 L341.3 1038.6 L341.7 1038.7 L342.0 1038.8 L342.4 1039.0 L342.7 1039.2 L343.0 1039.4 L343.2 1039.7 L343.4 1040.0 L343.5 1040.3Z" fill="#fff" stroke="#000" stroke-width="1.2" />
<path d="M338 1041 L342 1040.5" fill="none" stroke="#000" stroke-width="1" />
<path d="M362.5 1032.5 L368 1030.5 L371.5 1033.5 L366 1035.5 Z" fill="#fff" stroke="#000" stroke-width="1.2" />
<path d="M372.3 1034.0 L372.3 1034.2 L372.3 1034.3 L372.2 1034.5 L372.1 1034.7 L372.0 1034.8 L371.9 1034.9 L371.8 1035.0 L371.6 1035.1 L371.5 1035.2 L371.3 1035.3 L371.2 1035.3 L371.0 1035.3 L370.8 1035.3 L370.7 1035.3 L370.5 1035.2 L370.4 1035.1 L370.2 1035.0 L370.1 1034.9 L370.0 1034.8 L369.9 1034.7 L369.8 1034.5 L369.7 1034.3 L369.7 1034.2 L369.7 1034.0 L369.7 1033.8 L369.7 1033.7 L369.8 1033.5 L369.9 1033.3 L370.0 1033.2 L370.1 1033.1 L370.2 1033.0 L370.4 1032.9 L370.5 1032.8 L370.7 1032.7 L370.8 1032.7 L371.0 1032.7 L371.2 1032.7 L371.3 1032.7 L371.5 1032.8 L371.6 1032.9 L371.8 1033.0 L371.9 1033.1 L372.0 1033.2 L372.1 1033.3 L372.2 1033.5 L372.3 1033.7 L372.3 1033.8 L372.3 1034.0Z" fill="none" stroke="#000" stroke-width="1" />
<path d="M433.3 1007.5 L448.5 1002.7 L457.5 1019 L442 1024.5 Z" fill="#fff" stroke="#000" stroke-width="1" />
<path d="M450.1 1011.9 L450.1 1012.3 L450.1 1012.8 L450.1 1013.2 L449.9 1013.6 L449.7 1014.0 L449.5 1014.4 L449.1 1014.8 L448.7 1015.1 L448.3 1015.4 L447.9 1015.7 L447.4 1015.9 L446.8 1016.1 L446.3 1016.2 L445.8 1016.3 L445.2 1016.3 L444.7 1016.2 L444.2 1016.1 L443.7 1016.0 L443.3 1015.7 L442.9 1015.5 L442.6 1015.2 L442.3 1014.8 L442.1 1014.5 L441.9 1014.1 L441.9 1013.7 L441.9 1013.2 L441.9 1012.8 L442.1 1012.4 L442.3 1012.0 L442.5 1011.6 L442.9 1011.2 L443.3 1010.9 L443.7 1010.6 L444.1 1010.3 L444.6 1010.1 L445.2 1009.9 L445.7 1009.8 L446.2 1009.7 L446.8 1009.7 L447.3 1009.8 L447.8 1009.9 L448.3 1010.0 L448.7 1010.3 L449.1 1010.5 L449.4 1010.8 L449.7 1011.2 L449.9 1011.5 L450.1 1011.9Z" fill="none" stroke="#000" stroke-width="1.2" />
<path d="M383.5 1026 L397 1021 L404 1036.5 L390.5 1042 Z" fill="#fff" stroke="#000" stroke-width="1" />
<path d="M398.3 1030.4 L398.3 1030.8 L398.3 1031.2 L398.3 1031.7 L398.1 1032.1 L397.9 1032.5 L397.6 1032.9 L397.3 1033.3 L396.9 1033.7 L396.4 1034.0 L395.9 1034.3 L395.4 1034.5 L394.9 1034.7 L394.3 1034.8 L393.7 1034.9 L393.2 1034.9 L392.6 1034.8 L392.1 1034.7 L391.6 1034.6 L391.1 1034.3 L390.7 1034.1 L390.4 1033.8 L390.1 1033.4 L389.9 1033.0 L389.7 1032.6 L389.7 1032.2 L389.7 1031.8 L389.7 1031.3 L389.9 1030.9 L390.1 1030.5 L390.4 1030.1 L390.7 1029.7 L391.1 1029.3 L391.6 1029.0 L392.1 1028.7 L392.6 1028.5 L393.1 1028.3 L393.7 1028.2 L394.3 1028.1 L394.8 1028.1 L395.4 1028.2 L395.9 1028.3 L396.4 1028.4 L396.9 1028.7 L397.3 1028.9 L397.6 1029.2 L397.9 1029.6 L398.1 1030.0 L398.3 1030.4Z" fill="none" stroke="#000" stroke-width="1.2" />
<path d="M399 1038 L464 1015.3" fill="none" stroke="#000" stroke-width="2.2" />
<path d="M398.5 1044.8 L461.3 1023.3 L464 1015.3" fill="none" stroke="#000" stroke-width="1" />
<path d="M390.5 1042 L398.5 1044.8" fill="none" stroke="#000" stroke-width="1" />
<rect x="429.5" y="1029" width="2.2" height="2.2" fill="#000"/>
<path d="M397.5 1044.5 L390.5 1049.5 L393.5 1053 Z" fill="#000" stroke="#000" stroke-width="1" />
<path d="M476.5 993 L471.5 999 L475.5 1000.5 Z" fill="#000" stroke="#000" stroke-width="1" />
<path d="M311 1051.8 L305.5 1056.5 L308.5 1059 Z" fill="#000" stroke="#000" stroke-width="1" />
<path d="M346.7 1043.7 L341.2 1048.5 L344.2 1051 Z" fill="#000" stroke="#000" stroke-width="1" />
<clipPath id="cM"><path d="M260.0 931.1 L263.0 939.5 L265.7 947.9 L268.0 956.3 L270.1 964.8 L271.8 973.1 L273.1 981.4 L274.2 989.5 L274.8 997.5 L275.1 1005.2 L275.1 1012.7 L274.7 1019.9 L273.9 1026.8 L272.8 1033.3 L271.3 1039.4 L269.5 1045.1 L267.4 1050.3 L264.9 1055.1 L262.1 1059.4 L259.1 1063.1 L255.7 1066.4 L252.1 1069.0 L248.3 1071.1 L244.2 1072.7 L239.9 1073.6 L235.5 1074.0 L230.8 1073.8 L226.0 1072.9 L221.1 1071.5 L216.2 1069.6 L211.1 1067.0 L206.0 1063.9 L200.9 1060.3 L195.7 1056.1 L190.6 1051.5 L185.6 1046.3 L180.6 1040.7 L175.7 1034.7 L171.0 1028.3 L166.4 1021.5 L162.0 1014.4 L157.8 1007.0 L153.8 999.3 L150.0 991.4 L146.4 983.3 L143.2 975.1 L140.2 966.7 L137.5 958.3 L135.2 949.9 L133.1 941.4 L131.4 933.1 L130.1 924.8 L129.0 916.7 L128.4 908.7 L128.1 901.0 L128.1 893.5 L128.5 886.3 L129.3 879.4 L130.4 872.9 L131.9 866.8 L133.7 861.1 L135.8 855.9 L138.3 851.1 L141.1 846.8 L144.1 843.1 L147.5 839.8 L151.1 837.2 L154.9 835.1 L159.0 833.5 L163.3 832.6 L167.7 832.2 L172.4 832.4 L177.2 833.3 L182.1 834.7 L187.0 836.6 L192.1 839.2 L197.2 842.3 L202.3 845.9 L207.5 850.1 L212.6 854.7 L217.6 859.9 L222.6 865.5 L227.5 871.5 L232.2 877.9 L236.8 884.7 L241.2 891.8 L245.4 899.2 L249.4 906.9 L253.2 914.8 L256.8 922.9 L260.0 931.1Z"/></clipPath>
<path d="M260.0 931.1 L265.3 946.8 L269.6 962.7 L272.7 978.3 L274.5 993.5 L275.1 1008.1 L274.5 1021.6 L272.6 1034.0 L269.5 1045.1 L265.2 1054.5 L259.9 1062.2 L253.5 1068.1 L246.3 1072.0 L238.3 1073.8 L229.6 1073.6 L220.5 1071.3 L211.1 1067.0 L201.5 1060.8 L191.9 1052.7 L182.5 1042.9 L173.4 1031.6 L164.7 1018.9 L156.7 1005.1 L149.5 990.4 L143.2 975.1 L137.9 959.4 L133.6 943.5 L130.5 927.9 L128.7 912.7 L128.1 898.1 L128.7 884.6 L130.6 872.2 L133.7 861.1 L138.0 851.7 L143.3 844.0 L149.7 838.1 L156.9 834.2 L164.9 832.4 L173.6 832.6 L182.7 834.9 L192.1 839.2 L201.7 845.4 L211.3 853.5 L220.7 863.3 L229.8 874.6 L238.5 887.3 L246.5 901.1 L253.7 915.8 L260.0 931.1Z" fill="url(#rim)" stroke="#000" stroke-width="1" />
<g clip-path="url(#cM)">
<path d="M254.0 933.3 L259.3 949.0 L263.6 964.9 L266.7 980.5 L268.5 995.7 L269.1 1010.3 L268.5 1023.8 L266.6 1036.2 L263.5 1047.3 L259.2 1056.7 L253.9 1064.4 L247.5 1070.3 L240.3 1074.2 L232.3 1076.0 L223.6 1075.8 L214.5 1073.5 L205.1 1069.2 L195.5 1063.0 L185.9 1054.9 L176.5 1045.1 L167.4 1033.8 L158.7 1021.1 L150.7 1007.3 L143.5 992.6 L137.2 977.3 L131.9 961.6 L127.6 945.7 L124.5 930.1 L122.7 914.9 L122.1 900.3 L122.7 886.8 L124.6 874.4 L127.7 863.3 L132.0 853.9 L137.3 846.2 L143.7 840.3 L150.9 836.4 L158.9 834.6 L167.6 834.8 L176.7 837.1 L186.1 841.4 L195.7 847.6 L205.3 855.7 L214.7 865.5 L223.8 876.8 L232.5 889.5 L240.5 903.3 L247.7 918.0 L254.0 933.3Z" fill="url(#mesh)" stroke="#000" stroke-width="1" />
</g>
<path d="M260.0 931.1 L265.3 946.8 L269.6 962.7 L272.7 978.3 L274.5 993.5 L275.1 1008.1 L274.5 1021.6 L272.6 1034.0 L269.5 1045.1 L265.2 1054.5 L259.9 1062.2 L253.5 1068.1 L246.3 1072.0 L238.3 1073.8 L229.6 1073.6 L220.5 1071.3 L211.1 1067.0 L201.5 1060.8 L191.9 1052.7 L182.5 1042.9 L173.4 1031.6 L164.7 1018.9 L156.7 1005.1 L149.5 990.4 L143.2 975.1 L137.9 959.4 L133.6 943.5 L130.5 927.9 L128.7 912.7 L128.1 898.1 L128.7 884.6 L130.6 872.2 L133.7 861.1 L138.0 851.7 L143.3 844.0 L149.7 838.1 L156.9 834.2 L164.9 832.4 L173.6 832.6 L182.7 834.9 L192.1 839.2 L201.7 845.4 L211.3 853.5 L220.7 863.3 L229.8 874.6 L238.5 887.3 L246.5 901.1 L253.7 915.8 L260.0 931.1Z" fill="none" stroke="#000" stroke-width="1.2" />
<path d="M217.3 947.6 L219.2 954.1 L220.7 960.6 L221.8 967.0 L222.4 973.2 L222.5 979.0 L222.2 984.5 L221.4 989.5 L220.1 993.8 L218.5 997.5 L216.4 1000.5 L213.9 1002.7 L211.2 1004.0 L208.1 1004.6 L204.9 1004.2 L201.4 1003.1 L197.9 1001.1 L194.3 998.3 L190.7 994.8 L187.2 990.6 L183.9 985.8 L180.7 980.4 L177.8 974.6 L175.1 968.5 L172.9 962.2 L171.0 955.7 L169.5 949.2 L168.4 942.8 L167.8 936.6 L167.7 930.8 L168.0 925.3 L168.8 920.3 L170.1 916.0 L171.7 912.3 L173.8 909.3 L176.3 907.1 L179.0 905.8 L182.1 905.2 L185.3 905.6 L188.8 906.7 L192.3 908.7 L195.9 911.5 L199.5 915.0 L203.0 919.2 L206.3 924.0 L209.5 929.4 L212.4 935.2 L215.1 941.3 L217.3 947.6Z" fill="#fff" stroke="#000" stroke-width="1" />
<path d="M193.2 955.8 L196.1 964.3 L198.7 973.0 L200.9 981.7 L202.9 990.3 L204.4 998.9 L205.6 1007.4 L206.5 1015.7 L207.0 1023.9 L207.1 1031.9 L206.8 1039.5 L206.2 1046.9 L205.1 1054.0 L203.8 1060.7 L202.0 1067.0 L200.0 1072.8 L197.5 1078.2 L194.8 1083.1 L191.8 1087.5 L188.4 1091.3 L184.8 1094.7 L180.9 1097.4 L176.7 1099.6 L172.4 1101.1 L167.8 1102.1 L163.0 1102.5 L158.1 1102.2 L153.1 1101.4 L147.9 1100.0 L142.7 1097.9 L137.4 1095.3 L132.1 1092.1 L126.7 1088.4 L121.4 1084.1 L116.1 1079.3 L110.9 1074.1 L105.8 1068.3 L100.8 1062.1 L96.0 1055.5 L91.3 1048.6 L86.8 1041.2 L82.6 1033.6 L78.5 1025.7 L74.8 1017.6 L71.3 1009.3 L68.0 1000.8 L65.1 992.3 L62.5 983.6 L60.3 974.9 L58.3 966.3 L56.8 957.7 L55.6 949.2 L54.7 940.9 L54.2 932.7 L54.1 924.7 L54.4 917.1 L55.0 909.7 L56.1 902.6 L57.4 895.9 L59.2 889.6 L61.2 883.8 L63.7 878.4 L66.4 873.5 L69.4 869.1 L72.8 865.3 L76.4 861.9 L80.3 859.2 L84.5 857.0 L88.8 855.5 L93.4 854.5 L98.2 854.1 L103.1 854.4 L108.1 855.2 L113.3 856.6 L118.5 858.7 L123.8 861.3 L129.1 864.5 L134.5 868.2 L139.8 872.5 L145.1 877.3 L150.3 882.5 L155.4 888.3 L160.4 894.5 L165.2 901.1 L169.9 908.0 L174.4 915.4 L178.6 923.0 L182.7 930.9 L186.4 939.0 L189.9 947.3 L193.2 955.8Z M173.7 964.7 L176.4 972.4 L178.9 980.2 L181.1 988.0 L183.1 995.7 L184.8 1003.4 L186.2 1011.0 L187.4 1018.4 L188.3 1025.6 L188.9 1032.6 L189.2 1039.4 L189.2 1045.8 L189.0 1052.0 L188.5 1057.8 L187.6 1063.2 L186.5 1068.2 L185.1 1072.8 L183.5 1076.9 L181.6 1080.6 L179.4 1083.8 L177.0 1086.5 L174.4 1088.6 L171.6 1090.3 L168.5 1091.4 L165.3 1091.9 L161.9 1092.0 L158.3 1091.4 L154.6 1090.4 L150.8 1088.8 L146.9 1086.6 L142.9 1084.0 L138.8 1080.8 L134.7 1077.2 L130.6 1073.1 L126.5 1068.5 L122.4 1063.6 L118.3 1058.2 L114.3 1052.4 L110.3 1046.3 L106.5 1039.8 L102.8 1033.1 L99.2 1026.1 L95.7 1018.9 L92.5 1011.5 L89.4 1004.0 L86.5 996.3 L83.8 988.6 L81.3 980.8 L79.1 973.0 L77.1 965.3 L75.4 957.6 L74.0 950.0 L72.8 942.6 L71.9 935.4 L71.3 928.4 L71.0 921.6 L71.0 915.2 L71.2 909.0 L71.7 903.2 L72.6 897.8 L73.7 892.8 L75.1 888.2 L76.7 884.1 L78.6 880.4 L80.8 877.2 L83.2 874.5 L85.8 872.4 L88.6 870.7 L91.7 869.6 L94.9 869.1 L98.3 869.0 L101.9 869.6 L105.6 870.6 L109.4 872.2 L113.3 874.4 L117.3 877.0 L121.4 880.2 L125.5 883.8 L129.6 887.9 L133.7 892.5 L137.8 897.4 L141.9 902.8 L145.9 908.6 L149.9 914.7 L153.7 921.2 L157.4 927.9 L161.0 934.9 L164.5 942.1 L167.7 949.5 L170.8 957.0 L173.7 964.7Z" fill="#fff" stroke="#000" stroke-width="1" fill-rule="evenodd"/>
<path d="M191.8 1089.1 L188.6 1092.3 L185.1 1095.0 L181.5 1097.2 L177.6 1098.9 L173.6 1100.1 L169.5 1100.9 L165.1 1101.1 L160.7 1100.8 L156.1 1100.1 L151.4 1098.8 L146.7 1097.0 L141.9 1094.8 L137.1 1092.1 L132.3 1088.9 L127.4 1085.3 L122.6 1081.2 L117.9 1076.7 L113.2 1071.9 L108.6 1066.6 L104.0 1061.0 L99.7 1055.0 L95.4 1048.7 L91.3 1042.1 L87.3 1035.3 L83.6 1028.2 L80.0 1021.0 L76.7 1013.5 L73.6 1005.9 L70.7 998.2 L68.1 990.4 L65.8 982.6 L63.7 974.7 L61.9 966.8 L60.4 959.0 L59.2 951.3 L58.3 943.6 L57.7 936.1 L57.4 928.8 L57.5 921.7 L57.8 914.8 L58.4 908.1 L59.3 901.7 L60.6 895.7 L62.1 889.9 L63.9 884.5 L66.0 879.5 L68.4 874.9 L71.0 870.7" fill="none" stroke="#000" stroke-width="1" />
<path d="M98.4 1058.9 L97.5 1057.7 L96.6 1056.4 L95.8 1055.2 L94.9 1054.0 L94.1 1052.7 L93.2 1051.4 L92.4 1050.1 L91.5 1048.8 L90.7 1047.5 L89.9 1046.2 L89.0 1044.9 L88.2 1043.6 L87.4 1042.2 L86.6 1040.8 L85.8 1039.5 L85.0 1038.1 L84.3 1036.7 L83.5 1035.3 L82.7 1033.9 L82.0 1032.5 L81.2 1031.1 L80.5 1029.6 L79.8 1028.2 L79.0 1026.7 L78.3 1025.3 L77.6 1023.8 L76.9 1022.3 L76.2 1020.8 L75.5 1019.4 L74.9 1017.9 L74.2 1016.4 L73.6 1014.9 L72.9 1013.3 L72.3 1011.8 L71.7 1010.3 L71.0 1008.8 L70.4 1007.2 L69.8 1005.7 L69.3 1004.1 L68.7 1002.6 L68.1 1001.0 L67.6 999.5 L67.0 997.9 L66.5 996.4 L65.9 994.8 L65.4 993.2 L64.9 991.7 L64.4 990.1" fill="none" stroke="#000" stroke-width="2" />
<path d="M110 870 L112 866.5 L130 864.5 L131 867 L114 871.5 Z" fill="#fff" stroke="#000" stroke-width="1" />
<path d="M112 863 L117 862 L117.5 864 L112.5 865 Z" fill="#fff" stroke="#000" stroke-width="1" />
<path d="M86 872 Q86 868.5 90 869 Q93.5 869 94 872.5 L97.5 874.5 Q99.5 876.5 98 879 L94 879.5 L92 877.5 Q87 878.5 86 872 Z" fill="#fff" stroke="#000" stroke-width="1" />
<path d="M89 872 Q91 870.5 92.5 873 L94.5 876" fill="none" stroke="#000" stroke-width="1" />
<path d="M65.5 945.6 L65.4 946.1 L65.2 946.5 L65.0 946.9 L64.7 947.3 L64.5 947.6 L64.2 947.9 L63.9 948.1 L63.6 948.3 L63.2 948.5 L62.9 948.5 L62.6 948.5 L62.3 948.5 L62.0 948.4 L61.7 948.2 L61.5 948.0 L61.2 947.7 L61.0 947.4 L60.9 947.0 L60.8 946.6 L60.7 946.2 L60.7 945.8 L60.7 945.3 L60.8 944.8 L60.9 944.4 L61.0 943.9 L61.2 943.5 L61.4 943.1 L61.7 942.7 L61.9 942.4 L62.2 942.1 L62.5 941.9 L62.8 941.7 L63.2 941.5 L63.5 941.5 L63.8 941.5 L64.1 941.5 L64.4 941.6 L64.7 941.8 L64.9 942.0 L65.2 942.3 L65.4 942.6 L65.5 943.0 L65.6 943.4 L65.7 943.8 L65.7 944.2 L65.7 944.7 L65.6 945.2 L65.5 945.6Z" fill="#fff" stroke="#000" stroke-width="1" />
<path d="M199.7 1014.4 L199.8 1014.7 L199.8 1014.9 L199.8 1015.2 L199.8 1015.5 L199.7 1015.7 L199.5 1016.0 L199.3 1016.2 L199.1 1016.5 L198.9 1016.7 L198.6 1016.9 L198.3 1017.0 L198.0 1017.2 L197.7 1017.3 L197.3 1017.3 L197.0 1017.4 L196.7 1017.4 L196.4 1017.3 L196.1 1017.3 L195.8 1017.1 L195.5 1017.0 L195.3 1016.8 L195.1 1016.6 L195.0 1016.4 L194.9 1016.2 L194.8 1015.9 L194.8 1015.7 L194.8 1015.4 L194.8 1015.1 L194.9 1014.9 L195.1 1014.6 L195.3 1014.4 L195.5 1014.1 L195.7 1013.9 L196.0 1013.7 L196.3 1013.6 L196.6 1013.4 L196.9 1013.3 L197.3 1013.3 L197.6 1013.2 L197.9 1013.2 L198.2 1013.3 L198.5 1013.3 L198.8 1013.5 L199.1 1013.6 L199.3 1013.8 L199.5 1014.0 L199.6 1014.2 L199.7 1014.4Z" fill="#000" stroke="#000" stroke-width="1" />
<path d="M187.4 818.2 Q187.4 811.2 192.4 811.2 Q197.4 811.2 197.4 818.2 L196.4 821.0 L188.4 821.0 Z" fill="#fff" stroke="#000" stroke-width="1" />
<path d="M189.9 821.0 L189.9 830.0 L192.4 832.0 L194.9 821.0" fill="none" stroke="#000" stroke-width="1" />
<path d="M189.9 815.5 L194.9 814.0" fill="none" stroke="#000" stroke-width="1" />
<path d="M204.5 1087.4 Q204.5 1092.8 209.5 1092.8 Q214.5 1092.8 214.5 1087.4 L213.5 1085.0 L205.5 1085.0 Z" fill="#fff" stroke="#000" stroke-width="1" />
<path d="M207.0 1085.0 L207.0 1076.0 Q209.5 1073.0 212.0 1076.0 L212.0 1085.0" fill="none" stroke="#000" stroke-width="1" />
<path d="M283.7 1008.2 L283.8 1008.6 L284.0 1009.0 L284.1 1009.3 L284.1 1009.7 L284.1 1010.1 L284.1 1010.5 L284.0 1010.8 L283.9 1011.1 L283.7 1011.4 L283.5 1011.7 L283.3 1011.9 L283.0 1012.1 L282.7 1012.2 L282.4 1012.3 L282.1 1012.4 L281.7 1012.4 L281.4 1012.3 L281.0 1012.2 L280.7 1012.1 L280.4 1011.9 L280.1 1011.6 L279.8 1011.4 L279.5 1011.1 L279.3 1010.8 L279.2 1010.4 L279.0 1010.0 L278.9 1009.7 L278.9 1009.3 L278.9 1008.9 L278.9 1008.5 L279.0 1008.2 L279.1 1007.9 L279.3 1007.6 L279.5 1007.3 L279.7 1007.1 L280.0 1006.9 L280.3 1006.8 L280.6 1006.7 L280.9 1006.6 L281.3 1006.6 L281.6 1006.7 L282.0 1006.8 L282.3 1006.9 L282.6 1007.1 L282.9 1007.4 L283.2 1007.6 L283.5 1007.9 L283.7 1008.2Z" fill="#fff" stroke="#000" stroke-width="1" />
<path d="M289.1 1013.5 L289.1 1014.0 L289.0 1014.4 L288.8 1014.9 L288.6 1015.3 L288.4 1015.7 L288.0 1016.0 L287.7 1016.4 L287.3 1016.6 L286.9 1016.8 L286.4 1017.0 L286.0 1017.1 L285.5 1017.1 L285.0 1017.1 L284.6 1017.0 L284.1 1016.8 L283.7 1016.6 L283.3 1016.4 L283.0 1016.0 L282.6 1015.7 L282.4 1015.3 L282.2 1014.9 L282.0 1014.4 L281.9 1014.0 L281.9 1013.5 L281.9 1013.0 L282.0 1012.6 L282.2 1012.1 L282.4 1011.7 L282.6 1011.3 L283.0 1011.0 L283.3 1010.6 L283.7 1010.4 L284.1 1010.2 L284.6 1010.0 L285.0 1009.9 L285.5 1009.9 L286.0 1009.9 L286.4 1010.0 L286.9 1010.2 L287.3 1010.4 L287.7 1010.6 L288.0 1011.0 L288.4 1011.3 L288.6 1011.7 L288.8 1012.1 L289.0 1012.6 L289.1 1013.0 L289.1 1013.5Z" fill="#fff" stroke="#000" stroke-width="1" />
<path d="M287.8 1014.5 L287.8 1014.7 L287.8 1014.8 L287.7 1015.0 L287.6 1015.1 L287.5 1015.3 L287.4 1015.4 L287.3 1015.5 L287.1 1015.6 L287.0 1015.7 L286.8 1015.8 L286.7 1015.8 L286.5 1015.8 L286.3 1015.8 L286.2 1015.8 L286.0 1015.7 L285.9 1015.6 L285.7 1015.5 L285.6 1015.4 L285.5 1015.3 L285.4 1015.1 L285.3 1015.0 L285.2 1014.8 L285.2 1014.7 L285.2 1014.5 L285.2 1014.3 L285.2 1014.2 L285.3 1014.0 L285.4 1013.9 L285.5 1013.7 L285.6 1013.6 L285.7 1013.5 L285.9 1013.4 L286.0 1013.3 L286.2 1013.2 L286.3 1013.2 L286.5 1013.2 L286.7 1013.2 L286.8 1013.2 L287.0 1013.3 L287.1 1013.4 L287.3 1013.5 L287.4 1013.6 L287.5 1013.7 L287.6 1013.9 L287.7 1014.0 L287.8 1014.2 L287.8 1014.3 L287.8 1014.5Z" fill="#000" stroke="#000" stroke-width="1" />
<path d="M68 1003 L62 1006.5 L65 1009.5 Z" fill="#000" stroke="#000" stroke-width="1" />
<path d="M745.6 553.6 C745.6 550.5 745.5 540.3 745.6 535.0 C745.8 529.7 745.8 526.0 746.5 522.0 C747.2 518.0 748.1 514.1 750.0 511.0 C751.9 507.9 756.3 504.5 757.6 503.2" fill="none" stroke="#000" stroke-width="1" />
<path d="M757.6 503.2 L800 488 L872 461.6 L886 461.8" fill="none" stroke="#000" stroke-width="1" />
<path d="M886.0 461.8 C887.2 462.0 890.5 461.8 893.0 463.0 C895.5 464.2 898.6 467.0 900.8 468.8 C903.0 470.6 904.5 472.4 906.0 474.0 C907.5 475.6 908.6 476.7 909.6 478.4 C910.6 480.1 911.5 482.1 912.0 484.0 C912.5 485.9 912.7 487.2 912.8 490.0 C912.9 492.8 912.8 499.0 912.8 500.8" fill="none" stroke="#000" stroke-width="1" />
<path d="M912.8 510.4 L891.2 516 L873.6 504 L872 486.4" fill="none" stroke="#000" stroke-width="1" />
<path d="M886.0 490.0 C885.5 489.2 884.3 486.5 883.0 485.5 C881.7 484.5 879.8 483.9 878.0 484.0 C876.2 484.1 874.0 485.5 872.0 486.4 C870.0 487.3 868.1 488.4 866.0 489.5 C863.9 490.6 861.9 492.0 859.2 492.8 C856.5 493.6 852.7 493.6 850.0 494.5 C847.3 495.4 846.0 496.7 843.0 498.0 C840.0 499.3 835.8 501.3 832.0 502.4 C828.2 503.5 823.7 503.0 820.0 504.5 C816.3 506.0 812.9 509.8 809.6 511.2 C806.3 512.6 802.9 512.5 800.0 513.0 C797.1 513.5 794.2 513.4 792.0 514.4 C789.8 515.4 788.3 517.3 787.0 519.0 C785.7 520.7 784.8 522.0 784.0 524.8 C783.2 527.6 782.5 532.5 782.4 536.0 C782.3 539.5 783.2 542.5 783.5 546.0 C783.8 549.5 783.9 555.0 784.0 556.8" fill="none" stroke="#000" stroke-width="1" />
<path d="M784 556.8 L762.4 564.8 L745.6 553.6" fill="none" stroke="#000" stroke-width="1" />
<path d="M755 516 L758 520 L763 517.5 L767.5 512.5" fill="none" stroke="#000" stroke-width="1" />
<path d="M881 486 Q885 486 886 491 M884 485 Q888 486 888.5 491" fill="none" stroke="#000" stroke-width="1" />
<path d="M885 466 Q892 470 897 468" fill="none" stroke="#000" stroke-width="1" />
<path d="M752.1 425.0 Q752.1 421.5 757.6 421.5 Q763.1 421.5 763.1 425.0 Q763.1 428.5 757.6 428.5 Q752.1 428.5 752.1 425.0 Z" fill="#fff" stroke="#000" stroke-width="1.2" />
<path d="M755.1 424.5 L760.1 423.5" fill="none" stroke="#000" stroke-width="1.2" />
<path d="M754.6 428.5 L755.1 442.5 L760.1 442.5 L760.6 428.5" fill="none" stroke="#000" stroke-width="1.1" />
<path d="M882.7 377.0 Q882.7 373.5 888.2 373.5 Q893.7 373.5 893.7 377.0 Q893.7 380.5 888.2 380.5 Q882.7 380.5 882.7 377.0 Z" fill="#fff" stroke="#000" stroke-width="1.2" />
<path d="M885.7 376.5 L890.7 375.5" fill="none" stroke="#000" stroke-width="1.2" />
<path d="M885.2 380.5 L885.7 394.5 L890.7 394.5 L891.2 380.5" fill="none" stroke="#000" stroke-width="1.1" />
<path d="M886.5 393 L881 385.5 L884.5 384 Z" fill="#000" stroke="#000" stroke-width="1" />
<path d="M878 461 L868.5 459.5 L870 455.5 Z" fill="#000" stroke="#000" stroke-width="1" />
<path d="M900.7 531.5 L900.7 532.1 L900.5 532.6 L900.3 533.2 L900.0 533.7 L899.6 534.2 L899.1 534.6 L898.6 535.0 L898.0 535.3 L897.4 535.6 L896.7 535.8 L896.0 535.9 L895.3 535.9 L894.6 535.9 L893.9 535.8 L893.2 535.6 L892.6 535.3 L892.0 535.0 L891.5 534.6 L891.0 534.2 L890.6 533.7 L890.3 533.2 L890.1 532.6 L889.9 532.1 L889.9 531.5 L889.9 530.9 L890.1 530.4 L890.3 529.8 L890.6 529.3 L891.0 528.8 L891.5 528.4 L892.0 528.0 L892.6 527.7 L893.2 527.4 L893.9 527.2 L894.6 527.1 L895.3 527.1 L896.0 527.1 L896.7 527.2 L897.4 527.4 L898.0 527.7 L898.6 528.0 L899.1 528.4 L899.6 528.8 L900.0 529.3 L900.3 529.8 L900.5 530.4 L900.7 530.9 L900.7 531.5Z" fill="#fff" stroke="#000" stroke-width="1.2" />
<path d="M897.9 531.5 L897.9 531.8 L897.8 532.1 L897.7 532.3 L897.6 532.6 L897.4 532.8 L897.1 533.1 L896.9 533.2 L896.6 533.4 L896.3 533.5 L896.0 533.6 L895.6 533.7 L895.3 533.7 L895.0 533.7 L894.6 533.6 L894.3 533.5 L894.0 533.4 L893.7 533.2 L893.5 533.1 L893.2 532.8 L893.0 532.6 L892.9 532.3 L892.8 532.1 L892.7 531.8 L892.7 531.5 L892.7 531.2 L892.8 530.9 L892.9 530.7 L893.0 530.4 L893.2 530.2 L893.5 529.9 L893.7 529.8 L894.0 529.6 L894.3 529.5 L894.6 529.4 L895.0 529.3 L895.3 529.3 L895.6 529.3 L896.0 529.4 L896.3 529.5 L896.6 529.6 L896.9 529.8 L897.1 529.9 L897.4 530.2 L897.6 530.4 L897.7 530.7 L897.8 530.9 L897.9 531.2 L897.9 531.5Z" fill="none" stroke="#000" stroke-width="1.2" />
<path d="M891 536 L891.5 542 Q895.5 543.5 899.5 542 L900 536" fill="none" stroke="#000" stroke-width="1.1" />
<path d="M890 533.7 L883 532.8 L884.5 529.3 Z" fill="#000" stroke="#000" stroke-width="1" />
<path d="M759.5 578.5 Q764.5 575 769.8 578.5 L769.8 584 L759.5 584 Z" fill="#000" stroke="#000" stroke-width="1" />
<path d="M762 579 L767.5 579 M762 581.5 L767.5 581.5" fill="none" stroke="#fff" stroke-width="1" />
<path d="M760.5 584 L761 589 Q764.8 590.5 768.5 589 L769 584" fill="none" stroke="#000" stroke-width="1.1" />
<path d="M761 586.5 L768.5 586.5" fill="none" stroke="#000" stroke-width="1" />
<path d="M1015.2 632.8 C1016.7 632.1 1020.9 630.0 1024.0 628.5 C1027.1 627.0 1030.4 624.6 1033.6 624.0 C1036.8 623.4 1040.0 623.7 1043.2 624.8 C1046.4 625.9 1050.5 629.4 1052.8 630.4 C1055.1 631.4 1056.3 630.6 1057.0 630.6" fill="none" stroke="#000" stroke-width="1.6" />
<path d="M1015.2 632.8 L1028.8 668.8 L1052.8 678.4 L1072 688" fill="none" stroke="#000" stroke-width="1" />
<path d="M1053.1 641.8 L1053.2 642.5 L1053.3 643.3 L1053.3 644.0 L1053.2 644.7 L1053.0 645.4 L1052.8 646.0 L1052.6 646.6 L1052.2 647.0 L1051.9 647.4 L1051.5 647.8 L1051.1 648.0 L1050.6 648.1 L1050.1 648.1 L1049.7 648.1 L1049.2 647.9 L1048.7 647.7 L1048.2 647.3 L1047.8 646.9 L1047.4 646.4 L1047.0 645.8 L1046.7 645.2 L1046.4 644.5 L1046.2 643.8 L1046.1 643.0 L1046.0 642.3 L1045.9 641.5 L1045.9 640.8 L1046.0 640.1 L1046.2 639.4 L1046.4 638.8 L1046.6 638.2 L1047.0 637.8 L1047.3 637.4 L1047.7 637.0 L1048.1 636.8 L1048.6 636.7 L1049.1 636.7 L1049.5 636.7 L1050.0 636.9 L1050.5 637.1 L1051.0 637.5 L1051.4 637.9 L1051.8 638.4 L1052.2 639.0 L1052.5 639.6 L1052.8 640.3 L1053.0 641.0 L1053.1 641.8Z" fill="#fff" stroke="#000" stroke-width="1.2" />
<path d="M1051.8 642.3 L1051.8 642.8 L1051.9 643.3 L1051.9 643.8 L1051.9 644.3 L1051.8 644.7 L1051.7 645.1 L1051.6 645.5 L1051.4 645.8 L1051.2 646.1 L1051.0 646.3 L1050.7 646.5 L1050.5 646.5 L1050.2 646.6 L1050.0 646.5 L1049.7 646.4 L1049.4 646.2 L1049.2 645.9 L1048.9 645.6 L1048.7 645.3 L1048.4 644.9 L1048.2 644.4 L1048.1 644.0 L1047.9 643.5 L1047.8 642.9 L1047.8 642.4 L1047.7 641.9 L1047.7 641.4 L1047.7 640.9 L1047.8 640.5 L1047.9 640.1 L1048.0 639.7 L1048.2 639.4 L1048.4 639.1 L1048.6 638.9 L1048.9 638.7 L1049.1 638.7 L1049.4 638.6 L1049.6 638.7 L1049.9 638.8 L1050.2 639.0 L1050.4 639.3 L1050.7 639.6 L1050.9 639.9 L1051.2 640.3 L1051.4 640.8 L1051.5 641.2 L1051.7 641.7 L1051.8 642.3Z" fill="#000" stroke="#000" stroke-width="1" />
<path d="M1032.1 648.3 L1032.2 648.9 L1032.3 649.4 L1032.3 649.9 L1032.3 650.4 L1032.3 650.9 L1032.1 651.4 L1032.0 651.8 L1031.8 652.2 L1031.6 652.5 L1031.3 652.7 L1031.0 652.9 L1030.7 653.1 L1030.3 653.1 L1030.0 653.1 L1029.6 653.0 L1029.3 652.8 L1028.9 652.6 L1028.6 652.3 L1028.3 652.0 L1028.0 651.6 L1027.7 651.2 L1027.5 650.7 L1027.3 650.2 L1027.1 649.7 L1027.0 649.1 L1026.9 648.6 L1026.9 648.1 L1026.9 647.6 L1026.9 647.1 L1027.1 646.6 L1027.2 646.2 L1027.4 645.8 L1027.6 645.5 L1027.9 645.3 L1028.2 645.1 L1028.5 644.9 L1028.9 644.9 L1029.2 644.9 L1029.6 645.0 L1029.9 645.2 L1030.3 645.4 L1030.6 645.7 L1030.9 646.0 L1031.2 646.4 L1031.5 646.8 L1031.7 647.3 L1031.9 647.8 L1032.1 648.3Z" fill="#000" stroke="#000" stroke-width="1" />
<path d="M1031.5 652.5 L1038.4 660.8" fill="none" stroke="#000" stroke-width="2" />
<path d="M1076.8 680.0 C1075.7 682.7 1072.0 689.3 1070.4 696.0 C1068.8 702.7 1067.7 716.0 1067.2 720.0" fill="none" stroke="#000" stroke-width="1" />
<path d="M1067.2 734.4 C1067.4 735.2 1067.7 737.8 1068.5 739.0 C1069.3 740.2 1070.4 741.0 1072.0 741.6 C1073.6 742.2 1077.0 742.3 1078.0 742.4" fill="none" stroke="#000" stroke-width="1" />
<path d="M1091.2 742.4 C1094.7 741.9 1105.9 741.1 1112.0 739.2 C1118.1 737.3 1123.7 734.1 1128.0 731.2 C1132.3 728.3 1135.5 725.3 1137.6 721.6 C1139.7 717.9 1141.1 712.8 1140.8 708.8 C1140.5 704.8 1138.1 700.8 1136.0 697.6 C1133.9 694.4 1130.7 691.5 1128.0 689.6 C1125.3 687.7 1121.3 686.9 1120.0 686.4" fill="none" stroke="#000" stroke-width="1" />
<path d="M1008.8 545.6 C1012.3 547.3 1023.7 552.3 1030.0 556.0 C1036.3 559.7 1042.1 563.3 1046.4 568.0 C1050.7 572.7 1053.5 579.5 1056.0 584.0 C1058.5 588.5 1060.7 593.3 1061.6 595.2" fill="none" stroke="#000" stroke-width="1" />
<path d="M1008.8 545.6 C1010.8 547.5 1016.9 552.3 1020.8 556.8 C1024.7 561.3 1028.5 567.5 1032.0 572.8 C1035.5 578.1 1039.5 583.8 1041.6 588.8 C1043.7 593.8 1043.7 599.3 1044.5 603.0 C1045.3 606.7 1045.5 609.8 1046.4 611.2 C1047.3 612.6 1048.8 611.2 1050.0 611.5 C1051.2 611.8 1052.5 611.8 1053.6 612.8 C1054.7 613.8 1056.3 616.8 1056.8 617.6" fill="none" stroke="#000" stroke-width="1" />
<path d="M1014.0 549.0 C1016.0 550.5 1022.2 554.0 1026.0 558.0 C1029.8 562.0 1033.8 566.3 1036.8 572.8 C1039.8 579.3 1042.3 590.6 1044.0 596.8 C1045.7 603.0 1046.5 607.8 1047.0 610.0" fill="none" stroke="#000" stroke-width="1" />
<path d="M1008.8 545.6 L1016 551.5 L1021 552 Z" fill="#000" stroke="#000" stroke-width="1" />
<path d="M1083.2 529.6 C1082.0 530.7 1078.4 533.6 1076.0 536.0 C1073.6 538.4 1070.8 539.7 1068.8 544.0 C1066.8 548.3 1064.8 556.3 1064.0 561.6 C1063.2 566.9 1063.5 570.4 1064.0 576.0 C1064.5 581.6 1066.7 592.0 1067.2 595.2" fill="none" stroke="#000" stroke-width="1" />
<path d="M1084.0 530.4 C1083.6 532.9 1082.3 539.3 1081.6 545.6 C1080.9 551.9 1079.2 560.8 1080.0 568.0 C1080.8 575.2 1084.3 582.3 1086.4 588.8 C1088.5 595.3 1091.7 604.1 1092.8 607.2" fill="none" stroke="#000" stroke-width="1" />
<path d="M1082.4 532.8 C1081.5 536.0 1077.7 544.8 1076.8 552.0 C1075.9 559.2 1075.7 569.3 1076.8 576.0 C1077.9 582.7 1081.3 586.9 1083.2 592.0 C1085.1 597.1 1087.2 604.0 1088.0 606.4" fill="none" stroke="#000" stroke-width="1" />
<path d="M1087.2 607.2 L1092.8 607.2" fill="none" stroke="#000" stroke-width="1" />
<path d="M1096.0 627.2 C1096.5 625.5 1097.7 619.9 1099.0 617.0 C1100.3 614.1 1102.3 611.7 1104.0 609.6 C1105.7 607.5 1107.1 605.8 1109.0 604.5 C1110.9 603.2 1112.7 602.0 1115.2 601.6 C1117.7 601.2 1121.1 601.2 1124.0 602.0 C1126.9 602.8 1130.2 604.7 1132.8 606.4 C1135.4 608.1 1137.6 609.9 1139.5 612.0 C1141.4 614.1 1142.8 616.7 1144.0 619.2 C1145.2 621.7 1146.2 624.3 1146.6 627.0 C1147.0 629.7 1146.9 632.0 1146.4 635.2 C1145.9 638.4 1144.8 642.5 1143.6 646.0 C1142.4 649.5 1141.1 652.3 1139.2 656.0 C1137.3 659.7 1134.4 664.0 1132.0 668.0 C1129.6 672.0 1127.1 676.3 1124.8 680.0 C1122.5 683.7 1119.7 687.2 1118.0 690.0 C1116.3 692.8 1115.5 695.2 1114.5 696.5 C1113.5 697.8 1112.8 698.2 1112.0 697.6 C1111.2 697.0 1110.6 696.5 1109.5 693.0 C1108.4 689.5 1107.0 681.3 1105.6 676.8 C1104.2 672.3 1102.3 668.9 1101.0 666.0 C1099.7 663.1 1098.2 660.3 1097.6 659.2" fill="#fff" stroke="#000" stroke-width="1" />
<path d="M1094.9 627.1 L1095.9 631.7 L1096.6 636.2 L1097.0 640.8 L1097.1 645.1 L1096.7 649.3 L1096.1 653.1 L1095.1 656.6 L1093.7 659.7 L1092.1 662.2 L1090.2 664.3 L1088.1 665.8 L1085.8 666.8 L1083.3 667.1 L1080.8 666.9 L1078.1 666.0 L1075.4 664.6 L1072.7 662.6 L1070.1 660.1 L1067.6 657.1 L1065.3 653.6 L1063.1 649.9 L1061.2 645.8 L1059.5 641.4 L1058.1 636.9 L1057.1 632.3 L1056.4 627.8 L1056.0 623.2 L1055.9 618.9 L1056.3 614.7 L1056.9 610.9 L1057.9 607.4 L1059.3 604.3 L1060.9 601.8 L1062.8 599.7 L1064.9 598.2 L1067.2 597.2 L1069.7 596.9 L1072.2 597.1 L1074.9 598.0 L1077.6 599.4 L1080.3 601.4 L1082.9 603.9 L1085.4 606.9 L1087.7 610.4 L1089.9 614.1 L1091.8 618.2 L1093.5 622.6 L1094.9 627.1Z" fill="#fff" stroke="#000" stroke-width="1.2" />
<path d="M1078.6 632.5 L1078.6 633.0 L1078.7 633.4 L1078.7 633.9 L1078.6 634.3 L1078.6 634.7 L1078.5 635.1 L1078.4 635.4 L1078.2 635.7 L1078.1 636.0 L1077.9 636.1 L1077.7 636.3 L1077.4 636.3 L1077.2 636.4 L1076.9 636.3 L1076.7 636.2 L1076.5 636.0 L1076.2 635.8 L1076.0 635.5 L1075.8 635.2 L1075.6 634.8 L1075.4 634.4 L1075.2 634.0 L1075.1 633.6 L1075.0 633.1 L1075.0 632.6 L1074.9 632.2 L1074.9 631.7 L1075.0 631.3 L1075.0 630.9 L1075.1 630.5 L1075.2 630.2 L1075.4 629.9 L1075.5 629.6 L1075.7 629.5 L1075.9 629.3 L1076.2 629.3 L1076.4 629.2 L1076.7 629.3 L1076.9 629.4 L1077.1 629.6 L1077.4 629.8 L1077.6 630.1 L1077.8 630.4 L1078.0 630.8 L1078.2 631.2 L1078.4 631.6 L1078.5 632.0 L1078.6 632.5Z" fill="none" stroke="#000" stroke-width="1" />
<path d="M1068.4 624.3 L1068.4 624.6 L1068.4 624.9 L1068.4 625.2 L1068.4 625.4 L1068.4 625.7 L1068.3 625.9 L1068.3 626.1 L1068.2 626.3 L1068.1 626.4 L1067.9 626.5 L1067.8 626.6 L1067.7 626.7 L1067.5 626.7 L1067.4 626.6 L1067.2 626.6 L1067.1 626.5 L1066.9 626.3 L1066.8 626.2 L1066.7 626.0 L1066.6 625.7 L1066.4 625.5 L1066.4 625.2 L1066.3 625.0 L1066.2 624.7 L1066.2 624.4 L1066.2 624.1 L1066.2 623.8 L1066.2 623.6 L1066.2 623.3 L1066.3 623.1 L1066.3 622.9 L1066.4 622.7 L1066.5 622.6 L1066.7 622.5 L1066.8 622.4 L1066.9 622.3 L1067.1 622.3 L1067.2 622.4 L1067.4 622.4 L1067.5 622.5 L1067.7 622.7 L1067.8 622.8 L1067.9 623.0 L1068.0 623.3 L1068.2 623.5 L1068.2 623.8 L1068.3 624.0 L1068.4 624.3Z" fill="#000" stroke="#000" stroke-width="1" />
<path d="M1078.7 619.3 L1078.7 619.6 L1078.7 619.9 L1078.7 620.2 L1078.7 620.4 L1078.7 620.7 L1078.6 620.9 L1078.6 621.1 L1078.5 621.3 L1078.4 621.4 L1078.2 621.5 L1078.1 621.6 L1078.0 621.7 L1077.8 621.7 L1077.7 621.6 L1077.5 621.6 L1077.4 621.5 L1077.2 621.3 L1077.1 621.2 L1077.0 621.0 L1076.9 620.7 L1076.7 620.5 L1076.7 620.2 L1076.6 620.0 L1076.5 619.7 L1076.5 619.4 L1076.5 619.1 L1076.5 618.8 L1076.5 618.6 L1076.5 618.3 L1076.6 618.1 L1076.6 617.9 L1076.7 617.7 L1076.8 617.6 L1077.0 617.5 L1077.1 617.4 L1077.2 617.3 L1077.4 617.3 L1077.5 617.4 L1077.7 617.4 L1077.8 617.5 L1078.0 617.7 L1078.1 617.8 L1078.2 618.0 L1078.3 618.3 L1078.5 618.5 L1078.5 618.8 L1078.6 619.0 L1078.7 619.3Z" fill="#000" stroke="#000" stroke-width="1" />
<path d="M1086.7 641.4 L1086.7 641.7 L1086.7 642.0 L1086.7 642.3 L1086.7 642.5 L1086.7 642.8 L1086.6 643.0 L1086.6 643.2 L1086.5 643.4 L1086.4 643.5 L1086.2 643.6 L1086.1 643.7 L1086.0 643.8 L1085.8 643.8 L1085.7 643.7 L1085.5 643.7 L1085.4 643.6 L1085.2 643.4 L1085.1 643.3 L1085.0 643.1 L1084.9 642.8 L1084.7 642.6 L1084.7 642.3 L1084.6 642.1 L1084.5 641.8 L1084.5 641.5 L1084.5 641.2 L1084.5 640.9 L1084.5 640.7 L1084.5 640.4 L1084.6 640.2 L1084.6 640.0 L1084.7 639.8 L1084.8 639.7 L1085.0 639.6 L1085.1 639.5 L1085.2 639.4 L1085.4 639.4 L1085.5 639.5 L1085.7 639.5 L1085.8 639.6 L1086.0 639.8 L1086.1 639.9 L1086.2 640.1 L1086.3 640.4 L1086.5 640.6 L1086.5 640.9 L1086.6 641.1 L1086.7 641.4Z" fill="#000" stroke="#000" stroke-width="1" />
<path d="M1076.7 646.4 L1076.7 646.7 L1076.7 647.0 L1076.7 647.3 L1076.7 647.5 L1076.7 647.8 L1076.6 648.0 L1076.6 648.2 L1076.5 648.4 L1076.4 648.5 L1076.2 648.6 L1076.1 648.7 L1076.0 648.8 L1075.8 648.8 L1075.7 648.7 L1075.5 648.7 L1075.4 648.6 L1075.2 648.4 L1075.1 648.3 L1075.0 648.1 L1074.9 647.8 L1074.7 647.6 L1074.7 647.3 L1074.6 647.1 L1074.5 646.8 L1074.5 646.5 L1074.5 646.2 L1074.5 645.9 L1074.5 645.7 L1074.5 645.4 L1074.6 645.2 L1074.6 645.0 L1074.7 644.8 L1074.8 644.7 L1075.0 644.6 L1075.1 644.5 L1075.2 644.4 L1075.4 644.4 L1075.5 644.5 L1075.7 644.5 L1075.8 644.6 L1076.0 644.8 L1076.1 644.9 L1076.2 645.1 L1076.3 645.4 L1076.5 645.6 L1076.5 645.9 L1076.6 646.1 L1076.7 646.4Z" fill="#000" stroke="#000" stroke-width="1" />
<path d="M1069.5 660.5 L1075.5 678.5 L1078.5 677 L1077 662.5 Z" fill="#fff" stroke="#000" stroke-width="1.2" />
<path d="M1095.5 661 L1097.5 669.5 L1104 676 L1099.5 659" fill="#fff" stroke="#000" stroke-width="1.2" />
<path d="M1080.5 670.5 L1087.5 670" fill="none" stroke="#000" stroke-width="1" />
<path d="M1113 601.5 Q1108 597 1112 594.5 Q1118 592 1121.5 597.5" fill="none" stroke="#000" stroke-width="1" />
<path d="M1113.5 603 L1117 600 L1121 600 L1118.5 603.5 Z" fill="#fff" stroke="#000" stroke-width="1.2" />
<path d="M1120 603.5 L1126.5 603.5 L1126.5 599 L1122 599.5" fill="none" stroke="#000" stroke-width="1.6" />
<path d="M1120.0 597.5 C1119.9 595.6 1119.2 588.7 1119.5 586.0 C1119.8 583.3 1120.5 582.5 1122.0 581.5 C1123.5 580.5 1127.0 579.7 1128.5 579.8 C1130.0 579.9 1130.6 581.6 1131.0 582.0" fill="none" stroke="#000" stroke-width="1.8" />
<path d="M1129.5 576.0 C1129.8 575.0 1129.8 571.5 1131.0 570.0 C1132.2 568.5 1135.2 567.2 1137.0 567.3 C1138.8 567.4 1140.8 568.9 1141.5 570.5 C1142.2 572.1 1141.3 575.9 1141.3 577.0" fill="none" stroke="#000" stroke-width="1.2" />
<path d="M1131 577.5 L1139.5 575.5 L1135.5 582 Z" fill="none" stroke="#000" stroke-width="1" />
<path d="M1130 589.5 L1142.5 583.5 M1132.5 594 L1147 587.5" fill="none" stroke="#000" stroke-width="1.2" />
<path d="M1143 575 L1147 582 L1147.5 586 M1145 579.5 L1150 583" fill="none" stroke="#000" stroke-width="2" />
<path d="M1133.5 592 L1136 598.5" fill="none" stroke="#000" stroke-width="2.5" />
<path d="M1131 604 Q1137 606 1141 614.5" fill="none" stroke="#000" stroke-width="3" stroke-dasharray="2 1.5"/>
<path d="M1119.7 599 L1119.7 588 Q1120.5 581.5 1128.8 579.7" fill="none" stroke="#000" stroke-width="2.4" />
<path d="M1130.4 586 L1128.8 599" fill="none" stroke="#000" stroke-width="2.4" />
<rect x="1123.5" y="600.5" width="4.5" height="5.5" fill="#000"/>
<path d="M1134 594 L1135 599.5" fill="none" stroke="#000" stroke-width="3" />
<path d="M1145.5 580 L1146.5 586.5" fill="none" stroke="#000" stroke-width="3" />
<path d="M1142.7 593.6 Q1140.5 600 1141.6 607.5" fill="none" stroke="#000" stroke-width="2.2" />
<path d="M1144.3 610.7 L1146.9 635.2" fill="none" stroke="#000" stroke-width="2.2" />
<path d="M1146.5 636.0 C1145.9 633.7 1143.8 626.8 1143.0 622.0 C1142.2 617.2 1141.4 611.2 1141.5 607.0 C1141.6 602.8 1142.4 599.6 1143.5 597.0 C1144.6 594.4 1146.3 592.5 1148.0 591.5 C1149.7 590.5 1151.8 590.1 1153.5 591.0 C1155.2 591.9 1156.8 594.0 1158.5 597.0 C1160.2 600.0 1162.3 604.8 1163.5 609.0 C1164.7 613.2 1165.5 618.2 1165.5 622.0 C1165.5 625.8 1164.8 629.4 1163.5 632.0 C1162.2 634.6 1160.2 636.4 1158.0 637.5 C1155.8 638.6 1151.8 638.3 1150.5 638.5" fill="none" stroke="#000" stroke-width="1.3" />
<path d="M1149.0 634.0 C1149.1 630.3 1149.2 617.7 1149.5 612.0 C1149.8 606.3 1150.2 602.8 1151.0 600.0 C1151.8 597.2 1153.5 596.2 1154.0 595.5" fill="none" stroke="#000" stroke-width="1.2" />
<path d="M1156.5 596.5 C1157.3 598.8 1160.5 605.2 1161.5 610.0 C1162.5 614.8 1162.8 621.3 1162.5 625.0 C1162.2 628.7 1160.0 630.8 1159.5 632.0" fill="none" stroke="#000" stroke-width="1" />
<path d="M1152 600 L1156 597.5 M1151.5 605 L1151 613" fill="none" stroke="#000" stroke-width="1.2" />
<path d="M1142.1 567.5 L1156.5 560.5 L1160 561.5 L1180 579.2" fill="none" stroke="#000" stroke-width="1" />
<path d="M1142.8 571.5 L1158 565.2 L1176 580" fill="none" stroke="#000" stroke-width="1" />
<path d="M1158.1 585 L1180 577.5" fill="none" stroke="#000" stroke-width="1" />
<path d="M1153 576 L1158.1 585 L1167.5 613.9 L1166.7 641.6" fill="none" stroke="#000" stroke-width="1" />
<path d="M1160.5 588 Q1170 603 1168.5 614" fill="none" stroke="#000" stroke-width="1" />
<path d="M1180 579.2 L1188.5 589.3 L1197.6 594.7 L1198.1 616 L1188.5 634.1 L1184.3 636.3 L1160.8 645.3 L1151.2 640.5 L1146.9 636.3" fill="none" stroke="#000" stroke-width="1" />
<path d="M1181 580.5 Q1190 595 1189.6 601 L1188.5 633" fill="none" stroke="#000" stroke-width="1" />
<path d="M1150.1 615.5 L1164 611.5 M1169 612.5 L1188.5 607.5" fill="none" stroke="#000" stroke-width="1" />
<path d="M1149 634.1 L1163 630 M1168 632.5 L1188.5 627.7" fill="none" stroke="#000" stroke-width="1" />
<path d="M1189.6 601 L1197.6 597.5 M1189.5 621 L1195 617.5" fill="none" stroke="#000" stroke-width="1" />
<path d="M1167 565 L1172 560.5 L1177.5 557.5 L1178.5 563 L1174 566 L1176 570 L1181.5 568 L1182 573" fill="none" stroke="#000" stroke-width="1.4" />
<path d="M1178 559 L1184 557.2 L1188.3 557" fill="none" stroke="#000" stroke-width="1" />
<path d="M1184.5 572 L1187 571 L1187.5 575 L1189 575.5" fill="none" stroke="#000" stroke-width="1" />
<path d="M1170.5 566.0 L1170.5 566.3 L1170.4 566.5 L1170.4 566.8 L1170.3 567.0 L1170.2 567.2 L1170.1 567.4 L1169.9 567.6 L1169.8 567.7 L1169.6 567.8 L1169.4 567.9 L1169.2 568.0 L1169.0 568.0 L1168.8 568.0 L1168.6 567.9 L1168.4 567.8 L1168.2 567.7 L1168.1 567.6 L1167.9 567.4 L1167.8 567.2 L1167.7 567.0 L1167.6 566.8 L1167.6 566.5 L1167.5 566.3 L1167.5 566.0 L1167.5 565.7 L1167.6 565.5 L1167.6 565.2 L1167.7 565.0 L1167.8 564.8 L1167.9 564.6 L1168.1 564.4 L1168.2 564.3 L1168.4 564.2 L1168.6 564.1 L1168.8 564.0 L1169.0 564.0 L1169.2 564.0 L1169.4 564.1 L1169.6 564.2 L1169.8 564.3 L1169.9 564.4 L1170.1 564.6 L1170.2 564.8 L1170.3 565.0 L1170.4 565.2 L1170.4 565.5 L1170.5 565.7 L1170.5 566.0Z" fill="none" stroke="#000" stroke-width="1" />
<path d="M1190.5 581 L1193 576.5 L1195.5 581 Z" fill="#000" stroke="#000" stroke-width="1" />
<path d="M1191.0 583.0 C1191.2 583.8 1190.8 586.1 1192.0 588.0 C1193.2 589.9 1197.0 593.4 1198.0 594.5" fill="none" stroke="#000" stroke-width="1" />
<path d="M1238.0 573.7 L1240.2 579.8 L1241.9 586.0 L1243.1 592.0 L1243.9 598.0 L1244.3 603.6 L1244.1 608.9 L1243.4 613.7 L1242.3 618.0 L1240.8 621.6 L1238.8 624.6 L1236.4 626.9 L1233.6 628.4 L1230.6 629.1 L1227.3 629.0 L1223.8 628.1 L1220.2 626.5 L1216.5 624.0 L1212.8 620.9 L1209.1 617.1 L1205.6 612.7 L1202.2 607.7 L1199.1 602.4 L1196.3 596.7 L1193.8 590.7 L1191.6 584.6 L1189.9 578.4 L1188.7 572.4 L1187.9 566.4 L1187.5 560.8 L1187.7 555.5 L1188.4 550.7 L1189.5 546.4 L1191.0 542.8 L1193.0 539.8 L1195.4 537.5 L1198.2 536.0 L1201.2 535.3 L1204.5 535.4 L1208.0 536.3 L1211.6 537.9 L1215.3 540.4 L1219.0 543.5 L1222.7 547.3 L1226.2 551.7 L1229.6 556.7 L1232.7 562.0 L1235.5 567.7 L1238.0 573.7Z" fill="none" stroke="#000" stroke-width="1" stroke-dasharray="30 2"/>
<path d="M1217.0 546.2 L1217.1 546.5 L1217.2 546.8 L1217.2 547.1 L1217.2 547.4 L1217.2 547.7 L1217.2 548.0 L1217.2 548.2 L1217.1 548.4 L1217.0 548.6 L1216.8 548.8 L1216.7 548.9 L1216.5 549.0 L1216.3 549.0 L1216.2 549.0 L1216.0 549.0 L1215.8 548.9 L1215.6 548.8 L1215.4 548.6 L1215.2 548.5 L1215.0 548.2 L1214.8 548.0 L1214.6 547.7 L1214.5 547.5 L1214.4 547.2 L1214.3 546.9 L1214.2 546.6 L1214.2 546.3 L1214.2 546.0 L1214.2 545.7 L1214.2 545.4 L1214.2 545.2 L1214.3 545.0 L1214.4 544.8 L1214.6 544.6 L1214.7 544.5 L1214.9 544.4 L1215.1 544.4 L1215.2 544.4 L1215.4 544.4 L1215.6 544.5 L1215.8 544.6 L1216.0 544.8 L1216.2 544.9 L1216.4 545.2 L1216.6 545.4 L1216.8 545.7 L1216.9 545.9 L1217.0 546.2Z" fill="#000" stroke="#000" stroke-width="1" />
<path d="M1216.5 567.0 L1216.6 567.3 L1216.7 567.6 L1216.7 567.9 L1216.7 568.2 L1216.7 568.5 L1216.7 568.8 L1216.7 569.0 L1216.6 569.2 L1216.5 569.4 L1216.3 569.6 L1216.2 569.7 L1216.0 569.8 L1215.8 569.8 L1215.7 569.8 L1215.5 569.8 L1215.3 569.7 L1215.1 569.6 L1214.9 569.4 L1214.7 569.3 L1214.5 569.0 L1214.3 568.8 L1214.1 568.5 L1214.0 568.3 L1213.9 568.0 L1213.8 567.7 L1213.7 567.4 L1213.7 567.1 L1213.7 566.8 L1213.7 566.5 L1213.7 566.2 L1213.7 566.0 L1213.8 565.8 L1213.9 565.6 L1214.1 565.4 L1214.2 565.3 L1214.4 565.2 L1214.6 565.2 L1214.7 565.2 L1214.9 565.2 L1215.1 565.3 L1215.3 565.4 L1215.5 565.6 L1215.7 565.7 L1215.9 566.0 L1216.1 566.2 L1216.3 566.5 L1216.4 566.7 L1216.5 567.0Z" fill="#000" stroke="#000" stroke-width="1" />
<path d="M1215.3 595.9 L1215.4 596.1 L1215.5 596.4 L1215.5 596.6 L1215.5 596.9 L1215.5 597.1 L1215.4 597.3 L1215.4 597.5 L1215.3 597.7 L1215.2 597.9 L1215.1 598.0 L1214.9 598.1 L1214.8 598.2 L1214.6 598.2 L1214.4 598.2 L1214.3 598.2 L1214.1 598.1 L1213.9 598.1 L1213.7 597.9 L1213.5 597.8 L1213.4 597.6 L1213.2 597.4 L1213.1 597.2 L1213.0 597.0 L1212.9 596.7 L1212.8 596.5 L1212.7 596.2 L1212.7 596.0 L1212.7 595.7 L1212.7 595.5 L1212.8 595.3 L1212.8 595.1 L1212.9 594.9 L1213.0 594.7 L1213.1 594.6 L1213.3 594.5 L1213.4 594.4 L1213.6 594.4 L1213.8 594.4 L1213.9 594.4 L1214.1 594.5 L1214.3 594.5 L1214.5 594.7 L1214.7 594.8 L1214.8 595.0 L1215.0 595.2 L1215.1 595.4 L1215.2 595.6 L1215.3 595.9Z" fill="#000" stroke="#000" stroke-width="1" />
<path d="M1237.0 618.2 L1237.1 618.5 L1237.2 618.9 L1237.3 619.2 L1237.3 619.5 L1237.3 619.9 L1237.2 620.2 L1237.2 620.5 L1237.1 620.7 L1237.0 620.9 L1236.8 621.1 L1236.6 621.2 L1236.5 621.3 L1236.3 621.4 L1236.0 621.4 L1235.8 621.3 L1235.6 621.3 L1235.3 621.1 L1235.1 620.9 L1234.9 620.7 L1234.7 620.5 L1234.5 620.2 L1234.3 619.9 L1234.1 619.6 L1234.0 619.2 L1233.9 618.9 L1233.8 618.5 L1233.7 618.2 L1233.7 617.9 L1233.7 617.5 L1233.8 617.2 L1233.8 616.9 L1233.9 616.7 L1234.0 616.5 L1234.2 616.3 L1234.4 616.2 L1234.5 616.1 L1234.7 616.0 L1235.0 616.0 L1235.2 616.1 L1235.4 616.1 L1235.7 616.3 L1235.9 616.5 L1236.1 616.7 L1236.3 616.9 L1236.5 617.2 L1236.7 617.5 L1236.9 617.8 L1237.0 618.2Z" fill="#000" stroke="#000" stroke-width="1" />
<path d="M1216.6 581.4 L1216.8 581.9 L1216.8 582.4 L1216.9 582.9 L1216.9 583.4 L1216.9 583.8 L1216.8 584.3 L1216.7 584.7 L1216.6 585.0 L1216.4 585.3 L1216.2 585.5 L1216.0 585.7 L1215.7 585.8 L1215.5 585.8 L1215.2 585.8 L1214.9 585.7 L1214.6 585.5 L1214.3 585.3 L1214.1 585.0 L1213.8 584.7 L1213.5 584.3 L1213.3 583.9 L1213.1 583.4 L1212.9 582.9 L1212.8 582.4 L1212.6 581.9 L1212.6 581.4 L1212.5 580.9 L1212.5 580.4 L1212.5 580.0 L1212.6 579.5 L1212.7 579.1 L1212.8 578.8 L1213.0 578.5 L1213.2 578.3 L1213.4 578.1 L1213.7 578.0 L1213.9 578.0 L1214.2 578.0 L1214.5 578.1 L1214.8 578.3 L1215.1 578.5 L1215.3 578.8 L1215.6 579.1 L1215.9 579.5 L1216.1 579.9 L1216.3 580.4 L1216.5 580.9 L1216.6 581.4Z" fill="none" stroke="#000" stroke-width="1.2" />
<path d="M1240.5 584 L1243.5 586.5 L1244 591.5 L1242 592.5" fill="none" stroke="#000" stroke-width="1" />
<path d="M1230.1 558.5 L1238.5 554.5 Q1241 553.5 1242 556 L1243 560 Q1243.5 562 1241 562.8 L1233.5 565" fill="none" stroke="#000" stroke-width="1" />
<path d="M1242.9 558.0 L1243.0 558.5 L1243.1 558.9 L1243.2 559.4 L1243.2 559.8 L1243.1 560.2 L1243.1 560.6 L1243.0 561.0 L1242.9 561.3 L1242.7 561.5 L1242.6 561.7 L1242.4 561.9 L1242.1 562.0 L1241.9 562.0 L1241.7 562.0 L1241.4 561.9 L1241.1 561.7 L1240.9 561.5 L1240.6 561.3 L1240.4 561.0 L1240.2 560.6 L1240.0 560.3 L1239.8 559.9 L1239.6 559.4 L1239.5 559.0 L1239.4 558.5 L1239.3 558.1 L1239.2 557.6 L1239.2 557.2 L1239.3 556.8 L1239.3 556.4 L1239.4 556.0 L1239.5 555.7 L1239.7 555.5 L1239.8 555.3 L1240.0 555.1 L1240.3 555.0 L1240.5 555.0 L1240.8 555.0 L1241.0 555.1 L1241.3 555.3 L1241.5 555.5 L1241.8 555.7 L1242.0 556.0 L1242.2 556.4 L1242.4 556.7 L1242.6 557.1 L1242.8 557.6 L1242.9 558.0Z" fill="none" stroke="#000" stroke-width="1" />
<path d="M1247.1 562.5 L1247.1 562.7 L1247.0 562.9 L1247.0 563.1 L1246.9 563.3 L1246.8 563.5 L1246.6 563.6 L1246.5 563.8 L1246.3 563.9 L1246.1 564.0 L1245.9 564.0 L1245.7 564.1 L1245.5 564.1 L1245.3 564.1 L1245.1 564.0 L1244.9 564.0 L1244.7 563.9 L1244.5 563.8 L1244.4 563.6 L1244.2 563.5 L1244.1 563.3 L1244.0 563.1 L1244.0 562.9 L1243.9 562.7 L1243.9 562.5 L1243.9 562.3 L1244.0 562.1 L1244.0 561.9 L1244.1 561.7 L1244.2 561.5 L1244.4 561.4 L1244.5 561.2 L1244.7 561.1 L1244.9 561.0 L1245.1 561.0 L1245.3 560.9 L1245.5 560.9 L1245.7 560.9 L1245.9 561.0 L1246.1 561.0 L1246.3 561.1 L1246.5 561.2 L1246.6 561.4 L1246.8 561.5 L1246.9 561.7 L1247.0 561.9 L1247.0 562.1 L1247.1 562.3 L1247.1 562.5Z" fill="none" stroke="#000" stroke-width="1" />
<path d="M1250.1 563.5 L1250.1 563.7 L1250.0 563.9 L1250.0 564.1 L1249.9 564.3 L1249.8 564.5 L1249.6 564.6 L1249.5 564.8 L1249.3 564.9 L1249.1 565.0 L1248.9 565.0 L1248.7 565.1 L1248.5 565.1 L1248.3 565.1 L1248.1 565.0 L1247.9 565.0 L1247.7 564.9 L1247.5 564.8 L1247.4 564.6 L1247.2 564.5 L1247.1 564.3 L1247.0 564.1 L1247.0 563.9 L1246.9 563.7 L1246.9 563.5 L1246.9 563.3 L1247.0 563.1 L1247.0 562.9 L1247.1 562.7 L1247.2 562.5 L1247.4 562.4 L1247.5 562.2 L1247.7 562.1 L1247.9 562.0 L1248.1 562.0 L1248.3 561.9 L1248.5 561.9 L1248.7 561.9 L1248.9 562.0 L1249.1 562.0 L1249.3 562.1 L1249.5 562.2 L1249.6 562.4 L1249.8 562.5 L1249.9 562.7 L1250.0 562.9 L1250.0 563.1 L1250.1 563.3 L1250.1 563.5Z" fill="none" stroke="#000" stroke-width="1" />
<path d="M1148 636.3 L1155 640.5 L1151.5 643.5 Z" fill="#000" stroke="#000" stroke-width="1" />
<path d="M1233.3 629.9 L1240 637.5 L1236 639 Z" fill="#000" stroke="#000" stroke-width="1" />
<path d="M1290.9 419.9 L1291.5 419.5 L1292.2 419.1 L1292.8 418.8 L1293.5 418.5 L1294.1 418.2 L1294.8 417.9 L1295.5 417.7 L1296.2 417.4 L1296.9 417.2 L1297.6 417.0 L1298.3 416.8 L1299.0 416.6 L1299.7 416.5 L1300.4 416.4 L1301.1 416.3 L1301.9 416.2 L1302.6 416.1 L1303.4 416.1 L1304.1 416.1 L1304.9 416.0 L1305.7 416.1 L1306.4 416.1 L1307.2 416.1 L1308.0 416.2 L1308.8 416.3 L1309.6 416.4 L1310.3 416.5 L1311.1 416.7 L1312.0 416.8 L1312.8 417.0 L1313.6 417.2 L1314.4 417.4 L1315.2 417.7 L1316.0 418.0 L1316.9 418.2 L1317.7 418.5 L1318.5 418.8 L1319.4 419.2 L1320.2 419.5 L1321.1 419.9 L1321.9 420.3 L1322.8 420.7 L1323.6 421.1 L1324.5 421.6 L1325.3 422.1 L1326.2 422.6 L1327.0 423.1 L1327.9 423.6" fill="none" stroke="#000" stroke-width="1" />
<path d="M1327.9 423.6 L1329.6 424.7 L1331.4 425.8 L1333.1 427.1 L1334.9 428.4 L1336.6 429.8 L1338.4 431.2 L1340.1 432.7 L1341.9 434.3 L1343.6 436.0 L1345.4 437.7 L1347.1 439.5 L1348.9 441.3 L1350.6 443.2 L1352.3 445.1 L1354.0 447.2 L1355.7 449.2 L1357.4 451.4 L1359.1 453.5 L1360.8 455.8 L1362.4 458.1 L1364.1 460.4 L1365.7 462.8 L1367.3 465.2 L1368.9 467.7 L1370.4 470.2 L1372.0 472.8 L1373.5 475.4 L1375.0 478.0 L1376.5 480.7 L1378.0 483.4 L1379.4 486.2 L1380.8 489.0 L1382.2 491.8 L1383.5 494.6 L1384.8 497.5 L1386.1 500.4 L1387.4 503.3 L1388.6 506.2 L1389.8 509.2 L1391.0 512.1 L1392.1 515.1 L1393.2 518.1 L1394.3 521.1 L1395.3 524.2 L1396.3 527.2 L1397.2 530.2 L1398.1 533.2 L1399.0 536.3" fill="none" stroke="#000" stroke-width="1" stroke-dasharray="9 3"/>
<path d="M1399.0 536.3 L1400.1 540.2 L1401.1 544.1 L1402.0 548.0 L1402.9 551.8 L1403.7 555.7 L1404.4 559.5 L1405.1 563.3 L1405.7 567.1 L1406.2 570.9 L1406.6 574.6 L1407.0 578.2 L1407.3 581.8 L1407.5 585.4 L1407.7 588.9 L1407.7 592.4 L1407.7 595.8 L1407.7 599.1 L1407.5 602.4 L1407.3 605.6 L1407.0 608.7 L1406.7 611.7 L1406.2 614.7 L1405.7 617.5 L1405.1 620.3 L1404.5 623.0 L1403.8 625.6 L1403.0 628.1 L1402.1 630.5 L1401.2 632.8 L1400.2 635.0 L1399.2 637.1 L1398.0 639.1 L1396.8 640.9 L1395.6 642.7 L1394.3 644.3 L1392.9 645.9 L1391.5 647.3 L1390.0 648.5 L1388.5 649.7 L1386.9 650.7 L1385.3 651.7 L1383.6 652.5 L1381.8 653.1 L1380.0 653.7 L1378.2 654.1 L1376.3 654.4 L1374.4 654.5 L1372.5 654.6" fill="none" stroke="#000" stroke-width="1" stroke-dasharray="40 3"/>
<clipPath id="cF"><path d="M1377.3 521.1 L1380.2 529.3 L1382.8 537.6 L1385.1 545.9 L1387.2 554.2 L1388.9 562.5 L1390.3 570.6 L1391.4 578.6 L1392.2 586.4 L1392.6 594.0 L1392.7 601.3 L1392.5 608.3 L1391.9 615.0 L1391.0 621.3 L1389.8 627.3 L1388.3 632.8 L1386.4 637.9 L1384.2 642.5 L1381.8 646.6 L1379.0 650.1 L1376.0 653.2 L1372.7 655.7 L1369.2 657.7 L1365.5 659.0 L1361.6 659.8 L1357.5 660.1 L1353.2 659.7 L1348.8 658.8 L1344.2 657.2 L1339.6 655.2 L1334.9 652.5 L1330.1 649.3 L1325.3 645.6 L1320.5 641.4 L1315.7 636.7 L1311.0 631.5 L1306.3 625.9 L1301.7 619.9 L1297.2 613.4 L1292.8 606.7 L1288.6 599.6 L1284.6 592.2 L1280.7 584.6 L1277.1 576.7 L1273.7 568.7 L1270.5 560.5 L1267.6 552.3 L1265.0 544.0 L1262.7 535.7 L1260.6 527.4 L1258.9 519.1 L1257.5 511.0 L1256.4 503.0 L1255.6 495.2 L1255.2 487.6 L1255.1 480.3 L1255.3 473.3 L1255.9 466.6 L1256.8 460.3 L1258.0 454.3 L1259.5 448.8 L1261.4 443.7 L1263.6 439.1 L1266.0 435.0 L1268.8 431.5 L1271.8 428.4 L1275.1 425.9 L1278.6 423.9 L1282.3 422.6 L1286.2 421.8 L1290.3 421.5 L1294.6 421.9 L1299.0 422.8 L1303.6 424.4 L1308.2 426.4 L1312.9 429.1 L1317.7 432.3 L1322.5 436.0 L1327.3 440.2 L1332.1 444.9 L1336.8 450.1 L1341.5 455.7 L1346.1 461.7 L1350.6 468.2 L1355.0 474.9 L1359.2 482.0 L1363.2 489.4 L1367.1 497.0 L1370.7 504.9 L1374.1 512.9 L1377.3 521.1Z"/></clipPath>
<path d="M1377.3 521.1 L1382.5 536.6 L1386.7 552.2 L1389.9 567.6 L1391.9 582.5 L1392.7 596.7 L1392.4 610.0 L1390.9 622.1 L1388.3 632.8 L1384.5 641.9 L1379.7 649.3 L1374.0 654.8 L1367.4 658.4 L1360.1 660.0 L1352.1 659.5 L1343.7 657.0 L1334.9 652.5 L1325.9 646.1 L1316.9 637.9 L1308.0 628.1 L1299.4 616.7 L1291.2 604.0 L1283.6 590.3 L1276.7 575.7 L1270.5 560.5 L1265.3 545.0 L1261.1 529.4 L1257.9 514.0 L1255.9 499.1 L1255.1 484.9 L1255.4 471.6 L1256.9 459.5 L1259.5 448.8 L1263.3 439.7 L1268.1 432.3 L1273.8 426.8 L1280.4 423.2 L1287.7 421.6 L1295.7 422.1 L1304.1 424.6 L1312.9 429.1 L1321.9 435.5 L1330.9 443.7 L1339.8 453.5 L1348.4 464.9 L1356.6 477.6 L1364.2 491.3 L1371.1 505.9 L1377.3 521.1Z" fill="#fff" stroke="#000" stroke-width="1.2" />
<g clip-path="url(#cF)">
<path d="M1382.9 519.1 L1388.1 534.6 L1392.3 550.2 L1395.5 565.6 L1397.5 580.5 L1398.3 594.7 L1398.0 608.0 L1396.5 620.1 L1393.9 630.8 L1390.1 639.9 L1385.3 647.3 L1379.6 652.8 L1373.0 656.4 L1365.7 658.0 L1357.7 657.5 L1349.3 655.0 L1340.5 650.5 L1331.5 644.1 L1322.5 635.9 L1313.6 626.1 L1305.0 614.7 L1296.8 602.0 L1289.2 588.3 L1282.3 573.7 L1276.1 558.5 L1270.9 543.0 L1266.7 527.4 L1263.5 512.0 L1261.5 497.1 L1260.7 482.9 L1261.0 469.6 L1262.5 457.5 L1265.1 446.8 L1268.9 437.7 L1273.7 430.3 L1279.4 424.8 L1286.0 421.2 L1293.3 419.6 L1301.3 420.1 L1309.7 422.6 L1318.5 427.1 L1327.5 433.5 L1336.5 441.7 L1345.4 451.5 L1354.0 462.9 L1362.2 475.6 L1369.8 489.3 L1376.7 503.9 L1382.9 519.1Z" fill="url(#rim2)" stroke="#000" stroke-width="1.2" />
<path d="M1392.4 515.5 L1397.6 531.0 L1401.8 546.6 L1405.0 562.0 L1407.0 576.9 L1407.8 591.1 L1407.5 604.4 L1406.0 616.5 L1403.4 627.2 L1399.6 636.3 L1394.8 643.7 L1389.1 649.2 L1382.5 652.8 L1375.2 654.4 L1367.2 653.9 L1358.8 651.4 L1350.0 646.9 L1341.0 640.5 L1332.0 632.3 L1323.1 622.5 L1314.5 611.1 L1306.3 598.4 L1298.7 584.7 L1291.8 570.1 L1285.6 554.9 L1280.4 539.4 L1276.2 523.8 L1273.0 508.4 L1271.0 493.5 L1270.2 479.3 L1270.5 466.0 L1272.0 453.9 L1274.6 443.2 L1278.4 434.1 L1283.2 426.7 L1288.9 421.2 L1295.5 417.6 L1302.8 416.0 L1310.8 416.5 L1319.2 419.0 L1328.0 423.5 L1337.0 429.9 L1346.0 438.1 L1354.9 447.9 L1363.5 459.3 L1371.7 472.0 L1379.3 485.7 L1386.2 500.3 L1392.4 515.5Z" fill="url(#mesh)" stroke="#000" stroke-width="1" />
</g>
<path d="M1377.3 521.1 L1382.5 536.6 L1386.7 552.2 L1389.9 567.6 L1391.9 582.5 L1392.7 596.7 L1392.4 610.0 L1390.9 622.1 L1388.3 632.8 L1384.5 641.9 L1379.7 649.3 L1374.0 654.8 L1367.4 658.4 L1360.1 660.0 L1352.1 659.5 L1343.7 657.0 L1334.9 652.5 L1325.9 646.1 L1316.9 637.9 L1308.0 628.1 L1299.4 616.7 L1291.2 604.0 L1283.6 590.3 L1276.7 575.7 L1270.5 560.5 L1265.3 545.0 L1261.1 529.4 L1257.9 514.0 L1255.9 499.1 L1255.1 484.9 L1255.4 471.6 L1256.9 459.5 L1259.5 448.8 L1263.3 439.7 L1268.1 432.3 L1273.8 426.8 L1280.4 423.2 L1287.7 421.6 L1295.7 422.1 L1304.1 424.6 L1312.9 429.1 L1321.9 435.5 L1330.9 443.7 L1339.8 453.5 L1348.4 464.9 L1356.6 477.6 L1364.2 491.3 L1371.1 505.9 L1377.3 521.1Z" fill="none" stroke="#000" stroke-width="1.2" />
<path d="M1360.0 660.7 L1357.5 661.0 L1354.9 661.1 L1352.2 660.9 L1349.5 660.5 L1346.7 659.9 L1343.9 659.1 L1341.1 658.0 L1338.2 656.7 L1335.2 655.2 L1332.3 653.5 L1329.3 651.6 L1326.3 649.5 L1323.3 647.1 L1320.3 644.6 L1317.3 641.8 L1314.3 638.9 L1311.3 635.8 L1308.4 632.5 L1305.4 629.1 L1302.5 625.4 L1299.7 621.6 L1296.8 617.7 L1294.1 613.6 L1291.3 609.4 L1288.6 605.0 L1286.0 600.6 L1283.5 596.0 L1281.0 591.3 L1278.6 586.5 L1276.3 581.7 L1274.1 576.7 L1271.9 571.7 L1269.9 566.7 L1267.9 561.5 L1266.1 556.4 L1264.3 551.2 L1262.7 546.0 L1261.2 540.8 L1259.8 535.6 L1258.5 530.4 L1257.3 525.3 L1256.3 520.1 L1255.3 515.0 L1254.5 510.0 L1253.9 505.0 L1253.3 500.1 L1252.9 495.3 L1252.6 490.5" fill="none" stroke="#000" stroke-width="1" />
<path d="M1313.6 430 L1326.4 424.8" fill="none" stroke="#000" stroke-width="2" />
<path d="M1326.4 424.8 L1330 427" fill="none" stroke="#000" stroke-width="1.5" />
<rect x="1324" y="430" width="6" height="2.4" fill="#000" transform="rotate(-8 1327 431)"/>
<rect x="1338" y="441" width="2.4" height="2.4" fill="#000"/>
<path d="M1319.0 405.0 Q1319.0 402.0 1325.0 401.5 Q1331.0 402.0 1331.0 405.0 Q1331.0 408.0 1325.0 408.0 Q1319.0 408.0 1319.0 405.0 Z" fill="#fff" stroke="#000" stroke-width="1.2" />
<path d="M1322.0 404.5 L1328.0 404.0" fill="none" stroke="#000" stroke-width="1.6" />
<path d="M1322.0 408.0 L1322.5 419.0 Q1325.0 422.0 1327.5 419.0 L1328.0 408.0" fill="none" stroke="#000" stroke-width="1.1" />
<path d="M1333.3 677 Q1333 683 1338.8 683 Q1344.5 683 1344.2 677 L1342 675.5 L1335.5 675.5 Z" fill="#fff" stroke="#000" stroke-width="1.1" />
<path d="M1335.8 676 L1335.8 669 Q1336 665 1338.8 665 Q1341.8 665 1341.8 669 L1341.8 676" fill="#fff" stroke="#000" stroke-width="1.1" />
<path d="M1335 679.5 Q1338.8 681 1342.5 679.5" fill="none" stroke="#000" stroke-width="1" />
<rect x="1281.5" y="596.5" width="4" height="6.5" fill="#fff" stroke="#000" stroke-width="1.1"/>
<path d="M1291.7 598.5 L1291.7 599.0 L1291.6 599.5 L1291.5 600.0 L1291.3 600.4 L1291.0 600.8 L1290.8 601.2 L1290.4 601.5 L1290.1 601.8 L1289.7 602.0 L1289.3 602.2 L1288.9 602.3 L1288.5 602.3 L1288.1 602.3 L1287.7 602.2 L1287.3 602.0 L1286.9 601.8 L1286.6 601.5 L1286.2 601.2 L1286.0 600.8 L1285.7 600.4 L1285.5 600.0 L1285.4 599.5 L1285.3 599.0 L1285.3 598.5 L1285.3 598.0 L1285.4 597.5 L1285.5 597.0 L1285.7 596.6 L1286.0 596.2 L1286.2 595.8 L1286.6 595.5 L1286.9 595.2 L1287.3 595.0 L1287.7 594.8 L1288.1 594.7 L1288.5 594.7 L1288.9 594.7 L1289.3 594.8 L1289.7 595.0 L1290.1 595.2 L1290.4 595.5 L1290.8 595.8 L1291.0 596.2 L1291.3 596.6 L1291.5 597.0 L1291.6 597.5 L1291.7 598.0 L1291.7 598.5Z" fill="#fff" stroke="#000" stroke-width="1.1" />
<path d="M1402.6 590.0 L1402.6 590.3 L1402.5 590.6 L1402.4 590.9 L1402.3 591.2 L1402.1 591.5 L1401.9 591.7 L1401.7 591.9 L1401.4 592.1 L1401.1 592.2 L1400.8 592.3 L1400.5 592.4 L1400.2 592.4 L1399.9 592.4 L1399.6 592.3 L1399.3 592.2 L1399.0 592.1 L1398.7 591.9 L1398.5 591.7 L1398.3 591.5 L1398.1 591.2 L1398.0 590.9 L1397.9 590.6 L1397.8 590.3 L1397.8 590.0 L1397.8 589.7 L1397.9 589.4 L1398.0 589.1 L1398.1 588.8 L1398.3 588.5 L1398.5 588.3 L1398.7 588.1 L1399.0 587.9 L1399.3 587.8 L1399.6 587.7 L1399.9 587.6 L1400.2 587.6 L1400.5 587.6 L1400.8 587.7 L1401.1 587.8 L1401.4 587.9 L1401.7 588.1 L1401.9 588.3 L1402.1 588.5 L1402.3 588.8 L1402.4 589.1 L1402.5 589.4 L1402.6 589.7 L1402.6 590.0Z" fill="#000" stroke="#000" stroke-width="1" />
<path d="M1402 589.5 Q1405 589.5 1406 593 L1408.5 595.5" fill="none" stroke="#000" stroke-width="1.2" />
<path d="M1422.4 603.8 L1422.2 604.2 L1421.9 604.6 L1421.5 605.0 L1421.1 605.3 L1420.6 605.6 L1420.0 605.8 L1419.4 605.9 L1418.8 606.0 L1418.2 606.0 L1417.5 605.9 L1416.8 605.8 L1416.2 605.6 L1415.6 605.3 L1415.0 605.0 L1414.4 604.6 L1413.9 604.2 L1413.5 603.8 L1413.1 603.3 L1412.8 602.8 L1412.6 602.2 L1412.5 601.7 L1412.4 601.2 L1412.5 600.7 L1412.6 600.2 L1412.8 599.8 L1413.1 599.4 L1413.5 599.0 L1413.9 598.7 L1414.4 598.4 L1415.0 598.2 L1415.6 598.1 L1416.2 598.0 L1416.8 598.0 L1417.5 598.1 L1418.2 598.2 L1418.8 598.4 L1419.4 598.7 L1420.0 599.0 L1420.6 599.4 L1421.1 599.8 L1421.5 600.2 L1421.9 600.7 L1422.2 601.2 L1422.4 601.8 L1422.5 602.3 L1422.6 602.8 L1422.5 603.3 L1422.4 603.8Z" fill="#fff" stroke="#000" stroke-width="1.1" />
<path d="M1417.1 600.5 L1417.1 600.8 L1417.0 601.1 L1416.9 601.4 L1416.8 601.7 L1416.6 602.0 L1416.3 602.2 L1416.1 602.4 L1415.8 602.6 L1415.5 602.7 L1415.2 602.8 L1414.8 602.9 L1414.5 602.9 L1414.2 602.9 L1413.8 602.8 L1413.5 602.7 L1413.2 602.6 L1412.9 602.4 L1412.7 602.2 L1412.4 602.0 L1412.2 601.7 L1412.1 601.4 L1412.0 601.1 L1411.9 600.8 L1411.9 600.5 L1411.9 600.2 L1412.0 599.9 L1412.1 599.6 L1412.2 599.3 L1412.4 599.0 L1412.7 598.8 L1412.9 598.6 L1413.2 598.4 L1413.5 598.3 L1413.8 598.2 L1414.2 598.1 L1414.5 598.1 L1414.8 598.1 L1415.2 598.2 L1415.5 598.3 L1415.8 598.4 L1416.1 598.6 L1416.3 598.8 L1416.6 599.0 L1416.8 599.3 L1416.9 599.6 L1417.0 599.9 L1417.1 600.2 L1417.1 600.5Z" fill="none" stroke="#000" stroke-width="1" />
<path d="M1422.0 604.8 L1422.0 605.1 L1421.9 605.3 L1421.8 605.6 L1421.7 605.8 L1421.5 606.0 L1421.4 606.2 L1421.1 606.4 L1420.9 606.5 L1420.6 606.6 L1420.4 606.7 L1420.1 606.8 L1419.8 606.8 L1419.5 606.8 L1419.2 606.7 L1419.0 606.6 L1418.7 606.5 L1418.5 606.4 L1418.2 606.2 L1418.1 606.0 L1417.9 605.8 L1417.8 605.6 L1417.7 605.3 L1417.6 605.1 L1417.6 604.8 L1417.6 604.5 L1417.7 604.3 L1417.8 604.0 L1417.9 603.8 L1418.1 603.6 L1418.2 603.4 L1418.5 603.2 L1418.7 603.1 L1419.0 603.0 L1419.2 602.9 L1419.5 602.8 L1419.8 602.8 L1420.1 602.8 L1420.4 602.9 L1420.6 603.0 L1420.9 603.1 L1421.1 603.2 L1421.4 603.4 L1421.5 603.6 L1421.7 603.8 L1421.8 604.0 L1421.9 604.3 L1422.0 604.5 L1422.0 604.8Z" fill="#000" stroke="#000" stroke-width="1" />
<path d="M1410 597.5 L1413 600" fill="none" stroke="#000" stroke-width="1.5" />
<path d="M1218.5 482 Q1217.5 478 1222 476.2 L1234 472.6 L1252.5 471.8 L1253 477.8 L1240 480.5 L1228.5 487.8 L1222.5 488 Q1218.8 487 1218.5 482 Z" fill="#fff" stroke="#000" stroke-width="1.2" />
<path d="M1227.0 481.9 L1227.0 482.1 L1227.0 482.3 L1226.9 482.5 L1226.8 482.7 L1226.6 482.9 L1226.5 483.0 L1226.2 483.2 L1226.0 483.4 L1225.7 483.5 L1225.5 483.6 L1225.2 483.7 L1224.9 483.8 L1224.5 483.8 L1224.2 483.8 L1223.9 483.8 L1223.6 483.8 L1223.4 483.7 L1223.1 483.6 L1222.9 483.5 L1222.7 483.4 L1222.5 483.3 L1222.4 483.1 L1222.3 482.9 L1222.2 482.7 L1222.2 482.5 L1222.2 482.3 L1222.3 482.1 L1222.4 481.9 L1222.6 481.7 L1222.7 481.6 L1223.0 481.4 L1223.2 481.2 L1223.5 481.1 L1223.7 481.0 L1224.0 480.9 L1224.3 480.8 L1224.7 480.8 L1225.0 480.8 L1225.3 480.8 L1225.6 480.8 L1225.8 480.9 L1226.1 481.0 L1226.3 481.1 L1226.5 481.2 L1226.7 481.3 L1226.8 481.5 L1226.9 481.7 L1227.0 481.9Z" fill="none" stroke="#000" stroke-width="1" />
<path d="M1241.6 477.3 L1241.6 477.5 L1241.5 477.7 L1241.5 477.9 L1241.4 478.1 L1241.3 478.3 L1241.1 478.4 L1241.0 478.6 L1240.8 478.7 L1240.6 478.8 L1240.4 478.8 L1240.2 478.9 L1240.0 478.9 L1239.8 478.9 L1239.6 478.8 L1239.4 478.8 L1239.2 478.7 L1239.0 478.6 L1238.9 478.4 L1238.7 478.3 L1238.6 478.1 L1238.5 477.9 L1238.5 477.7 L1238.4 477.5 L1238.4 477.3 L1238.4 477.1 L1238.5 476.9 L1238.5 476.7 L1238.6 476.5 L1238.7 476.3 L1238.9 476.2 L1239.0 476.0 L1239.2 475.9 L1239.4 475.8 L1239.6 475.8 L1239.8 475.7 L1240.0 475.7 L1240.2 475.7 L1240.4 475.8 L1240.6 475.8 L1240.8 475.9 L1241.0 476.0 L1241.1 476.2 L1241.3 476.3 L1241.4 476.5 L1241.5 476.7 L1241.5 476.9 L1241.6 477.1 L1241.6 477.3Z" fill="#000" stroke="#000" stroke-width="1" />
<path d="M1243 483 L1243 506" fill="none" stroke="#000" stroke-width="1.1" />
<path d="M1251.5 488 L1250 540 M1254.5 489 L1251 520" fill="none" stroke="#000" stroke-width="1" />
<path d="M1242.5 532 Q1241.5 538 1246 541.5 M1245 535.5 Q1247.5 534.5 1247.5 538 Q1246 540 1244.5 538 Z" fill="none" stroke="#000" stroke-width="1" />
<path d="M1250.5 541 L1247 548 L1246.5 556" fill="none" stroke="#000" stroke-width="2.2" />
<path d="M1249 548 L1259 540" fill="none" stroke="#000" stroke-width="1" stroke-dasharray="3 2"/>
<path d="M1259 540 L1262 523 L1262.5 500" fill="none" stroke="#000" stroke-width="1" />
<path d="M1260.5 604 Q1260 599 1264 599.3 Q1268 599.8 1269 603.5 L1302.5 667 L1301.5 670.5 L1297 671 L1262.5 611 Z" fill="#fff" stroke="#000" stroke-width="1.1" />
<path d="M1266 604.5 L1299.5 668" fill="none" stroke="#000" stroke-width="1" />
<path d="M1266.3 606.4 L1266.4 606.7 L1266.4 607.0 L1266.5 607.3 L1266.5 607.6 L1266.4 607.9 L1266.4 608.2 L1266.3 608.4 L1266.2 608.6 L1266.0 608.8 L1265.8 609.0 L1265.6 609.2 L1265.4 609.3 L1265.2 609.3 L1265.0 609.3 L1264.7 609.3 L1264.5 609.3 L1264.2 609.2 L1264.0 609.0 L1263.8 608.9 L1263.5 608.7 L1263.4 608.4 L1263.2 608.2 L1263.0 607.9 L1262.9 607.6 L1262.8 607.3 L1262.8 607.0 L1262.7 606.7 L1262.7 606.4 L1262.8 606.1 L1262.8 605.8 L1262.9 605.6 L1263.0 605.4 L1263.2 605.2 L1263.4 605.0 L1263.6 604.8 L1263.8 604.7 L1264.0 604.7 L1264.2 604.7 L1264.5 604.7 L1264.7 604.7 L1265.0 604.8 L1265.2 605.0 L1265.4 605.1 L1265.7 605.3 L1265.8 605.6 L1266.0 605.8 L1266.2 606.1 L1266.3 606.4Z" fill="none" stroke="#000" stroke-width="1" />
<rect x="1299.5" y="667" width="3" height="3" fill="#fff" stroke="#000" stroke-width="1"/>
<path d="M1297.5 670 Q1300 674 1296 676 L1275 684.8 Q1270.5 685.5 1270.5 682.5 Q1270.5 679.5 1274 678 L1294 671" fill="#fff" stroke="#000" stroke-width="1.1" />
<path d="M1275 681.5 L1292 675" fill="none" stroke="#000" stroke-width="2" stroke-dasharray="3 2"/>
<path d="M1286 673 L1289 679" fill="none" stroke="#000" stroke-width="1" />
<path d="M697 1000 Q693.5 996 694.7 988.5 Q695.5 985 699 984 L889 914" fill="none" stroke="#000" stroke-width="1" />
<path d="M889.0 914.0 C889.8 914.0 892.2 913.7 893.5 914.2 C894.8 914.7 895.2 915.1 897.0 917.0 C898.8 918.9 901.9 922.3 904.4 925.3 C906.9 928.3 909.4 931.6 912.0 935.0 C914.6 938.4 917.3 942.0 920.3 945.7 C923.3 949.5 926.6 953.7 930.0 957.5 C933.4 961.3 937.2 965.2 940.7 968.4 C944.2 971.6 947.2 974.2 951.0 976.5 C954.8 978.8 959.1 980.6 963.3 982.0 C967.5 983.4 971.6 984.2 976.0 985.0 C980.4 985.8 987.2 986.2 989.4 986.5" fill="none" stroke="#000" stroke-width="1.2" />
<path d="M697.0 1000.1 C698.5 1002.1 702.8 1007.9 706.0 1012.0 C709.2 1016.1 713.0 1020.8 716.3 1025.0 C719.6 1029.2 722.6 1033.2 726.0 1037.0 C729.4 1040.8 732.7 1044.0 736.7 1047.7 C740.8 1051.4 745.8 1056.2 750.3 1059.0 C754.8 1061.8 758.6 1063.8 763.9 1064.7 C769.2 1065.7 779.0 1064.7 782.0 1064.7" fill="none" stroke="#000" stroke-width="1.1" />
<path d="M782.0 1064.7 C782.8 1063.9 784.7 1061.4 787.0 1060.0 C789.3 1058.6 793.0 1057.4 796.0 1056.5 C799.0 1055.6 799.0 1056.6 804.7 1054.5 C810.4 1052.4 818.7 1048.5 830.0 1044.0 C841.3 1039.5 863.7 1030.4 872.7 1027.3 C881.7 1024.2 880.2 1026.4 884.0 1025.5 C887.8 1024.6 886.0 1025.1 895.3 1021.7 C904.6 1018.3 924.3 1010.7 940.0 1005.0 C955.7 999.3 981.2 990.6 989.4 987.7" fill="none" stroke="#000" stroke-width="1.3" />
<path d="M750.3 1059 L816 1027.3 L870.4 998" fill="none" stroke="#000" stroke-width="1.2" />
<path d="M697 1000 L707.2 1072.7 L791 1132.7" fill="none" stroke="#000" stroke-width="1" />
<path d="M783.1 1066 L791 1131.6" fill="none" stroke="#000" stroke-width="2.2" stroke-dasharray="7 3"/>
<path d="M791 1132.7 Q794 1134.5 798 1132.5 L995 1042" fill="none" stroke="#000" stroke-width="1" />
<path d="M989.4 986.5 L995 1042" fill="none" stroke="#000" stroke-width="1.2" />
<path d="M714.7 985.8 L714.7 986.2 L714.6 986.5 L714.5 986.9 L714.3 987.2 L714.1 987.5 L713.8 987.8 L713.5 988.0 L713.2 988.2 L712.8 988.4 L712.5 988.5 L712.1 988.6 L711.7 988.6 L711.3 988.6 L710.9 988.5 L710.6 988.4 L710.2 988.2 L709.9 988.0 L709.6 987.8 L709.3 987.5 L709.1 987.2 L708.9 986.9 L708.8 986.5 L708.7 986.2 L708.7 985.8 L708.7 985.4 L708.8 985.1 L708.9 984.7 L709.1 984.4 L709.3 984.1 L709.6 983.8 L709.9 983.6 L710.2 983.4 L710.6 983.2 L710.9 983.1 L711.3 983.0 L711.7 983.0 L712.1 983.0 L712.5 983.1 L712.8 983.2 L713.2 983.4 L713.5 983.6 L713.8 983.8 L714.1 984.1 L714.3 984.4 L714.5 984.7 L714.6 985.1 L714.7 985.4 L714.7 985.8Z" fill="none" stroke="#000" stroke-width="1" />
<path d="M806.3 952.5 L806.3 952.9 L806.2 953.2 L806.0 953.6 L805.8 953.9 L805.6 954.2 L805.3 954.5 L804.9 954.7 L804.5 954.9 L804.1 955.1 L803.7 955.2 L803.3 955.3 L802.8 955.3 L802.3 955.3 L801.9 955.2 L801.5 955.1 L801.0 954.9 L800.7 954.7 L800.3 954.5 L800.0 954.2 L799.8 953.9 L799.6 953.6 L799.4 953.2 L799.3 952.9 L799.3 952.5 L799.3 952.1 L799.4 951.8 L799.6 951.4 L799.8 951.1 L800.0 950.8 L800.3 950.5 L800.7 950.3 L801.0 950.1 L801.5 949.9 L801.9 949.8 L802.3 949.7 L802.8 949.7 L803.3 949.7 L803.7 949.8 L804.1 949.9 L804.5 950.1 L804.9 950.3 L805.3 950.5 L805.6 950.8 L805.8 951.1 L806.0 951.4 L806.2 951.8 L806.3 952.1 L806.3 952.5Z" fill="none" stroke="#000" stroke-width="1" />
<path d="M806.0 979.7 L806.0 980.0 L805.9 980.3 L805.8 980.6 L805.6 980.9 L805.4 981.2 L805.1 981.4 L804.8 981.6 L804.5 981.8 L804.1 981.9 L803.8 982.0 L803.4 982.1 L803.0 982.1 L802.6 982.1 L802.2 982.0 L801.9 981.9 L801.5 981.8 L801.2 981.6 L800.9 981.4 L800.6 981.2 L800.4 980.9 L800.2 980.6 L800.1 980.3 L800.0 980.0 L800.0 979.7 L800.0 979.4 L800.1 979.1 L800.2 978.8 L800.4 978.5 L800.6 978.2 L800.9 978.0 L801.2 977.8 L801.5 977.6 L801.9 977.5 L802.2 977.4 L802.6 977.3 L803.0 977.3 L803.4 977.3 L803.8 977.4 L804.1 977.5 L804.5 977.6 L804.8 977.8 L805.1 978.0 L805.4 978.2 L805.6 978.5 L805.8 978.8 L805.9 979.1 L806.0 979.4 L806.0 979.7Z" fill="none" stroke="#000" stroke-width="1" />
<path d="M806.9 992.1 L807.1 992.5 L807.1 993.0 L807.1 993.5 L807.0 993.9 L806.9 994.4 L806.7 994.9 L806.4 995.3 L806.0 995.7 L805.6 996.1 L805.2 996.4 L804.7 996.7 L804.2 996.9 L803.7 997.0 L803.2 997.1 L802.6 997.2 L802.1 997.1 L801.6 997.1 L801.1 996.9 L800.6 996.7 L800.2 996.4 L799.8 996.1 L799.5 995.8 L799.2 995.4 L799.1 994.9 L798.9 994.5 L798.9 994.0 L798.9 993.5 L799.0 993.1 L799.1 992.6 L799.3 992.1 L799.6 991.7 L800.0 991.3 L800.4 990.9 L800.8 990.6 L801.3 990.3 L801.8 990.1 L802.3 990.0 L802.8 989.9 L803.4 989.8 L803.9 989.9 L804.4 989.9 L804.9 990.1 L805.4 990.3 L805.8 990.6 L806.2 990.9 L806.5 991.2 L806.8 991.6 L806.9 992.1Z" fill="none" stroke="#000" stroke-width="1" />
<path d="M805.5 1011 L809.5 1006.5 L809.5 1012 Z" fill="none" stroke="#000" stroke-width="1" />
<path d="M816.1 1023.9 L816.1 1024.2 L816.0 1024.5 L815.9 1024.7 L815.8 1025.0 L815.6 1025.2 L815.4 1025.5 L815.2 1025.6 L814.9 1025.8 L814.6 1025.9 L814.3 1026.0 L814.0 1026.1 L813.7 1026.1 L813.4 1026.1 L813.1 1026.0 L812.8 1025.9 L812.5 1025.8 L812.2 1025.6 L812.0 1025.5 L811.8 1025.2 L811.6 1025.0 L811.5 1024.7 L811.4 1024.5 L811.3 1024.2 L811.3 1023.9 L811.3 1023.6 L811.4 1023.3 L811.5 1023.1 L811.6 1022.8 L811.8 1022.6 L812.0 1022.3 L812.2 1022.2 L812.5 1022.0 L812.8 1021.9 L813.1 1021.8 L813.4 1021.7 L813.7 1021.7 L814.0 1021.7 L814.3 1021.8 L814.6 1021.9 L814.9 1022.0 L815.2 1022.2 L815.4 1022.3 L815.6 1022.6 L815.8 1022.8 L815.9 1023.1 L816.0 1023.3 L816.1 1023.6 L816.1 1023.9Z" fill="none" stroke="#000" stroke-width="1" />
<path d="M907.9 940.7 L907.9 941.0 L907.8 941.3 L907.7 941.5 L907.6 941.8 L907.4 942.0 L907.2 942.3 L907.0 942.4 L906.7 942.6 L906.4 942.7 L906.1 942.8 L905.8 942.9 L905.5 942.9 L905.2 942.9 L904.9 942.8 L904.6 942.7 L904.3 942.6 L904.0 942.4 L903.8 942.3 L903.6 942.0 L903.4 941.8 L903.3 941.5 L903.2 941.3 L903.1 941.0 L903.1 940.7 L903.1 940.4 L903.2 940.1 L903.3 939.9 L903.4 939.6 L903.6 939.4 L903.8 939.1 L904.0 939.0 L904.3 938.8 L904.6 938.7 L904.9 938.6 L905.2 938.5 L905.5 938.5 L905.8 938.5 L906.1 938.6 L906.4 938.7 L906.7 938.8 L907.0 939.0 L907.2 939.1 L907.4 939.4 L907.6 939.6 L907.7 939.9 L907.8 940.1 L907.9 940.4 L907.9 940.7Z" fill="none" stroke="#000" stroke-width="1" />
<rect x="771" y="955.5" width="2" height="2" fill="#000"/>
<path d="M910 930 L913 943" fill="none" stroke="#000" stroke-width="2" />
<path d="M839.2 977 Q840.2 974.5 841.5 975.6 L846.5 985 L846.5 988 L841.3 988.7 L840.6 981.5 Z" fill="#fff" stroke="#000" stroke-width="1" />
<path d="M840.6 988.7 L850.1 986.5 L850.9 990.9 L841.3 993.1 Z" fill="#fff" stroke="#000" stroke-width="1" />
<path d="M836.9 997.5 L843 994 L857.5 990.1 L862 991.5" fill="none" stroke="#000" stroke-width="1" stroke-dasharray="6 2"/>
<path d="M821.5 1006.3 L826 1002 L836.9 998.2 L851.6 1006.3 L835.5 1015 L836.9 1038.5 L831 1040.5 L823 1018 Z" fill="#fff" stroke="#000" stroke-width="1" />
<path d="M821.5 1006.3 L835.5 1015" fill="none" stroke="#000" stroke-width="1" />
<path d="M838.5 999.5 L853 1008.5 M836 1001.5 L850 1010" fill="none" stroke="#000" stroke-width="1" />
<path d="M851.6 1006.3 L869.9 999 M835.5 1015 L852 1008.5" fill="none" stroke="#000" stroke-width="1" />
<path d="M854.3 1010.0 L854.3 1010.3 L854.2 1010.6 L854.1 1010.8 L854.0 1011.1 L853.9 1011.3 L853.7 1011.6 L853.5 1011.7 L853.3 1011.9 L853.1 1012.0 L852.8 1012.1 L852.6 1012.2 L852.3 1012.2 L852.0 1012.2 L851.8 1012.1 L851.5 1012.0 L851.3 1011.9 L851.1 1011.7 L850.9 1011.6 L850.7 1011.3 L850.6 1011.1 L850.5 1010.8 L850.4 1010.6 L850.3 1010.3 L850.3 1010.0 L850.3 1009.7 L850.4 1009.4 L850.5 1009.2 L850.6 1008.9 L850.7 1008.7 L850.9 1008.4 L851.1 1008.3 L851.3 1008.1 L851.5 1008.0 L851.8 1007.9 L852.0 1007.8 L852.3 1007.8 L852.6 1007.8 L852.8 1007.9 L853.1 1008.0 L853.3 1008.1 L853.5 1008.3 L853.7 1008.4 L853.9 1008.7 L854.0 1008.9 L854.1 1009.2 L854.2 1009.4 L854.3 1009.7 L854.3 1010.0Z" fill="#000" stroke="#000" stroke-width="1" />
<path d="M862 993 L868 990.5 L870.5 999.5 M866 991 L869 997" fill="none" stroke="#000" stroke-width="1.2" />
<path d="M816.4 1018 Q817 1015.5 820 1015.5 L829.6 1013.5 L830.5 1017.5 L822 1021 L818 1021 Z" fill="#fff" stroke="#000" stroke-width="1.2" />
<path d="M819.5 1018.5 L826 1016.5" fill="none" stroke="#000" stroke-width="1.8" />
<path d="M822 1021 L833 1030 M826 1019.5 L834 1026" fill="none" stroke="#000" stroke-width="1" />
<rect x="832" y="1023.5" width="3.6" height="4.6" fill="#000"/>
<path d="M817.1 1034 L827.4 1031.2 L828.1 1038.5 L817.9 1042.2 Z" fill="#fff" stroke="#000" stroke-width="1.2" />
<rect x="820.3" y="1035.2" width="2.6" height="2.6" fill="#000"/>
<path d="M828.1 1038.5 L832 1042 L836.9 1040" fill="none" stroke="#000" stroke-width="1" />
<path d="M873.6 985.7 L878 982 L914.7 972.5" fill="none" stroke="#000" stroke-width="1" />
<path d="M878 999 L913.2 984.3" fill="none" stroke="#000" stroke-width="1.2" />
<path d="M873.6 985.7 L873.6 1023.9" fill="none" stroke="#000" stroke-width="2.6" />
<path d="M876.5 993 L879.5 992 L880.5 1002 L877 1003 Z M876 1012 L879 1011 L880.5 1020.5 L876.5 1021.5 Z" fill="#fff" stroke="#000" stroke-width="1.2" />
<path d="M878 999 L880.2 1003.3 L878.5 1018" fill="none" stroke="#000" stroke-width="1" />
<path d="M879.7 986.0 L879.7 986.4 L879.6 986.7 L879.5 987.1 L879.3 987.4 L879.0 987.7 L878.8 988.0 L878.4 988.2 L878.1 988.4 L877.7 988.6 L877.3 988.7 L876.9 988.8 L876.5 988.8 L876.1 988.8 L875.7 988.7 L875.3 988.6 L874.9 988.4 L874.6 988.2 L874.2 988.0 L874.0 987.7 L873.7 987.4 L873.5 987.1 L873.4 986.7 L873.3 986.4 L873.3 986.0 L873.3 985.6 L873.4 985.3 L873.5 984.9 L873.7 984.6 L874.0 984.3 L874.2 984.0 L874.6 983.8 L874.9 983.6 L875.3 983.4 L875.7 983.3 L876.1 983.2 L876.5 983.2 L876.9 983.2 L877.3 983.3 L877.7 983.4 L878.1 983.6 L878.4 983.8 L878.8 984.0 L879.0 984.3 L879.3 984.6 L879.5 984.9 L879.6 985.3 L879.7 985.6 L879.7 986.0Z" fill="none" stroke="#000" stroke-width="1.6" />
<path d="M885.4 984.5 L885.4 984.8 L885.3 985.2 L885.2 985.5 L885.1 985.8 L884.9 986.1 L884.6 986.3 L884.4 986.6 L884.1 986.8 L883.8 986.9 L883.5 987.0 L883.1 987.1 L882.8 987.1 L882.5 987.1 L882.1 987.0 L881.8 986.9 L881.5 986.8 L881.2 986.6 L881.0 986.3 L880.7 986.1 L880.5 985.8 L880.4 985.5 L880.3 985.2 L880.2 984.8 L880.2 984.5 L880.2 984.2 L880.3 983.8 L880.4 983.5 L880.5 983.2 L880.7 982.9 L881.0 982.7 L881.2 982.4 L881.5 982.2 L881.8 982.1 L882.1 982.0 L882.5 981.9 L882.8 981.9 L883.1 981.9 L883.5 982.0 L883.8 982.1 L884.1 982.2 L884.4 982.4 L884.6 982.7 L884.9 982.9 L885.1 983.2 L885.2 983.5 L885.3 983.8 L885.4 984.2 L885.4 984.5Z" fill="none" stroke="#000" stroke-width="1" />
<path d="M886 983 L893 977 L898 978 L899.5 982 L893 985.5" fill="none" stroke="#000" stroke-width="1.1" />
<path d="M890 986.5 L897 984 L899 986 L893 988.5 Z" fill="#fff" stroke="#000" stroke-width="1.3" />
<path d="M896 989.5 L904 986.5 L905.5 988 L898.5 991 Z" fill="#fff" stroke="#000" stroke-width="1.3" />
<path d="M901 979 L904.5 975 L906 984.5 M903 978 L905 983" fill="none" stroke="#000" stroke-width="1.4" />
<path d="M905 984 L913 980.5" fill="none" stroke="#000" stroke-width="2" />
<path d="M892 999 Q895 994.5 905 994" fill="none" stroke="#000" stroke-width="1" />
<path d="M891 1002.5 Q895 1008 905 1006 Q911 1004 913.5 1000.5" fill="none" stroke="#000" stroke-width="1" />
<path d="M914.7 972.5 L916 963.5 L921.5 965.5 L924 970.5" fill="none" stroke="#000" stroke-width="1.1" />
<path d="M916 971.5 L917.5 966 L921 967.5" fill="none" stroke="#000" stroke-width="1" />
<path d="M913.5 979.7 L922 976 L934 970.5 L935.5 976 L929 978.5 L927 982 L924.5 981" fill="none" stroke="#000" stroke-width="1.1" />
<path d="M922 976 L923.5 980.5 Q925.5 982.5 927.5 981" fill="none" stroke="#000" stroke-width="1.1" />
<path d="M929 978.5 L935.2 981.3 L935.5 976 M931 979.5 L931.5 988.7" fill="none" stroke="#000" stroke-width="1.2" />
<path d="M930.8 981.3 L929.5 988 L933 988 Z" fill="#000" stroke="#000" stroke-width="1" />
<path d="M930 944.5 Q931 941 933 943.5 L936.7 953.5 L932.5 955.5 Z" fill="#fff" stroke="#000" stroke-width="1" />
<path d="M930.8 956 L941.5 952 L942.5 957 L932 961 Z" fill="#fff" stroke="#000" stroke-width="1" />
<path d="M933 958 L940 955.5" fill="none" stroke="#000" stroke-width="1.6" />
<path d="M936 961 L943 958.5 L945 968 L939.5 963.5 Z" fill="none" stroke="#000" stroke-width="1" />
<path d="M749.0 929.5 L748.8 932.6 L748.2 935.7 L747.3 938.7 L746.0 941.5 L744.4 944.1 L742.4 946.5 L740.2 948.5 L737.8 950.3 L735.1 951.7 L732.3 952.7 L729.4 953.3 L726.5 953.5 L723.6 953.3 L720.7 952.7 L717.9 951.7 L715.2 950.3 L712.8 948.5 L710.6 946.5 L708.6 944.1 L707.0 941.5 L705.7 938.7 L704.8 935.7 L704.2 932.6 L704.0 929.5 L704.2 926.4 L704.8 923.3 L705.7 920.3 L707.0 917.5 L708.6 914.9 L710.6 912.5 L712.8 910.5 L715.2 908.7 L717.9 907.3 L720.7 906.3 L723.6 905.7 L726.5 905.5 L729.4 905.7 L732.3 906.3 L735.1 907.3 L737.8 908.7 L740.2 910.5 L742.4 912.5 L744.4 914.9 L746.0 917.5 L747.3 920.3 L748.2 923.3 L748.8 926.4 L749.0 929.5Z" fill="none" stroke="#000" stroke-width="1" />
<path d="M746.7 932.4 L746.1 935.1 L745.1 937.8 L743.8 940.2 L742.3 942.5 L740.5 944.6 L738.4 946.4 L736.2 947.9 L733.9 949.0 L731.4 949.9 L728.9 950.3 L726.3 950.4 L723.8 950.2 L721.3 949.6 L718.9 948.6 L716.7 947.3 L714.7 945.6 L712.8 943.7 L711.3 941.6 L710.0 939.2 L709.0 936.7 L708.3 934.0 L708.0 931.2 L708.0 928.4 L708.3 925.6 L708.9 922.9 L709.9 920.2 L711.2 917.8 L712.7 915.5 L714.5 913.4 L716.6 911.6 L718.8 910.1 L721.1 909.0 L723.6 908.1 L726.1 907.7 L728.7 907.6 L731.2 907.8 L733.7 908.4 L736.1 909.4 L738.3 910.7 L740.3 912.4 L742.2 914.3 L743.7 916.4 L745.0 918.8 L746.0 921.3 L746.7 924.0 L747.0 926.8 L747.0 929.6 L746.7 932.4Z" fill="none" stroke="#000" stroke-width="1" />
<path d="M706 910 Q702 906.5 699.5 911 Q698.5 916 703 918 L708 926" fill="none" stroke="#000" stroke-width="1" />
<path d="M707 913 L712 920 L720 923 L716 917 Z" fill="none" stroke="#000" stroke-width="1" />
<path d="M731.4 930.9 L731.2 931.5 L730.9 932.1 L730.5 932.6 L730.1 933.1 L729.6 933.5 L729.1 933.8 L728.5 934.1 L728.0 934.3 L727.4 934.4 L726.9 934.4 L726.3 934.3 L725.8 934.2 L725.3 934.0 L724.8 933.7 L724.4 933.3 L724.0 932.9 L723.7 932.4 L723.5 931.8 L723.3 931.2 L723.2 930.6 L723.2 930.0 L723.2 929.3 L723.4 928.7 L723.6 928.1 L723.8 927.5 L724.1 926.9 L724.5 926.4 L724.9 925.9 L725.4 925.5 L725.9 925.2 L726.5 924.9 L727.0 924.7 L727.6 924.6 L728.1 924.6 L728.7 924.7 L729.2 924.8 L729.7 925.0 L730.2 925.3 L730.6 925.7 L731.0 926.1 L731.3 926.6 L731.5 927.2 L731.7 927.8 L731.8 928.4 L731.8 929.0 L731.8 929.7 L731.6 930.3 L731.4 930.9Z" fill="none" stroke="#000" stroke-width="1.3" />
<path d="M729.5 930.3 L729.4 930.6 L729.2 930.9 L729.0 931.2 L728.8 931.5 L728.6 931.7 L728.4 931.9 L728.1 932.0 L727.9 932.1 L727.6 932.2 L727.4 932.2 L727.1 932.2 L726.9 932.1 L726.7 932.0 L726.5 931.9 L726.3 931.7 L726.2 931.5 L726.1 931.3 L726.0 931.0 L725.9 930.7 L725.9 930.4 L725.9 930.1 L725.9 929.7 L726.0 929.4 L726.1 929.1 L726.2 928.8 L726.4 928.5 L726.6 928.2 L726.8 927.9 L727.0 927.7 L727.2 927.5 L727.5 927.4 L727.7 927.3 L728.0 927.2 L728.2 927.2 L728.5 927.2 L728.7 927.3 L728.9 927.4 L729.1 927.5 L729.3 927.7 L729.4 927.9 L729.5 928.1 L729.6 928.4 L729.7 928.7 L729.7 929.0 L729.7 929.3 L729.7 929.7 L729.6 930.0 L729.5 930.3Z" fill="none" stroke="#000" stroke-width="1" />
<path d="M719 923 Q722 918 727 921 M732 934 L737 931 M735 912 L734 924 M712 925 L721 917" fill="none" stroke="#000" stroke-width="1" />
<path d="M708 940 Q717 951 733 948.5" fill="none" stroke="#000" stroke-width="1.2" />
<path d="M718.5 950.3 L720 944" fill="none" stroke="#000" stroke-width="1.6" />
<path d="M763.5 939.3 L763.5 939.8 L763.4 940.4 L763.2 940.9 L763.0 941.4 L762.7 941.9 L762.3 942.3 L761.9 942.6 L761.5 942.9 L761.0 943.2 L760.5 943.4 L760.0 943.5 L759.5 943.5 L759.0 943.5 L758.5 943.4 L758.0 943.2 L757.5 942.9 L757.1 942.6 L756.7 942.3 L756.3 941.9 L756.0 941.4 L755.8 940.9 L755.6 940.4 L755.5 939.8 L755.5 939.3 L755.5 938.8 L755.6 938.2 L755.8 937.7 L756.0 937.2 L756.3 936.7 L756.7 936.3 L757.1 936.0 L757.5 935.7 L758.0 935.4 L758.5 935.2 L759.0 935.1 L759.5 935.1 L760.0 935.1 L760.5 935.2 L761.0 935.4 L761.5 935.7 L761.9 936.0 L762.3 936.3 L762.7 936.7 L763.0 937.2 L763.2 937.7 L763.4 938.2 L763.5 938.8 L763.5 939.3Z" fill="none" stroke="#000" stroke-width="1.2" />
<path d="M761.8 939.6 L761.8 939.9 L761.7 940.2 L761.6 940.4 L761.5 940.7 L761.4 940.9 L761.2 941.2 L761.0 941.3 L760.8 941.5 L760.6 941.6 L760.3 941.7 L760.1 941.8 L759.8 941.8 L759.5 941.8 L759.3 941.7 L759.0 941.6 L758.8 941.5 L758.6 941.3 L758.4 941.2 L758.2 940.9 L758.1 940.7 L758.0 940.4 L757.9 940.2 L757.8 939.9 L757.8 939.6 L757.8 939.3 L757.9 939.0 L758.0 938.8 L758.1 938.5 L758.2 938.3 L758.4 938.0 L758.6 937.9 L758.8 937.7 L759.0 937.6 L759.3 937.5 L759.5 937.4 L759.8 937.4 L760.1 937.4 L760.3 937.5 L760.6 937.6 L760.8 937.7 L761.0 937.9 L761.2 938.0 L761.4 938.3 L761.5 938.5 L761.6 938.8 L761.7 939.0 L761.8 939.3 L761.8 939.6Z" fill="none" stroke="#000" stroke-width="1" />
<path d="M767.3 943.8 L767.3 944.2 L767.2 944.6 L767.1 944.9 L767.0 945.3 L766.9 945.6 L766.7 945.9 L766.5 946.2 L766.3 946.4 L766.1 946.6 L765.8 946.7 L765.6 946.8 L765.3 946.8 L765.0 946.8 L764.8 946.7 L764.5 946.6 L764.3 946.4 L764.1 946.2 L763.9 945.9 L763.7 945.6 L763.6 945.3 L763.5 944.9 L763.4 944.6 L763.3 944.2 L763.3 943.8 L763.3 943.4 L763.4 943.0 L763.5 942.7 L763.6 942.3 L763.7 942.0 L763.9 941.7 L764.1 941.4 L764.3 941.2 L764.5 941.0 L764.8 940.9 L765.0 940.8 L765.3 940.8 L765.6 940.8 L765.8 940.9 L766.1 941.0 L766.3 941.2 L766.5 941.4 L766.7 941.7 L766.9 942.0 L767.0 942.3 L767.1 942.7 L767.2 943.0 L767.3 943.4 L767.3 943.8Z" fill="none" stroke="#000" stroke-width="1.1" />
<path d="M765 953.5 L763.8 947 L766.5 947 Z" fill="#000" stroke="#000" stroke-width="1" />
<path d="M870.5 857.5 Q872 855 873.5 858 L876 866 L873.5 867 Z" fill="#fff" stroke="#000" stroke-width="1" />
<path d="M872.5 867.5 L881 864 L882.5 868.5 L874.5 872 Z" fill="#fff" stroke="#000" stroke-width="1.2" />
<path d="M875 872 L883 877 M877 870.5 L881 877.5" fill="none" stroke="#000" stroke-width="1.8" />
<path d="M996.5 1043 L1000 1050.5 L1003 1048 Z" fill="#000" stroke="#000" stroke-width="1" />
<path d="M984 989 L991.5 986" fill="none" stroke="#000" stroke-width="2" />
<g transform="rotate(-7 995.8 898.7)">
<ellipse cx="995.8" cy="898.7" rx="60.8" ry="34.9" fill="#fff" stroke="#000" stroke-width="1"/>
<ellipse cx="995.8" cy="898.7" rx="51.1" ry="29.3" fill="none" stroke="#000" stroke-width="1"/>
<ellipse cx="995.8" cy="898.7" rx="41.4" ry="23.7" fill="none" stroke="#000" stroke-width="1"/>
<ellipse cx="995.8" cy="898.7" rx="31.4" ry="18.0" fill="none" stroke="#000" stroke-width="1"/>
<ellipse cx="995.8" cy="898.7" rx="21.2" ry="12.2" fill="none" stroke="#000" stroke-width="1"/>
<ellipse cx="995.8" cy="898.7" rx="10.8" ry="6.2" fill="none" stroke="#000" stroke-width="1"/>
</g>
<path d="M992 907 L992 898 L998 896.5 L1001.5 901 L1005 898.5 M998 896.5 L1002 894" fill="none" stroke="#000" stroke-width="1.2" />
<path d="M1036.3 922.7 L1090.4 901.2 L1120.3 890.9" fill="none" stroke="#000" stroke-width="1" />
<path d="M1051.2 906.8 L1083.9 891.9 L1116.5 876" fill="none" stroke="#000" stroke-width="1" />
<path d="M1034.4 920.8 Q1033 925 1036.3 927.5" fill="none" stroke="#000" stroke-width="1" />
<path d="M1090.0 895.7 L1090.2 896.5 L1090.4 897.3 L1090.5 898.1 L1090.6 898.8 L1090.7 899.6 L1090.6 900.2 L1090.6 900.8 L1090.4 901.4 L1090.3 901.8 L1090.1 902.2 L1089.8 902.4 L1089.5 902.6 L1089.1 902.6 L1088.8 902.6 L1088.4 902.4 L1088.0 902.2 L1087.6 901.8 L1087.1 901.4 L1086.7 900.8 L1086.3 900.2 L1086.0 899.6 L1085.6 898.9 L1085.3 898.1 L1085.0 897.3 L1084.8 896.5 L1084.6 895.7 L1084.5 894.9 L1084.4 894.2 L1084.3 893.4 L1084.4 892.8 L1084.4 892.2 L1084.6 891.6 L1084.7 891.2 L1084.9 890.8 L1085.2 890.6 L1085.5 890.4 L1085.9 890.4 L1086.2 890.4 L1086.6 890.6 L1087.0 890.8 L1087.4 891.2 L1087.9 891.6 L1088.3 892.2 L1088.7 892.8 L1089.0 893.4 L1089.4 894.1 L1089.7 894.9 L1090.0 895.7Z" fill="#fff" stroke="#000" stroke-width="1" />
<path d="M1117.5 875.1 L1152 860.1 L1156.7 865.7 L1157.2 877.9 L1152 884.4 L1126.8 895.6 L1120.3 891.9 Z" fill="#fff" stroke="#000" stroke-width="1" />
<path d="M1152 860.1 L1153.5 884" fill="none" stroke="#000" stroke-width="1" />
<path d="M1117.5 875.1 Q1119.5 883 1120.3 891.9" fill="none" stroke="#000" stroke-width="1" />
<path d="M1107.2 865.7 L1140.8 850.8 L1152 860.1" fill="none" stroke="#000" stroke-width="1" />
<path d="M1107.2 865.7 L1112 857 L1122 851 L1140.8 850.8" fill="none" stroke="#000" stroke-width="1" />
<path d="M1099 858 Q1097 866 1100 873" fill="none" stroke="#000" stroke-width="1" />
<path d="M1104.1 873.8 L1104.3 874.2 L1104.5 874.7 L1104.6 875.2 L1104.8 875.6 L1104.8 876.1 L1104.8 876.5 L1104.8 876.9 L1104.7 877.2 L1104.6 877.6 L1104.4 877.9 L1104.2 878.1 L1103.9 878.3 L1103.6 878.4 L1103.3 878.5 L1103.0 878.5 L1102.6 878.5 L1102.2 878.3 L1101.9 878.2 L1101.5 878.0 L1101.2 877.7 L1100.8 877.4 L1100.5 877.0 L1100.2 876.6 L1099.9 876.2 L1099.7 875.8 L1099.5 875.3 L1099.4 874.8 L1099.2 874.4 L1099.2 873.9 L1099.2 873.5 L1099.2 873.1 L1099.3 872.8 L1099.4 872.4 L1099.6 872.1 L1099.8 871.9 L1100.1 871.7 L1100.4 871.6 L1100.7 871.5 L1101.0 871.5 L1101.4 871.5 L1101.8 871.7 L1102.1 871.8 L1102.5 872.0 L1102.8 872.3 L1103.2 872.6 L1103.5 873.0 L1103.8 873.4 L1104.1 873.8Z" fill="none" stroke="#000" stroke-width="1" />
<path d="M1098 870 Q1099 878 1107 879.5 L1117.5 875.1" fill="none" stroke="#000" stroke-width="1" />
<path d="M1101.5 841 Q1103 838 1106 841 L1118 850 L1114 853.5 L1103 846 Z" fill="#fff" stroke="#000" stroke-width="1.2" />
<path d="M1113 844 Q1117 840 1121 844 L1122.5 849.5 L1117 851 Z" fill="#fff" stroke="#000" stroke-width="1.2" />
<path d="M1121 842 L1127 839.5 L1133 845 L1131 851 M1126 843.5 L1128 850" fill="none" stroke="#000" stroke-width="1.2" />
<path d="M945.7 920.8 C946.4 921.5 948.3 923.5 950.0 925.0 C951.7 926.5 954.2 928.4 956.0 930.1 C957.8 931.9 959.6 933.6 960.5 935.5 C961.4 937.4 961.7 939.3 961.6 941.3 C961.5 943.3 960.9 945.6 960.0 947.5 C959.1 949.4 957.9 951.0 956.0 952.5 C954.1 954.0 949.8 955.7 948.5 956.3" fill="none" stroke="#000" stroke-width="1" />
<path d="M965.3 928.3 C965.8 929.3 967.9 932.3 968.5 934.5 C969.1 936.7 969.3 939.0 969.1 941.3 C968.9 943.5 968.4 945.8 967.5 948.0 C966.6 950.2 965.2 952.5 963.5 954.4 C961.8 956.3 959.7 958.1 957.5 959.5 C955.3 960.9 953.3 961.5 950.4 962.8 C947.5 964.1 941.8 966.7 940.1 967.5" fill="none" stroke="#000" stroke-width="1" />
<path d="M945.7 920.8 Q947.5 917.5 951 919.5" fill="none" stroke="#000" stroke-width="1" />
<path d="M947 956.5 L949.5 963" fill="none" stroke="#000" stroke-width="1" />
<text x="743.3" y="244.5" font-size="17" text-anchor="middle" fill="#000" stroke="#000" stroke-width="0.35" shape-rendering="geometricPrecision">19</text>
<text x="490.0" y="295.2" font-size="18" text-anchor="middle" fill="#000" stroke="#000" stroke-width="0.35" shape-rendering="geometricPrecision">29</text>
<text x="1020.6" y="295.2" font-size="18" text-anchor="middle" fill="#000" stroke="#000" stroke-width="0.35" shape-rendering="geometricPrecision">15</text>
<text x="1310.0" y="294.8" font-size="18" text-anchor="middle" fill="#000" stroke="#000" stroke-width="0.35" shape-rendering="geometricPrecision">25</text>
<text x="943.4" y="324.8" font-size="18" text-anchor="middle" fill="#000" stroke="#000" stroke-width="0.35" shape-rendering="geometricPrecision">24</text>
<text x="1162.0" y="340.0" font-size="18" text-anchor="middle" fill="#000" stroke="#000" stroke-width="0.35" shape-rendering="geometricPrecision">5</text>
<text x="1400.6" y="376.0" font-size="18" text-anchor="middle" fill="#000" stroke="#000" stroke-width="0.35" shape-rendering="geometricPrecision">17</text>
<text x="387.0" y="473.2" font-size="18" text-anchor="middle" fill="#000" stroke="#000" stroke-width="0.35" shape-rendering="geometricPrecision">8</text>
<text x="683.6" y="473.5" font-size="18" text-anchor="middle" fill="#000" stroke="#000" stroke-width="0.35" shape-rendering="geometricPrecision">28</text>
<text x="199.2" y="564.0" font-size="18" text-anchor="middle" fill="#000" stroke="#000" stroke-width="0.35" shape-rendering="geometricPrecision">6</text>
<text x="103.4" y="648.8" font-size="18" text-anchor="middle" fill="#000" stroke="#000" stroke-width="0.35" shape-rendering="geometricPrecision">22</text>
<text x="1462.7" y="655.5" font-size="18" text-anchor="middle" fill="#000" stroke="#000" stroke-width="0.35" shape-rendering="geometricPrecision">2</text>
<text x="1234.4" y="741.3" font-size="18" text-anchor="middle" fill="#000" stroke="#000" stroke-width="0.35" shape-rendering="geometricPrecision">14</text>
<text x="1297.2" y="768.0" font-size="18" text-anchor="middle" fill="#000" stroke="#000" stroke-width="0.35" shape-rendering="geometricPrecision">4</text>
<text x="68.2" y="814.8" font-size="18" text-anchor="middle" fill="#000" stroke="#000" stroke-width="0.35" shape-rendering="geometricPrecision">23</text>
<text x="1264.0" y="867.5" font-size="18" text-anchor="middle" fill="#000" stroke="#000" stroke-width="0.35" shape-rendering="geometricPrecision">16</text>
<text x="1117.5" y="1030.3" font-size="18" text-anchor="middle" fill="#000" stroke="#000" stroke-width="0.35" shape-rendering="geometricPrecision">18</text>
<text x="33.0" y="1050.2" font-size="18" text-anchor="middle" fill="#000" stroke="#000" stroke-width="0.35" shape-rendering="geometricPrecision">7</text>
<text x="236.8" y="1150.3" font-size="18" text-anchor="middle" fill="#000" stroke="#000" stroke-width="0.35" shape-rendering="geometricPrecision">10</text>
<text x="1117.2" y="1180.6" font-size="18" text-anchor="middle" fill="#000" stroke="#000" stroke-width="0.35" shape-rendering="geometricPrecision">30</text>
<text x="610.5" y="1182.8" font-size="18" text-anchor="middle" fill="#000" stroke="#000" stroke-width="0.35" shape-rendering="geometricPrecision">31</text>
<text x="732.1" y="1204.5" font-size="18" text-anchor="middle" fill="#000" stroke="#000" stroke-width="0.35" shape-rendering="geometricPrecision">21</text>
<text x="989.2" y="1206.3" font-size="18" text-anchor="middle" fill="#000" stroke="#000" stroke-width="0.35" shape-rendering="geometricPrecision">27</text>
<text x="853.2" y="1210.7" font-size="18" text-anchor="middle" fill="#000" stroke="#000" stroke-width="0.35" shape-rendering="geometricPrecision">13</text>
<text x="224.7" y="1215.6" font-size="14.3" text-anchor="middle" fill="#000" stroke="#000" stroke-width="0.35" shape-rendering="geometricPrecision">33</text>
<text x="922.8" y="1251.8" font-size="18" text-anchor="middle" fill="#000" stroke="#000" stroke-width="0.35" shape-rendering="geometricPrecision">9</text>
<text x="241.6" y="1258.5" font-size="18" text-anchor="middle" fill="#000" stroke="#000" stroke-width="0.35" shape-rendering="geometricPrecision">1</text>
<text x="337.7" y="1302.5" font-size="18" text-anchor="middle" fill="#000" stroke="#000" stroke-width="0.35" shape-rendering="geometricPrecision">26</text>
<line x1="753.2" y1="248.9" x2="886.0" y2="392.5" stroke="#000" stroke-width="1"/>
<line x1="501.2" y1="298.8" x2="873.0" y2="459.0" stroke="#000" stroke-width="1"/>
<line x1="1022.0" y1="300.0" x2="1079.5" y2="580.0" stroke="#000" stroke-width="1"/>
<line x1="1308.8" y1="298.0" x2="1278.0" y2="422.0" stroke="#000" stroke-width="1"/>
<line x1="944.0" y1="328.8" x2="1047.5" y2="641.0" stroke="#000" stroke-width="1"/>
<line x1="1162.8" y1="346.0" x2="1177.5" y2="560.0" stroke="#000" stroke-width="1"/>
<line x1="1390.0" y1="380.0" x2="1334.0" y2="446.0" stroke="#000" stroke-width="1"/>
<line x1="393.2" y1="477.2" x2="761.0" y2="826.0" stroke="#000" stroke-width="1"/>
<line x1="695.6" y1="469.2" x2="889.0" y2="533.4" stroke="#000" stroke-width="1"/>
<line x1="204.0" y1="567.2" x2="745.0" y2="883.0" stroke="#000" stroke-width="1"/>
<line x1="114.0" y1="652.0" x2="418.0" y2="912.0" stroke="#000" stroke-width="1"/>
<line x1="1457.3" y1="642.7" x2="1421.3" y2="606.7" stroke="#000" stroke-width="1"/>
<line x1="1222.7" y1="726.7" x2="1148.0" y2="637.3" stroke="#000" stroke-width="1"/>
<line x1="1291.5" y1="754.7" x2="1233.3" y2="630.7" stroke="#000" stroke-width="1"/>
<line x1="78.5" y1="818.5" x2="127.0" y2="888.0" stroke="#000" stroke-width="1"/>
<line x1="1253.3" y1="854.7" x2="1038.4" y2="660.8" stroke="#000" stroke-width="1"/>
<line x1="1104.7" y1="1016.4" x2="970.9" y2="932.0" stroke="#000" stroke-width="1"/>
<line x1="934.5" y1="906.8" x2="883.0" y2="876.5" stroke="#000" stroke-width="1"/>
<line x1="38.5" y1="1038.5" x2="67.8" y2="1004.4" stroke="#000" stroke-width="1"/>
<line x1="247.5" y1="1137.5" x2="311.6" y2="1051.3" stroke="#000" stroke-width="1"/>
<line x1="1102.9" y1="1164.9" x2="998.4" y2="1043.9" stroke="#000" stroke-width="1"/>
<line x1="618.0" y1="1167.0" x2="718.5" y2="950.3" stroke="#000" stroke-width="1"/>
<line x1="735.1" y1="1186.9" x2="764.8" y2="946.7" stroke="#000" stroke-width="1"/>
<line x1="987.4" y1="1188.7" x2="930.5" y2="983.4" stroke="#000" stroke-width="1"/>
<line x1="855.4" y1="1194.2" x2="873.7" y2="1005.4" stroke="#000" stroke-width="1"/>
<line x1="233.5" y1="1207.0" x2="344.6" y2="1044.7" stroke="#000" stroke-width="1"/>
<line x1="921.4" y1="1236.4" x2="879.2" y2="1016.4" stroke="#000" stroke-width="1"/>
<line x1="248.6" y1="1245.6" x2="394.1" y2="1049.5" stroke="#000" stroke-width="1"/>
<line x1="348.3" y1="1289.6" x2="475.5" y2="994.0" stroke="#000" stroke-width="1"/>
</svg>
</body></html>
